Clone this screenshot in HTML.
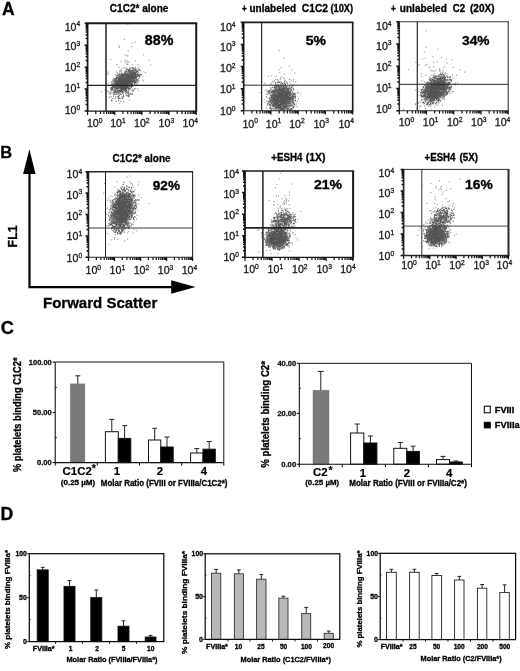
<!DOCTYPE html>
<html><head><meta charset="utf-8"><title>Figure</title>
<style>
html,body{margin:0;padding:0;background:#fff;}
body{width:520px;height:671px;overflow:hidden;}
svg{display:block;font-family:"Liberation Sans", Arial, Helvetica, sans-serif;filter:blur(0.4px);-webkit-font-smoothing:antialiased;}
</style></head><body>
<svg width="520" height="671" viewBox="0 0 520 671">
<defs><filter id="bl" x="-50%" y="-50%" width="200%" height="200%"><feGaussianBlur stdDeviation="1.6"/></filter></defs>
<rect width="520" height="671" fill="#fff"/>
<text x="2.0" y="14.8" font-size="17.5" font-weight="bold" text-anchor="start" fill="#000" stroke="#000" stroke-width="0.3" >A</text>
<text x="0.2" y="158.3" font-size="16.5" font-weight="bold" text-anchor="start" fill="#000" stroke="#000" stroke-width="0.3" >B</text>
<text x="0.7" y="333.8" font-size="18.2" font-weight="bold" text-anchor="start" fill="#000" stroke="#000" stroke-width="0.3" >C</text>
<text x="0.6" y="520.0" font-size="17.6" font-weight="bold" text-anchor="start" fill="#000" stroke="#000" stroke-width="0.3" >D</text>
<g><clipPath id="cp1"><rect x="87.6" y="23.2" width="108.6" height="87.9"/></clipPath>
<ellipse cx="125.5" cy="80" rx="13.2" ry="6.6" transform="rotate(-36 125.5 80)" fill="#828282" fill-opacity="0.85" filter="url(#bl)" clip-path="url(#cp1)"/>
<path d="M119.9 86.6h1M122.1 84.2h1M135.1 82.4h1M124.4 83.5h1M119.5 85.0h1M137.7 68.2h1M121.5 86.1h1M119.5 76.4h1M114.0 86.1h1M124.7 83.1h1M124.4 81.9h1M129.3 77.2h1M131.9 77.0h1M115.1 81.2h1M122.7 81.2h1M116.2 92.1h1M126.8 75.8h1M123.5 80.7h1M112.3 89.4h1M123.4 87.2h1M129.2 79.8h1M120.2 86.0h1M123.4 83.1h1M127.2 81.2h1M127.9 69.7h1M133.6 76.0h1M119.9 82.0h1M120.4 76.2h1M125.9 77.2h1M121.0 82.4h1M121.5 91.0h1M129.8 83.0h1M118.9 80.1h1M136.6 71.7h1M120.5 79.5h1M130.9 73.2h1M120.6 86.2h1M135.6 78.6h1M122.8 75.3h1M134.5 77.0h1M124.0 82.3h1M117.4 85.5h1M117.9 82.2h1M119.5 87.8h1M121.1 83.0h1M122.5 81.4h1M134.3 73.5h1M128.1 77.3h1M129.8 73.1h1M133.8 74.2h1M117.4 84.4h1M117.8 85.7h1M114.6 84.2h1M129.8 78.6h1M122.7 74.5h1M125.0 87.6h1M116.7 91.8h1M112.1 88.5h1M133.5 75.5h1M135.9 79.2h1M127.7 79.5h1M138.2 75.6h1M138.4 72.8h1M128.8 71.9h1M130.4 78.2h1M122.9 80.1h1M125.5 76.5h1M113.1 87.0h1M125.5 86.2h1M114.4 84.3h1M120.9 84.8h1M116.2 81.0h1M123.4 84.2h1M117.7 92.8h1M135.4 78.5h1M131.1 73.5h1M127.1 77.9h1M122.4 76.2h1M129.7 84.6h1M119.4 76.2h1M117.2 86.3h1M122.1 76.6h1M115.8 79.7h1M117.5 85.2h1M117.0 85.3h1M125.1 88.3h1M130.3 81.8h1M126.0 81.6h1M137.3 79.9h1M131.6 75.1h1M116.6 78.5h1M122.4 85.1h1M125.7 76.8h1M133.3 68.9h1M130.8 77.6h1M129.2 85.9h1M130.1 76.3h1M133.6 79.9h1M113.3 90.3h1M127.0 81.4h1M125.5 81.7h1M114.6 92.2h1M115.7 82.7h1M126.1 76.7h1M117.5 92.5h1M127.3 78.7h1M134.5 76.6h1M119.2 80.1h1M120.8 85.8h1M130.1 68.0h1M126.3 86.6h1M128.0 88.4h1M130.5 80.9h1M119.2 86.8h1M125.5 74.6h1M128.8 70.2h1M119.2 80.5h1M127.4 78.0h1M121.0 78.8h1M122.9 85.7h1M126.2 71.4h1M118.6 82.9h1M125.5 77.0h1M113.2 83.8h1M112.5 87.6h1M129.8 79.2h1M134.7 78.3h1M116.5 83.4h1M132.6 78.3h1M128.6 75.7h1M126.6 83.8h1M119.3 76.9h1M132.1 78.4h1M135.7 76.7h1M120.7 87.7h1M129.5 76.8h1M124.2 88.4h1M131.7 71.1h1M115.7 85.9h1M120.4 81.4h1M113.0 80.7h1M122.9 82.3h1M126.4 80.3h1M130.9 80.3h1M137.5 75.5h1M116.4 80.7h1M130.0 77.0h1M125.1 76.0h1M129.6 80.7h1M122.2 74.9h1M120.5 86.5h1M124.0 81.5h1M127.2 78.7h1M135.5 69.6h1M129.3 77.6h1M124.3 80.3h1M114.4 84.9h1M123.9 83.0h1M117.9 81.3h1M123.9 79.9h1M121.9 87.1h1M126.2 84.5h1M129.7 75.1h1M126.5 73.9h1M126.3 77.6h1M121.8 83.1h1M127.6 76.8h1M126.4 88.8h1M132.1 81.9h1M120.9 90.2h1M116.5 83.7h1M126.7 86.6h1M119.9 89.0h1M121.1 84.0h1M118.0 77.6h1M110.7 85.5h1M115.3 81.6h1M128.5 74.7h1M129.4 79.9h1M124.7 81.5h1M121.3 86.9h1M139.1 76.1h1M128.8 82.5h1M124.8 83.3h1M118.3 84.9h1M119.5 83.5h1M124.5 74.3h1M123.0 87.6h1M135.1 75.0h1M128.5 71.5h1M118.0 78.4h1M124.2 87.2h1M132.0 84.7h1M137.4 75.9h1M114.4 84.9h1M127.2 77.6h1M118.1 80.9h1M117.1 77.7h1M128.7 83.1h1M125.6 83.3h1M131.1 77.1h1M127.3 74.3h1M134.4 79.1h1M124.8 89.8h1M114.9 89.7h1M134.0 79.6h1M129.9 71.0h1M110.7 87.8h1M125.4 79.3h1M126.0 76.7h1M120.7 81.0h1M117.7 79.4h1M127.6 73.3h1M124.9 80.0h1M124.4 86.5h1M133.1 85.5h1M135.0 70.5h1M110.1 88.4h1M132.4 68.1h1M122.2 81.4h1M110.1 88.6h1M130.6 73.9h1M126.1 79.3h1M132.6 81.0h1M114.6 92.7h1M130.8 86.7h1M130.7 81.2h1M126.8 87.2h1M118.8 77.3h1M120.1 82.8h1M117.5 85.8h1M117.6 77.1h1M135.5 76.7h1M133.9 72.9h1M120.1 91.3h1M122.0 78.8h1M121.5 80.6h1M126.4 80.6h1M115.1 91.7h1M129.4 76.5h1M131.7 75.7h1M126.3 80.7h1M123.3 81.3h1M125.1 79.3h1M124.7 86.0h1M118.9 80.3h1M125.0 84.2h1M126.1 78.3h1M122.7 88.7h1M123.0 75.3h1M134.0 75.0h1M128.6 82.8h1M115.2 90.5h1M125.7 86.8h1M124.0 79.3h1M113.7 87.6h1M115.0 80.9h1M122.7 81.7h1M119.2 87.9h1M121.9 79.4h1M135.2 73.6h1M125.9 81.3h1M126.6 82.4h1M118.1 84.8h1M112.9 83.0h1M110.7 90.2h1M113.1 92.5h1M128.9 85.5h1M136.6 72.2h1M122.1 74.6h1M126.7 74.3h1M125.8 83.2h1M120.1 82.1h1M120.1 81.9h1M126.3 89.3h1M113.9 87.4h1M130.6 86.2h1M132.4 82.5h1M128.9 86.3h1M113.6 90.0h1M125.9 71.7h1M122.2 87.6h1M114.3 78.6h1M134.8 77.9h1M130.2 78.1h1M129.0 81.3h1M116.8 82.5h1M116.5 83.5h1M127.1 77.8h1M126.6 83.4h1M119.6 75.9h1M129.1 84.1h1M130.4 81.0h1M135.7 77.6h1M136.8 79.9h1M121.7 81.9h1M115.4 83.1h1M134.5 72.4h1M117.1 82.7h1M127.7 77.5h1M123.8 84.7h1M129.3 68.2h1M134.5 70.5h1M131.8 73.5h1M132.5 78.8h1M115.0 89.6h1M120.7 85.9h1M120.4 87.0h1M123.3 79.8h1M121.7 76.0h1M128.9 77.8h1M122.9 76.6h1M117.8 84.3h1M123.4 78.4h1M122.0 83.7h1M137.4 71.1h1M128.5 82.9h1M129.6 79.2h1M136.5 76.8h1M125.1 81.8h1M127.4 81.9h1M117.5 87.4h1M130.2 74.9h1M138.1 75.3h1M117.1 77.5h1M134.8 83.2h1M121.8 89.8h1M121.3 73.6h1M124.6 87.1h1M120.5 75.5h1M132.6 72.9h1M123.9 85.3h1M124.1 82.1h1M118.7 79.5h1M132.5 80.9h1M132.8 76.9h1M135.0 77.6h1M120.8 82.8h1M135.4 81.4h1M119.3 81.4h1M122.2 77.5h1M134.5 67.7h1M120.8 82.1h1M125.1 83.3h1M126.2 79.9h1M117.1 88.7h1M121.5 79.9h1M135.2 77.2h1M125.5 83.1h1M128.9 77.4h1M130.4 83.4h1M134.2 72.9h1M119.8 84.4h1M119.8 91.1h1M132.0 76.2h1M123.9 81.9h1M129.7 77.8h1M121.6 91.6h1M113.8 87.4h1M126.7 80.0h1M138.3 78.7h1M127.7 71.2h1M123.1 78.3h1M114.6 88.5h1M119.1 81.2h1M123.7 74.3h1M115.7 92.6h1M126.2 80.1h1M126.7 76.8h1M119.7 75.4h1M113.7 88.0h1M131.3 80.2h1M130.4 76.4h1M120.9 88.1h1M124.7 71.8h1M129.3 76.7h1M116.3 87.6h1M132.8 77.3h1M131.3 81.5h1M117.1 77.0h1M116.4 75.7h1M123.2 81.4h1M130.6 74.2h1M121.8 81.5h1M133.5 79.8h1M136.5 74.6h1M128.3 81.1h1M129.9 75.7h1M123.1 80.9h1M131.8 77.4h1M126.8 80.6h1M131.1 79.9h1M116.1 87.5h1M122.3 85.2h1M122.8 76.6h1M125.3 80.2h1M124.9 78.4h1M134.5 80.8h1M134.0 80.9h1M131.2 74.8h1M133.3 78.4h1M122.3 79.4h1M128.8 78.9h1M119.8 80.5h1M131.6 76.5h1M129.3 85.8h1M133.2 72.1h1M127.2 79.7h1M123.6 74.7h1M120.6 87.9h1M132.4 78.6h1M123.4 87.3h1M130.9 81.0h1M140.0 74.6h1M120.0 77.5h1M121.8 87.3h1M132.9 74.7h1M133.8 76.4h1M123.7 74.7h1M124.7 84.7h1M120.4 86.7h1M128.0 77.9h1M114.7 82.1h1M126.7 76.0h1M125.0 82.0h1M125.0 81.3h1M124.8 78.5h1M123.4 90.4h1M119.5 73.8h1M125.3 71.0h1M124.3 82.5h1M130.9 85.3h1M120.1 81.0h1M132.5 71.5h1M122.1 78.7h1M121.5 82.0h1M124.0 85.1h1M120.8 77.9h1M117.4 83.5h1M120.9 74.3h1M134.8 77.5h1M127.8 88.1h1M117.2 75.3h1M117.9 88.8h1M113.3 92.6h1M114.1 87.8h1M123.7 78.1h1M113.8 91.0h1M129.3 70.4h1M123.7 78.7h1M127.2 80.5h1M114.6 84.1h1M126.1 88.4h1M127.8 76.7h1M116.1 77.0h1M133.1 78.0h1M120.0 76.6h1M124.0 80.6h1M126.0 81.7h1M121.1 87.4h1M122.0 75.2h1M113.6 79.9h1M124.4 86.9h1M127.6 82.2h1M122.8 76.3h1M117.8 82.0h1M132.0 75.7h1M137.3 79.8h1M120.2 78.9h1M135.8 71.3h1M121.0 82.9h1M133.5 77.6h1M123.0 75.7h1M126.3 75.8h1M122.1 88.7h1M132.1 69.8h1M129.9 83.5h1M120.2 88.6h1M131.3 84.2h1M130.4 82.8h1M121.4 82.4h1M123.9 88.0h1M130.6 84.1h1M123.0 81.7h1M122.3 88.9h1M127.6 75.5h1M121.7 82.1h1M128.3 78.0h1M126.0 90.1h1M131.9 73.0h1M117.4 90.4h1M128.7 79.6h1M130.9 71.1h1M137.1 76.3h1M130.0 78.5h1M123.1 78.2h1M116.7 88.3h1M116.1 85.5h1M120.4 78.0h1M126.0 79.6h1M122.4 82.7h1M121.5 86.4h1M119.2 82.7h1M131.6 79.4h1M128.0 79.7h1M123.7 83.9h1M127.8 79.1h1M135.4 80.9h1M122.9 80.7h1M126.5 87.7h1M132.0 83.2h1M131.0 81.0h1M123.3 85.9h1M124.6 79.7h1M129.2 80.1h1M130.9 75.8h1M110.9 88.6h1M138.3 74.6h1M115.1 90.7h1M125.3 82.5h1M111.0 84.8h1M112.3 85.0h1M136.0 80.1h1M126.9 83.8h1M112.0 89.9h1M115.6 84.4h1M131.9 73.5h1M121.3 83.0h1M122.7 80.6h1M129.6 77.6h1M126.4 83.6h1M140.2 70.7h1M120.7 84.3h1M130.2 73.4h1M121.4 79.7h1M135.9 75.8h1M129.4 73.0h1M115.6 78.7h1M124.5 81.2h1M118.1 86.6h1M122.2 76.6h1M123.9 78.3h1M118.3 77.0h1M136.2 82.1h1M113.6 86.5h1M115.9 85.9h1M129.1 69.1h1M129.3 81.3h1M122.9 84.2h1M127.8 81.1h1M125.4 74.3h1M119.7 79.0h1M130.7 70.3h1M126.2 77.4h1M113.7 91.0h1M122.9 89.3h1M122.6 76.9h1M121.9 85.4h1M114.0 81.4h1M132.5 71.0h1M122.0 78.5h1M134.9 82.6h1M127.9 77.3h1M118.5 80.6h1M114.9 83.3h1M120.6 80.8h1M123.7 82.0h1M124.8 73.5h1M111.5 89.7h1M132.7 74.3h1M129.6 74.9h1M114.3 82.0h1M129.9 85.2h1M116.3 84.1h1M129.2 85.7h1M126.0 69.6h1M133.8 82.0h1M122.8 87.4h1M125.7 77.9h1M126.8 78.2h1M125.4 79.7h1M127.5 80.1h1M115.9 83.3h1M118.3 74.5h1M115.1 85.6h1M132.0 78.3h1M131.8 84.4h1M119.9 85.1h1M133.4 74.6h1M115.1 84.2h1M123.4 75.5h1M120.7 76.7h1M126.1 78.5h1M125.6 83.8h1M129.5 76.9h1M117.5 82.3h1M128.1 80.3h1M116.4 88.9h1M123.1 76.4h1M134.2 69.5h1M122.4 83.0h1M131.2 86.7h1M121.6 85.9h1M115.4 84.4h1M114.2 79.1h1M130.6 80.6h1M122.1 80.1h1M130.6 68.0h1M129.5 78.3h1M127.9 80.1h1M119.5 79.2h1M133.4 78.1h1M117.1 81.6h1M132.0 72.9h1M124.4 77.7h1M135.4 69.5h1M118.2 82.1h1M129.8 80.6h1M117.3 84.2h1M127.0 81.3h1M133.3 70.9h1M125.7 81.0h1M134.9 74.3h1M125.6 78.9h1M121.3 80.9h1M129.7 78.5h1M125.4 85.5h1M134.1 76.5h1M122.2 89.1h1M113.1 86.7h1M124.4 78.4h1M130.3 83.9h1M117.4 84.8h1M131.1 79.5h1M118.7 74.6h1M116.1 77.3h1M130.6 74.6h1M115.9 77.2h1M125.5 84.7h1M117.4 87.5h1M121.9 81.9h1M119.1 78.7h1M120.0 77.3h1M118.2 75.2h1M125.6 71.9h1M120.9 83.8h1M133.4 72.2h1M134.0 80.4h1M121.8 92.0h1M118.9 91.4h1M135.3 82.3h1M125.9 79.4h1M123.9 80.4h1M128.6 78.1h1M120.9 79.6h1M113.7 90.7h1M131.1 73.6h1M130.0 71.6h1M122.1 83.1h1M125.5 83.1h1M128.5 69.9h1M129.5 71.6h1M126.2 82.1h1M131.2 79.3h1M120.5 86.1h1M134.2 74.2h1M140.7 74.7h1M122.1 74.3h1M113.7 81.0h1M125.5 80.8h1M134.2 77.2h1M122.6 74.7h1M118.5 82.9h1M114.8 82.2h1M122.9 81.4h1M117.5 87.6h1M125.2 86.9h1M124.3 78.3h1M133.9 84.2h1M121.3 77.9h1M129.8 83.0h1M132.1 86.3h1M123.3 78.3h1M124.4 78.1h1M117.7 91.2h1M133.4 74.7h1M133.8 81.3h1M119.0 83.1h1M112.1 84.0h1M122.3 78.5h1M125.1 75.4h1M126.7 75.5h1M137.6 70.3h1M120.7 79.1h1M123.8 78.8h1M119.4 78.9h1M132.2 76.3h1M118.0 82.7h1M115.1 85.9h1M124.4 84.9h1M115.0 82.8h1M128.1 82.6h1M135.5 71.4h1M114.0 81.9h1M111.2 83.0h1M131.8 74.3h1M116.6 84.5h1M128.1 70.8h1M126.6 76.7h1M133.3 77.7h1M131.9 78.9h1M128.5 79.2h1M125.2 72.0h1M130.6 81.5h1M122.6 77.2h1M116.8 90.6h1M131.0 87.0h1M119.0 87.9h1M119.2 82.6h1M126.5 81.5h1M124.1 83.7h1M132.6 72.8h1M127.6 84.9h1M139.2 75.9h1M127.1 87.3h1M130.8 80.7h1M126.5 80.5h1M130.0 76.9h1M118.5 82.2h1M123.6 79.1h1M123.2 83.8h1M123.8 83.7h1M125.3 89.0h1M115.8 83.7h1M125.4 86.3h1M131.0 78.8h1M126.2 71.5h1M134.7 77.6h1M123.4 74.7h1M119.7 75.9h1M113.0 87.7h1M120.6 90.8h1M119.3 87.2h1M121.9 77.3h1M132.9 82.2h1M123.6 88.3h1M112.7 83.8h1M129.5 88.1h1M130.8 83.2h1M126.5 81.5h1M132.9 76.2h1M125.9 78.2h1M124.8 83.7h1M127.4 83.5h1M118.6 81.9h1M128.1 76.9h1M116.2 91.7h1M133.4 81.3h1M134.0 79.7h1M124.1 81.1h1M129.1 80.5h1M117.8 79.4h1M133.0 68.3h1M119.3 80.6h1M111.7 81.6h1M125.3 79.2h1M122.5 88.0h1M126.0 77.4h1M133.7 75.7h1M126.2 80.6h1M121.9 76.9h1M116.5 80.7h1M134.6 75.8h1M135.0 76.3h1M128.3 81.6h1M116.0 83.4h1M134.7 69.1h1M124.7 72.4h1M135.5 75.4h1M111.8 87.9h1M116.0 85.5h1M128.4 80.6h1M125.2 79.1h1M120.4 91.4h1M121.0 87.6h1M125.5 80.2h1M129.6 75.2h1M124.3 78.1h1M136.0 72.4h1M126.6 88.2h1M128.7 77.3h1M129.3 83.9h1M136.9 73.8h1M132.5 72.8h1M120.4 81.3h1M133.7 74.7h1M127.0 81.3h1M124.7 79.1h1M126.1 88.6h1M111.5 81.6h1M115.4 86.7h1M125.5 77.9h1M131.2 79.0h1M113.0 84.0h1M123.8 81.0h1M129.0 84.2h1M130.3 78.1h1M123.4 74.2h1M112.7 87.2h1M125.4 75.2h1M128.7 88.4h1M115.7 88.9h1M129.0 72.8h1M130.1 76.0h1M130.7 81.5h1M126.8 74.1h1M111.8 84.0h1M125.3 74.3h1M134.3 76.8h1M117.8 86.0h1M125.9 77.4h1M126.5 82.9h1M133.7 76.5h1M116.3 87.8h1M122.4 80.1h1M126.0 78.1h1M123.2 83.4h1M132.5 80.5h1M124.0 75.7h1M115.2 83.7h1M125.5 82.8h1M114.6 87.5h1M139.2 75.0h1M135.1 72.9h1M129.9 72.1h1M130.8 76.9h1M119.7 81.1h1M121.7 81.5h1M121.8 79.1h1M127.3 77.8h1M120.0 75.4h1M138.6 69.8h1M112.2 86.2h1M124.9 72.1h1M129.9 76.5h1M134.5 76.1h1M120.5 84.7h1M127.4 77.9h1M136.8 71.3h1M118.5 85.0h1M122.0 77.4h1M114.8 82.7h1M126.5 85.9h1M125.3 85.1h1M112.2 86.4h1M134.1 79.7h1M130.0 71.2h1M134.0 83.2h1M116.3 84.2h1M125.3 80.0h1M117.9 84.8h1M121.1 74.8h1M124.2 73.3h1M132.8 72.6h1M118.7 77.7h1M132.0 67.5h1M115.8 82.3h1M129.5 82.5h1M138.8 69.6h1M125.1 76.7h1M124.4 82.4h1M111.1 90.4h1M130.4 76.8h1M135.2 78.2h1M126.2 75.6h1M121.5 86.4h1M133.0 76.1h1M126.7 75.3h1M129.0 77.9h1M122.2 74.4h1M129.4 80.8h1M127.4 73.7h1M119.8 79.2h1M119.0 78.0h1M121.3 82.1h1M116.9 80.9h1M116.7 84.2h1M119.6 77.1h1M123.6 83.5h1M129.0 85.8h1M122.9 83.8h1M125.0 81.6h1M126.5 77.6h1M122.3 78.9h1M132.7 80.9h1M123.5 76.0h1M137.6 80.7h1M128.9 83.5h1M128.3 84.0h1M126.6 84.1h1M126.0 76.5h1M111.3 87.3h1M127.2 74.9h1M129.4 71.5h1M133.5 76.8h1M131.3 76.0h1M124.4 85.5h1M134.8 69.2h1M137.6 76.1h1M128.6 79.7h1M128.4 75.9h1M126.7 69.2h1M127.4 80.4h1M137.5 74.6h1M114.8 78.4h1M121.5 84.3h1M118.4 79.7h1M115.2 79.6h1M123.2 84.9h1M131.3 75.9h1M117.6 81.0h1M136.0 80.3h1M125.9 86.1h1M120.8 80.3h1M119.6 77.8h1M136.1 70.0h1M129.4 81.2h1M115.4 85.4h1M116.8 80.9h1M130.9 77.1h1M121.5 80.7h1M123.1 74.0h1M125.8 86.5h1M126.2 80.7h1M127.0 86.2h1M130.4 76.2h1M122.1 79.7h1M139.2 77.2h1M135.6 69.8h1M131.3 80.7h1M128.6 82.5h1M118.3 84.0h1M135.5 78.2h1M134.3 81.5h1M125.4 88.5h1M125.7 77.4h1M117.7 86.3h1M125.1 83.9h1M128.4 83.4h1M133.8 73.1h1M123.4 79.4h1M126.0 87.2h1M131.8 73.1h1" stroke="#484848" stroke-width="1.2" stroke-opacity="0.85" fill="none"/>
<path d="M119.1 71.2h1M135.1 88.4h1M128.7 89.2h1M143.2 54.7h1M136.9 85.2h1M105.0 89.4h1M111.0 96.8h1M135.0 61.0h1M138.5 81.0h1M107.6 84.0h1M148.6 60.5h1M124.6 68.1h1M116.4 94.0h1M125.1 91.2h1M126.2 91.3h1M137.2 81.9h1M119.6 93.4h1M128.5 89.7h1M126.3 68.1h1M116.5 94.4h1M104.7 89.7h1M150.2 64.8h1M142.6 80.1h1M135.7 84.5h1M115.5 94.5h1M106.1 91.0h1M101.0 91.6h1M131.5 89.2h1M114.1 93.8h1M116.0 71.9h1M137.5 82.2h1M145.2 72.7h1M106.9 91.1h1M143.4 71.8h1M137.7 90.5h1M114.8 74.9h1M118.8 73.2h1M139.5 66.0h1M108.0 92.1h1M137.2 83.6h1M121.8 93.5h1M129.6 88.4h1M113.0 78.7h1M142.6 80.8h1M111.6 92.3h1M129.5 89.5h1M109.5 91.9h1M134.3 69.9h1M127.7 62.5h1M131.4 43.0h1M116.5 73.8h1M108.6 74.5h1M126.4 64.1h1M131.4 46.7h1M121.2 70.7h1M128.5 73.1h1M118.8 47.3h1M124.5 62.4h1M124.9 54.8h1M127.1 60.7h1M127.1 64.5h1M108.0 72.1h1M118.4 67.4h1M107.0 73.5h1M127.4 24.3h1M123.1 67.6h1M125.8 62.0h1M127.4 69.5h1M131.7 64.5h1M120.7 61.4h1M137.5 64.6h1M124.3 74.2h1M116.4 64.6h1M134.7 42.2h1M131.2 71.4h1M126.7 55.8h1M129.4 73.6h1M126.9 64.2h1M110.2 59.5h1M127.2 55.9h1M127.7 50.8h1M119.7 70.2h1M123.9 39.3h1M120.2 71.5h1M124.6 60.2h1M129.4 70.4h1M120.7 72.3h1M128.9 61.5h1M121.0 68.9h1M132.2 74.5h1M118.6 45.9h1M117.0 73.1h1" stroke="#777" stroke-width="1.2" stroke-opacity="0.75" fill="none"/>
<ellipse cx="121" cy="93" rx="9.8" ry="6.8" transform="rotate(-20 121 93)" fill="#828282" fill-opacity="0.0" filter="url(#bl)" clip-path="url(#cp1)"/>
<path d="M112.9 94.1h1M127.9 93.0h1M113.0 96.2h1M122.2 87.3h1M115.6 101.2h1M124.6 89.4h1M128.9 85.4h1M120.8 94.4h1M118.9 95.6h1M128.3 89.8h1M124.3 90.7h1M120.7 91.9h1M114.2 94.3h1M126.6 95.8h1M117.8 98.5h1M118.9 98.3h1M128.2 96.7h1M118.2 90.8h1M119.9 91.6h1M123.2 97.0h1M125.7 95.2h1M133.2 91.0h1M125.2 91.5h1M127.7 93.4h1M127.3 91.3h1M127.8 87.6h1M123.1 96.0h1M125.0 89.3h1M131.6 90.9h1M123.6 89.6h1M122.4 91.5h1M123.0 95.1h1M115.4 96.9h1M122.3 85.3h1M125.3 86.4h1M124.7 88.3h1M120.9 89.3h1M132.3 90.4h1M113.7 86.3h1M121.0 88.4h1M128.1 95.9h1M125.3 88.4h1M123.1 96.5h1M119.7 91.7h1M126.7 87.5h1M119.3 87.1h1M115.1 91.3h1M128.2 91.8h1M111.5 100.8h1M121.6 90.2h1M132.0 93.8h1M120.0 90.3h1M123.3 101.9h1M128.5 94.6h1M118.1 93.0h1M130.8 87.4h1M117.6 85.3h1M117.5 96.5h1M123.2 85.4h1M124.5 90.3h1M111.0 100.1h1M118.1 96.6h1M125.1 93.1h1M125.7 90.9h1M118.8 93.2h1M122.3 88.4h1M118.4 95.0h1M117.8 100.3h1M118.5 95.2h1M122.1 92.4h1M130.3 93.6h1M122.3 92.8h1M117.7 98.3h1M121.7 96.9h1M123.4 92.1h1M112.2 98.5h1M130.6 94.1h1M120.5 101.3h1M126.6 93.2h1M110.3 92.7h1M127.7 95.3h1M117.8 97.5h1M114.8 98.5h1M127.6 87.3h1M133.7 88.8h1M121.7 97.5h1M122.3 98.8h1M109.1 94.0h1M128.5 86.3h1M128.8 89.0h1M116.5 94.2h1M120.4 98.5h1M120.2 94.0h1M115.9 88.0h1M121.2 90.1h1M129.7 93.8h1M110.3 94.0h1M121.5 88.0h1M113.6 91.5h1M118.9 91.4h1M109.3 97.1h1M128.6 96.4h1M126.1 92.3h1M122.8 87.8h1M119.3 90.3h1" stroke="#484848" stroke-width="1.2" stroke-opacity="0.85" fill="none"/>
<path d="M137.1 88.5h1M112.0 79.9h1M110.2 89.2h1M118.8 103.2h1M128.9 100.1h1" stroke="#777" stroke-width="1.2" stroke-opacity="0.75" fill="none"/>
<line x1="106" y1="23.2" x2="106" y2="111.1" stroke="#222" stroke-width="1.5"/>
<line x1="87.6" y1="85.4" x2="196.2" y2="85.4" stroke="#222" stroke-width="1.1"/>
<line x1="86.75" y1="23.2" x2="197.20" y2="23.2" stroke="#1a1a1a" stroke-width="1.9"/>
<line x1="196.2" y1="23.2" x2="196.2" y2="111.1" stroke="#1a1a1a" stroke-width="2.0"/>
<line x1="86.75" y1="111.1" x2="197.20" y2="111.1" stroke="#1a1a1a" stroke-width="1.1"/>
<line x1="87.6" y1="23.2" x2="87.6" y2="111.1" stroke="#1a1a1a" stroke-width="1.7"/>
<path d="M87.6 111.1v3.8M95.8 111.1v2.8M100.6 111.1v2.8M103.9 111.1v2.8M106.6 111.1v2.8M108.7 111.1v2.8M110.5 111.1v2.8M112.1 111.1v2.8M113.5 111.1v2.8M114.8 111.1v3.8M122.9 111.1v2.8M127.7 111.1v2.8M131.1 111.1v2.8M133.7 111.1v2.8M135.9 111.1v2.8M137.7 111.1v2.8M139.3 111.1v2.8M140.7 111.1v2.8M141.9 111.1v3.8M150.1 111.1v2.8M154.9 111.1v2.8M158.2 111.1v2.8M160.9 111.1v2.8M163.0 111.1v2.8M164.8 111.1v2.8M166.4 111.1v2.8M167.8 111.1v2.8M169.0 111.1v3.8M177.2 111.1v2.8M182.0 111.1v2.8M185.4 111.1v2.8M188.0 111.1v2.8M190.2 111.1v2.8M192.0 111.1v2.8M193.6 111.1v2.8M195.0 111.1v2.8M196.2 111.1v3.8" stroke="#111" stroke-width="1.2" fill="none"/>
<path d="M87.6 111.1h-3.0M87.6 104.5h-2.0M87.6 100.6h-2.0M87.6 97.9h-2.0M87.6 95.7h-2.0M87.6 94.0h-2.0M87.6 92.5h-2.0M87.6 91.3h-2.0M87.6 90.1h-2.0M87.6 89.1h-3.0M87.6 82.5h-2.0M87.6 78.6h-2.0M87.6 75.9h-2.0M87.6 73.8h-2.0M87.6 72.0h-2.0M87.6 70.6h-2.0M87.6 69.3h-2.0M87.6 68.2h-2.0M87.6 67.2h-3.0M87.6 60.5h-2.0M87.6 56.7h-2.0M87.6 53.9h-2.0M87.6 51.8h-2.0M87.6 50.1h-2.0M87.6 48.6h-2.0M87.6 47.3h-2.0M87.6 46.2h-2.0M87.6 45.2h-3.0M87.6 38.6h-2.0M87.6 34.7h-2.0M87.6 31.9h-2.0M87.6 29.8h-2.0M87.6 28.1h-2.0M87.6 26.6h-2.0M87.6 25.3h-2.0M87.6 24.2h-2.0M87.6 23.2h-3.0" stroke="#111" stroke-width="1.5" fill="none"/>
<text x="109.8" y="12.4" font-size="10.2" font-weight="bold" text-anchor="start" fill="#000" stroke="#000" stroke-width="0.3" textLength="58.6" lengthAdjust="spacingAndGlyphs" >C1C2* alone</text>
<text x="144.8" y="45.4" font-size="14" font-weight="bold" text-anchor="start" fill="#000" textLength="28.5" lengthAdjust="spacingAndGlyphs" stroke="#000" stroke-width="0.35">88%</text>
<text x="64.7" y="30.6" font-size="10.6" font-weight="normal" fill="#1a1a1a" stroke="#1a1a1a" stroke-width="0.3">10<tspan dy="-4.2" font-size="6.7">4</tspan></text>
<text x="64.7" y="50.4" font-size="10.6" font-weight="normal" fill="#1a1a1a" stroke="#1a1a1a" stroke-width="0.3">10<tspan dy="-4.2" font-size="6.7">3</tspan></text>
<text x="64.7" y="71.0" font-size="10.6" font-weight="normal" fill="#1a1a1a" stroke="#1a1a1a" stroke-width="0.3">10<tspan dy="-4.2" font-size="6.7">2</tspan></text>
<text x="64.7" y="92.3" font-size="10.6" font-weight="normal" fill="#1a1a1a" stroke="#1a1a1a" stroke-width="0.3">10<tspan dy="-4.2" font-size="6.7">1</tspan></text>
<text x="64.7" y="114.2" font-size="10.6" font-weight="normal" fill="#1a1a1a" stroke="#1a1a1a" stroke-width="0.3">10<tspan dy="-4.2" font-size="6.7">0</tspan></text>
<text x="86.9" y="127.0" font-size="10.6" font-weight="normal" fill="#1a1a1a" stroke="#1a1a1a" stroke-width="0.3">10<tspan dy="-4.2" font-size="6.7">0</tspan></text>
<text x="110.2" y="127.0" font-size="10.6" font-weight="normal" fill="#1a1a1a" stroke="#1a1a1a" stroke-width="0.3">10<tspan dy="-4.2" font-size="6.7">1</tspan></text>
<text x="134.0" y="127.0" font-size="10.6" font-weight="normal" fill="#1a1a1a" stroke="#1a1a1a" stroke-width="0.3">10<tspan dy="-4.2" font-size="6.7">2</tspan></text>
<text x="158.6" y="127.0" font-size="10.6" font-weight="normal" fill="#1a1a1a" stroke="#1a1a1a" stroke-width="0.3">10<tspan dy="-4.2" font-size="6.7">3</tspan></text>
<text x="182.5" y="127.0" font-size="10.6" font-weight="normal" fill="#1a1a1a" stroke="#1a1a1a" stroke-width="0.3">10<tspan dy="-4.2" font-size="6.7">4</tspan></text>
</g>
<g><clipPath id="cp2"><rect x="243.7" y="22.3" width="109.0" height="88.5"/></clipPath>
<ellipse cx="281" cy="98" rx="10.8" ry="12.3" transform="rotate(0 281 98)" fill="#828282" fill-opacity="0.85" filter="url(#bl)" clip-path="url(#cp2)"/>
<path d="M290.1 105.0h1M293.1 107.4h1M277.1 100.2h1M273.7 92.9h1M288.5 100.8h1M282.6 91.1h1M286.5 102.0h1M271.9 92.9h1M283.9 107.0h1M289.2 92.8h1M284.1 97.2h1M285.1 86.3h1M278.7 85.7h1M282.9 94.5h1M292.1 96.1h1M284.2 102.5h1M281.1 96.7h1M277.3 103.5h1M287.8 89.0h1M274.6 103.2h1M286.9 88.4h1M273.8 101.0h1M277.7 107.4h1M288.3 90.5h1M273.3 99.1h1M294.8 98.7h1M292.2 86.8h1M291.5 97.9h1M276.4 85.8h1M289.5 101.0h1M281.2 100.7h1M279.2 101.6h1M274.8 95.9h1M291.7 92.0h1M285.6 94.5h1M290.1 91.8h1M280.3 95.7h1M286.0 97.0h1M279.9 98.1h1M291.6 96.2h1M277.2 98.8h1M279.6 94.1h1M279.9 90.0h1M282.0 92.7h1M281.9 91.1h1M266.9 103.8h1M276.3 105.2h1M285.7 97.9h1M276.1 104.2h1M286.2 106.5h1M277.8 86.2h1M285.7 94.2h1M286.0 103.5h1M288.1 99.5h1M285.2 105.8h1M288.7 91.7h1M266.4 101.1h1M280.0 103.0h1M277.2 82.7h1M291.6 89.2h1M275.6 103.7h1M273.3 104.4h1M277.3 92.8h1M291.0 94.3h1M286.1 103.4h1M285.5 104.4h1M280.6 83.3h1M283.8 99.6h1M285.4 103.2h1M281.9 104.7h1M287.5 98.5h1M281.6 95.4h1M283.1 95.3h1M281.6 99.5h1M284.9 93.9h1M288.8 87.0h1M291.9 97.5h1M278.6 94.3h1M282.1 88.1h1M281.1 89.8h1M274.2 91.4h1M279.2 104.5h1M272.2 106.2h1M277.5 84.7h1M288.3 93.2h1M278.8 94.6h1M274.3 97.3h1M271.5 102.4h1M269.3 101.3h1M274.2 99.4h1M282.9 88.5h1M278.1 89.3h1M287.1 83.4h1M283.8 92.2h1M291.6 98.3h1M285.9 94.7h1M286.1 94.0h1M282.8 96.9h1M288.8 95.4h1M279.0 107.5h1M276.0 108.5h1M288.5 88.4h1M273.5 98.1h1M288.7 100.2h1M276.9 97.5h1M283.2 91.7h1M283.7 90.3h1M292.2 92.2h1M282.2 109.6h1M284.8 94.2h1M292.8 107.9h1M282.6 91.5h1M273.5 94.4h1M277.5 93.4h1M282.8 102.8h1M269.1 104.6h1M284.8 92.0h1M276.8 93.3h1M293.8 106.4h1M282.8 95.8h1M273.9 103.5h1M295.0 94.2h1M287.6 105.4h1M285.0 95.1h1M286.7 108.6h1M269.3 93.1h1M290.3 90.8h1M271.7 102.5h1M287.7 91.0h1M273.4 100.0h1M278.3 92.8h1M279.9 107.7h1M272.8 95.1h1M280.5 91.0h1M271.0 100.4h1M292.4 107.4h1M290.4 97.1h1M281.6 103.1h1M281.4 94.9h1M268.3 92.4h1M293.1 97.9h1M273.1 90.5h1M277.8 82.5h1M270.1 95.2h1M280.0 94.3h1M284.8 87.4h1M282.4 96.5h1M274.7 88.3h1M283.5 91.8h1M291.2 99.0h1M276.8 93.4h1M274.2 86.0h1M277.3 99.2h1M291.6 108.8h1M284.2 97.8h1M272.8 98.3h1M283.3 103.0h1M287.6 98.8h1M282.2 102.8h1M287.0 99.5h1M266.7 94.5h1M282.2 96.7h1M274.6 104.6h1M293.4 102.8h1M292.3 96.1h1M275.1 95.6h1M279.2 89.0h1M275.0 96.0h1M282.9 97.7h1M294.9 96.0h1M274.0 93.7h1M283.6 99.7h1M288.1 96.7h1M292.7 96.7h1M294.4 100.9h1M280.7 98.8h1M279.7 94.5h1M275.1 94.9h1M282.1 97.8h1M287.9 90.9h1M286.4 108.0h1M284.7 102.1h1M281.0 90.1h1M288.9 93.8h1M283.0 96.0h1M283.9 103.3h1M273.4 95.2h1M283.0 97.4h1M276.6 96.8h1M285.8 89.6h1M283.1 86.8h1M288.4 98.5h1M286.7 109.5h1M272.3 104.8h1M289.6 103.5h1M278.0 93.8h1M278.0 82.1h1M271.7 105.4h1M287.5 109.0h1M278.5 98.5h1M282.2 103.8h1M281.8 96.1h1M270.9 98.3h1M283.7 95.6h1M272.6 95.4h1M282.1 89.5h1M278.5 90.9h1M278.6 96.7h1M285.0 101.2h1M283.4 85.2h1M270.7 95.6h1M287.2 88.3h1M286.6 99.6h1M282.9 87.4h1M272.8 98.7h1M280.8 94.1h1M276.0 96.6h1M287.5 101.4h1M287.5 96.6h1M280.5 84.9h1M288.1 99.2h1M276.2 94.9h1M275.3 107.3h1M286.3 97.6h1M274.0 94.9h1M280.9 101.4h1M287.2 93.7h1M282.6 94.2h1M291.8 100.2h1M292.5 94.2h1M287.4 91.3h1M286.0 96.4h1M288.4 88.1h1M284.3 99.2h1M280.8 82.5h1M268.3 104.0h1M279.8 95.1h1M274.0 95.0h1M288.2 89.8h1M280.2 108.6h1M288.7 107.3h1M275.2 82.5h1M291.4 108.8h1M281.6 98.4h1M290.3 109.7h1M278.7 93.8h1M279.0 96.7h1M284.5 92.3h1M283.3 96.1h1M275.6 104.6h1M268.8 98.7h1M274.3 90.9h1M284.5 83.4h1M274.2 92.6h1M275.6 103.9h1M286.8 90.6h1M286.4 90.9h1M272.2 99.0h1M272.1 100.9h1M281.0 89.9h1M283.7 96.6h1M281.8 102.2h1M285.8 96.6h1M286.7 91.3h1M275.8 100.2h1M276.5 96.9h1M290.7 85.2h1M286.2 82.1h1M275.6 86.4h1M287.1 95.7h1M276.8 96.1h1M272.8 108.6h1M276.6 100.1h1M273.3 105.6h1M276.8 95.7h1M280.9 102.9h1M291.5 94.6h1M273.1 102.7h1M286.5 107.2h1M290.1 108.9h1M277.6 102.7h1M268.7 97.9h1M290.3 105.3h1M270.8 96.3h1M274.2 98.1h1M285.2 98.9h1M283.1 106.9h1M276.6 100.4h1M284.0 98.8h1M278.3 100.4h1M286.7 106.1h1M281.1 106.7h1M284.7 92.5h1M270.9 103.5h1M292.8 103.8h1M274.7 90.0h1M284.1 91.0h1M283.5 103.9h1M282.5 90.8h1M286.9 97.8h1M286.4 91.1h1M283.7 82.8h1M269.7 102.4h1M278.2 87.8h1M293.1 98.6h1M278.0 101.4h1M285.2 102.8h1M278.0 97.8h1M286.6 99.6h1M283.0 95.4h1M293.6 94.0h1M279.7 93.5h1M274.6 98.8h1M282.6 99.1h1M286.3 108.9h1M286.0 100.5h1M280.0 100.2h1M280.5 102.4h1M289.8 95.5h1M290.2 105.8h1M286.7 97.3h1M282.9 96.2h1M283.1 99.4h1M286.7 99.7h1M274.8 98.7h1M275.3 103.4h1M281.4 95.0h1M282.3 99.6h1M283.3 97.5h1M273.9 87.3h1M282.7 94.1h1M280.8 86.0h1M268.0 93.0h1M290.1 99.5h1M281.1 109.4h1M291.1 87.4h1M285.3 93.6h1M275.2 96.2h1M279.9 94.9h1M283.9 97.2h1M272.2 102.2h1M294.1 104.6h1M278.4 96.5h1M281.5 93.7h1M291.7 98.9h1M273.7 87.2h1M286.1 95.3h1M287.6 102.9h1M277.6 104.9h1M275.9 90.8h1M280.2 107.7h1M288.7 96.6h1M271.5 96.9h1M273.1 94.6h1M280.1 95.3h1M284.3 108.2h1M289.2 97.3h1M277.2 102.6h1M277.3 96.4h1M282.9 101.8h1M282.5 98.0h1M275.4 104.9h1M287.6 89.7h1M276.6 103.2h1M276.2 106.9h1M271.0 108.9h1M271.5 92.3h1M283.4 106.2h1M272.2 101.3h1M285.0 95.6h1M275.2 95.6h1M276.2 87.4h1M282.0 109.1h1M280.2 98.5h1M287.9 108.7h1M288.0 92.8h1M282.0 96.5h1M271.6 102.3h1M285.7 104.7h1M286.3 94.5h1M278.7 95.9h1M286.9 100.3h1M284.9 103.9h1M282.6 106.9h1M277.3 86.3h1M277.0 91.3h1M288.4 103.6h1M283.5 99.1h1M271.1 97.9h1M277.3 100.9h1M273.1 98.7h1M270.1 109.0h1M287.4 102.1h1M281.9 102.1h1M286.5 86.5h1M275.8 98.6h1M284.5 97.6h1M282.7 101.9h1M283.2 102.1h1M284.3 83.0h1M280.5 89.2h1M280.4 99.1h1M287.7 91.8h1M274.7 94.7h1M283.2 101.0h1M275.4 90.4h1M292.9 100.1h1M283.6 103.1h1M273.5 97.9h1M280.3 94.8h1M285.3 97.3h1M293.2 89.9h1M285.7 108.5h1M275.8 103.2h1M286.2 88.0h1M280.8 93.5h1M274.9 87.7h1M275.1 108.1h1M283.7 86.2h1M274.8 104.3h1M274.4 93.8h1M282.6 94.3h1M284.2 102.7h1M278.6 105.7h1M273.4 107.0h1M278.4 101.7h1M270.6 89.3h1M269.9 104.6h1M278.8 85.9h1M282.0 91.1h1M274.4 98.0h1M284.0 89.9h1M292.4 94.5h1M274.8 87.0h1M280.6 109.0h1M266.0 96.9h1M278.1 97.7h1M279.2 105.6h1M276.0 107.4h1M280.5 86.6h1M283.7 95.5h1M277.8 82.2h1M284.7 106.7h1M277.0 89.6h1M279.6 101.0h1M282.6 108.9h1M280.7 100.2h1M293.0 89.1h1M286.2 92.7h1M288.9 93.4h1M271.1 96.1h1M278.0 94.7h1M278.6 101.7h1M284.2 106.4h1M278.2 104.0h1M275.1 91.7h1M277.9 102.9h1M269.9 100.0h1M287.2 102.0h1M281.8 97.7h1M275.9 102.5h1M291.2 109.3h1M280.8 99.1h1M281.1 94.3h1M276.4 90.1h1M267.5 91.5h1M284.3 88.0h1M279.6 87.0h1M272.3 87.4h1M291.9 103.1h1M283.8 92.4h1M278.6 96.6h1M289.5 102.6h1M289.7 105.2h1M290.3 104.8h1M282.0 108.5h1M275.3 88.5h1M276.2 103.6h1M272.2 105.8h1M278.7 106.5h1M287.2 90.0h1M289.0 86.1h1M274.9 100.3h1M270.3 99.6h1M279.4 99.8h1M276.8 91.8h1M291.6 104.9h1M270.5 91.4h1M284.3 88.3h1M278.2 88.7h1M282.5 101.3h1M280.8 93.7h1M269.0 91.4h1M268.7 93.4h1M278.3 109.2h1M280.7 93.8h1M288.8 105.7h1M290.1 98.0h1M284.1 102.2h1M282.4 99.3h1M278.4 87.2h1M276.0 97.0h1M275.7 108.9h1M284.9 100.7h1M282.6 97.7h1M279.7 99.2h1M282.5 97.3h1M284.4 97.2h1M289.2 92.6h1M275.9 97.2h1M268.1 90.7h1M271.0 95.9h1M276.4 100.3h1M283.3 85.4h1M290.8 108.5h1M282.0 100.0h1M277.8 99.2h1M280.7 92.7h1M277.7 97.5h1M277.4 94.6h1M280.9 98.8h1M291.6 105.6h1M271.1 109.1h1M279.9 91.9h1M276.5 92.8h1M282.5 85.5h1M280.0 109.2h1M279.5 95.7h1M290.5 90.6h1M270.3 108.3h1M277.9 100.3h1M293.4 106.4h1M272.0 95.2h1M278.5 91.9h1M280.1 89.0h1M284.0 81.4h1M284.3 99.8h1M277.6 106.6h1M272.9 98.3h1M282.0 96.7h1M280.8 97.4h1M281.3 101.0h1M278.8 89.8h1M279.3 92.9h1M283.1 108.5h1M282.0 83.3h1M274.2 93.4h1M283.8 98.8h1M279.6 92.9h1M281.7 99.5h1M282.4 95.1h1M280.1 94.7h1M280.9 97.8h1M278.0 101.1h1M273.2 104.0h1M278.7 107.0h1M273.1 98.0h1M282.4 94.2h1M281.4 98.7h1M283.4 107.6h1M281.2 88.2h1M270.9 97.1h1M267.4 103.8h1M285.8 90.2h1M279.3 106.6h1M289.0 95.1h1M281.5 94.1h1M275.5 101.7h1M290.9 101.5h1M284.7 92.3h1M285.6 97.4h1M284.1 101.1h1M291.5 96.7h1M275.9 101.1h1M281.8 104.0h1M285.4 104.4h1M281.4 94.7h1M270.5 102.0h1M275.1 88.8h1M289.6 89.4h1M294.9 100.6h1M287.1 89.7h1M279.7 91.8h1M282.5 85.2h1M274.1 106.3h1M285.0 99.2h1M271.2 92.2h1M274.1 100.3h1M288.5 109.6h1M272.4 108.7h1M283.9 88.9h1M281.8 103.1h1M280.2 104.7h1M272.5 91.7h1M283.4 90.8h1M272.2 90.4h1M285.0 93.1h1M283.5 109.6h1M292.8 98.7h1M274.7 96.5h1M279.7 108.5h1M278.3 97.2h1M284.9 101.3h1M273.0 104.4h1M283.5 89.7h1M287.4 101.9h1M274.3 104.2h1M286.4 96.2h1M283.8 98.0h1M270.9 97.5h1M290.1 88.1h1M277.4 95.3h1M284.9 105.3h1M291.8 94.7h1M280.1 97.1h1M282.2 97.3h1M286.2 94.1h1M281.4 103.8h1M287.9 97.5h1M274.9 104.0h1M275.9 95.2h1M283.5 109.3h1M275.8 95.1h1M269.2 100.6h1M271.1 92.4h1M292.2 101.6h1M281.3 99.4h1M281.4 90.7h1M275.4 100.9h1M270.1 100.9h1M277.8 101.2h1M289.4 109.2h1M276.6 100.0h1M288.3 92.3h1M281.4 98.4h1M283.5 94.4h1M280.2 96.0h1M281.9 98.4h1M281.4 91.7h1M285.5 98.4h1M272.7 96.0h1M282.9 98.9h1M294.6 97.3h1M276.2 87.4h1M283.4 100.8h1M291.4 100.7h1M287.2 98.9h1M275.9 98.0h1M278.3 89.4h1M286.8 98.3h1M285.7 94.7h1M275.0 98.4h1M280.6 107.6h1M282.8 94.6h1M274.9 83.0h1M268.1 101.8h1M285.4 95.2h1M280.1 100.3h1M277.6 89.8h1M286.3 95.7h1M277.3 96.3h1M279.9 99.5h1M278.7 107.3h1M278.1 100.6h1M284.2 109.8h1M282.0 91.6h1M278.1 101.3h1M269.4 108.5h1M286.6 107.5h1M274.9 100.9h1M293.0 102.1h1M280.5 95.7h1M278.9 105.2h1M282.2 96.9h1M292.6 99.1h1M286.6 92.5h1M273.0 99.2h1M277.0 106.4h1M269.2 105.3h1M277.0 103.3h1M293.6 96.3h1M279.5 96.1h1M278.3 102.3h1M276.9 107.8h1M285.5 88.4h1M278.1 93.2h1M283.1 106.5h1M286.5 100.0h1M280.1 98.0h1M287.0 96.3h1M282.0 103.1h1M283.7 89.9h1M282.9 94.2h1M283.7 101.8h1M275.0 91.8h1M286.8 108.8h1M275.6 96.8h1M274.0 97.2h1M277.0 93.8h1M283.3 93.2h1M291.8 97.3h1M280.8 96.3h1M282.1 85.3h1M270.7 97.9h1M274.9 105.4h1M273.7 100.4h1M283.3 88.0h1M277.4 100.4h1M279.0 89.0h1M274.6 101.0h1M273.1 95.4h1M295.1 100.7h1M283.3 101.8h1M279.5 98.1h1M280.1 104.2h1M280.8 96.6h1M275.8 107.0h1M292.6 93.6h1M289.0 99.1h1M269.8 107.5h1M270.2 106.3h1M268.4 102.7h1M276.6 86.3h1M277.0 96.8h1M277.4 96.5h1M283.9 94.7h1M280.1 87.1h1M286.1 93.0h1M281.7 97.7h1M280.4 99.9h1M275.2 84.3h1M270.8 100.0h1M272.7 99.2h1M281.5 105.2h1M288.3 106.2h1M279.0 82.3h1M281.2 108.7h1M273.1 97.8h1M283.2 95.4h1M286.7 109.2h1M286.9 88.3h1M280.8 93.7h1M277.7 97.7h1M293.3 94.8h1M279.1 95.8h1M271.0 96.1h1M279.3 108.3h1M285.5 95.4h1M289.0 98.6h1M286.6 109.3h1M289.5 100.6h1M284.9 84.7h1M294.9 96.6h1M275.1 102.5h1M284.4 96.6h1M278.8 104.8h1M277.0 95.6h1M278.0 109.4h1M286.6 103.8h1M283.6 99.3h1M279.5 92.0h1M287.0 94.6h1M281.8 97.8h1M285.7 91.2h1M292.8 98.9h1M281.0 90.6h1M293.7 103.9h1M283.4 101.7h1M293.5 94.4h1M281.7 98.6h1M282.6 88.8h1M278.3 95.0h1M276.8 105.5h1M284.6 95.3h1M271.5 100.1h1M278.5 97.3h1M290.5 102.9h1M270.2 104.4h1M276.8 100.6h1M273.6 101.5h1M284.4 103.2h1M289.7 97.7h1M286.8 97.3h1M288.0 102.0h1M269.7 90.4h1M277.2 103.9h1M279.5 108.1h1M274.8 101.8h1M284.8 97.3h1M281.2 97.2h1M278.5 102.1h1M280.6 102.3h1M280.9 83.0h1M286.8 95.3h1M282.5 85.7h1M283.4 97.9h1M287.1 100.0h1M280.6 94.2h1M283.1 104.9h1M291.0 90.2h1M280.8 100.1h1M279.9 102.4h1M283.0 97.1h1M280.0 95.1h1M276.6 89.3h1M272.9 97.4h1M285.5 100.9h1M291.2 106.0h1M272.9 91.8h1M291.8 105.8h1M278.4 98.0h1M281.6 91.0h1M289.8 102.4h1M279.0 88.4h1M279.4 106.0h1M267.5 91.6h1M280.0 93.5h1M280.3 105.5h1M279.5 94.5h1M283.6 99.5h1M279.7 99.4h1M280.3 107.7h1M277.7 96.3h1M273.2 92.0h1M285.1 106.9h1M294.8 96.9h1M286.5 96.7h1M284.2 101.0h1M287.2 99.7h1M271.1 108.9h1M282.9 99.1h1M283.5 97.8h1M272.8 103.9h1M285.8 100.9h1M288.7 88.2h1M270.3 87.8h1M281.4 102.0h1M279.1 88.4h1M273.3 106.3h1M273.5 103.8h1M282.5 92.5h1M279.5 92.1h1M294.0 96.1h1M275.3 85.4h1M277.0 92.3h1M275.7 98.9h1M286.8 106.3h1M290.8 98.3h1M282.1 109.6h1M283.1 96.2h1M284.9 96.4h1M274.3 92.1h1M290.7 94.0h1M285.8 95.7h1M280.7 89.8h1M284.0 97.5h1M280.3 94.5h1M279.9 106.2h1M273.9 97.0h1M275.9 104.9h1M281.2 101.4h1M289.7 93.7h1M276.0 100.1h1M279.3 91.2h1M278.7 95.2h1M285.1 104.8h1M285.7 103.2h1M288.1 92.3h1M276.9 100.7h1M274.5 109.6h1M281.9 101.5h1M285.3 92.2h1M293.8 93.3h1M278.5 86.7h1M286.0 87.3h1M289.9 98.6h1M272.9 99.8h1M281.6 90.9h1M285.7 89.1h1M270.9 91.9h1M289.2 97.6h1M272.0 97.1h1M270.9 91.9h1M281.9 99.3h1M294.4 93.9h1M290.1 93.4h1M288.1 94.4h1M290.2 105.7h1M280.6 92.4h1M281.5 96.3h1M287.0 94.1h1" stroke="#484848" stroke-width="1.2" stroke-opacity="0.85" fill="none"/>
<path d="M289.5 81.8h1M284.9 80.2h1M266.6 105.3h1M291.1 80.3h1M277.6 80.9h1M295.3 81.9h1M293.1 79.7h1M296.8 93.3h1M296.8 107.1h1M296.9 101.1h1M295.7 106.0h1M259.1 92.5h1M293.3 84.8h1M265.8 108.2h1M283.7 79.0h1M284.1 74.2h1M297.8 92.6h1M288.8 79.4h1M274.0 80.8h1M266.4 93.2h1M265.2 90.3h1M264.4 102.1h1M271.2 75.7h1M293.1 81.5h1M289.4 79.3h1M267.8 76.4h1M269.9 84.2h1M295.8 103.8h1M298.0 98.7h1M279.2 72.7h1M300.4 93.8h1M277.0 79.3h1M263.7 99.5h1M266.3 90.9h1M264.4 83.4h1M284.4 84.4h1M285.2 87.3h1M278.6 69.6h1M280.4 67.6h1M289.1 86.5h1M291.5 86.1h1M279.8 81.5h1M291.5 70.4h1M279.9 78.1h1M279.7 79.4h1M277.6 81.0h1M280.8 77.1h1M275.5 76.3h1M277.3 80.8h1M271.1 82.8h1M283.3 58.3h1M275.2 79.5h1M272.6 82.1h1M275.1 84.5h1M294.4 73.2h1M272.3 81.3h1M276.9 79.5h1M288.7 66.1h1M283.4 77.9h1M278.7 50.7h1" stroke="#777" stroke-width="1.2" stroke-opacity="0.75" fill="none"/>
<line x1="261.6" y1="22.3" x2="261.6" y2="110.8" stroke="#2a2a2a" stroke-width="1.2"/>
<line x1="243.7" y1="85.2" x2="352.7" y2="85.2" stroke="#2a2a2a" stroke-width="1.0"/>
<line x1="242.90" y1="22.3" x2="353.50" y2="22.3" stroke="#1a1a1a" stroke-width="1.7"/>
<line x1="352.7" y1="22.3" x2="352.7" y2="110.8" stroke="#1a1a1a" stroke-width="1.6"/>
<line x1="242.90" y1="110.8" x2="353.50" y2="110.8" stroke="#1a1a1a" stroke-width="1.1"/>
<line x1="243.7" y1="22.3" x2="243.7" y2="110.8" stroke="#1a1a1a" stroke-width="1.6"/>
<path d="M243.7 110.8v3.8M251.9 110.8v2.8M256.7 110.8v2.8M260.1 110.8v2.8M262.7 110.8v2.8M264.9 110.8v2.8M266.7 110.8v2.8M268.3 110.8v2.8M269.7 110.8v2.8M270.9 110.8v3.8M279.2 110.8v2.8M284.0 110.8v2.8M287.4 110.8v2.8M290.0 110.8v2.8M292.2 110.8v2.8M294.0 110.8v2.8M295.6 110.8v2.8M297.0 110.8v2.8M298.2 110.8v3.8M306.4 110.8v2.8M311.2 110.8v2.8M314.6 110.8v2.8M317.2 110.8v2.8M319.4 110.8v2.8M321.2 110.8v2.8M322.8 110.8v2.8M324.2 110.8v2.8M325.4 110.8v3.8M333.7 110.8v2.8M338.5 110.8v2.8M341.9 110.8v2.8M344.5 110.8v2.8M346.7 110.8v2.8M348.5 110.8v2.8M350.1 110.8v2.8M351.5 110.8v2.8M352.7 110.8v3.8" stroke="#111" stroke-width="1.2" fill="none"/>
<path d="M243.7 110.8h-3.0M243.7 104.1h-2.0M243.7 100.2h-2.0M243.7 97.5h-2.0M243.7 95.3h-2.0M243.7 93.6h-2.0M243.7 92.1h-2.0M243.7 90.8h-2.0M243.7 89.7h-2.0M243.7 88.7h-3.0M243.7 82.0h-2.0M243.7 78.1h-2.0M243.7 75.4h-2.0M243.7 73.2h-2.0M243.7 71.5h-2.0M243.7 70.0h-2.0M243.7 68.7h-2.0M243.7 67.6h-2.0M243.7 66.5h-3.0M243.7 59.9h-2.0M243.7 56.0h-2.0M243.7 53.2h-2.0M243.7 51.1h-2.0M243.7 49.3h-2.0M243.7 47.9h-2.0M243.7 46.6h-2.0M243.7 45.4h-2.0M243.7 44.4h-3.0M243.7 37.8h-2.0M243.7 33.9h-2.0M243.7 31.1h-2.0M243.7 29.0h-2.0M243.7 27.2h-2.0M243.7 25.7h-2.0M243.7 24.4h-2.0M243.7 23.3h-2.0M243.7 22.3h-3.0" stroke="#111" stroke-width="1.5" fill="none"/>
<text x="242.0" y="12.0" font-size="10.2" font-weight="bold" text-anchor="start" fill="#000" stroke="#000" stroke-width="0.3" textLength="4.8" lengthAdjust="spacingAndGlyphs" >+</text>
<text x="249.5" y="12.0" font-size="10.2" font-weight="bold" text-anchor="start" fill="#000" stroke="#000" stroke-width="0.3" textLength="46.7" lengthAdjust="spacingAndGlyphs" >unlabeled</text>
<text x="301.8" y="12.0" font-size="10.2" font-weight="bold" text-anchor="start" fill="#000" stroke="#000" stroke-width="0.3" textLength="26.2" lengthAdjust="spacingAndGlyphs" >C1C2</text>
<text x="330.4" y="12.0" font-size="10.2" font-weight="bold" text-anchor="start" fill="#000" stroke="#000" stroke-width="0.3" textLength="22.7" lengthAdjust="spacingAndGlyphs" >(10X)</text>
<text x="305.7" y="45.4" font-size="12.5" font-weight="bold" text-anchor="start" fill="#000" textLength="20.2" lengthAdjust="spacingAndGlyphs" stroke="#000" stroke-width="0.35">5%</text>
<text x="220.0" y="31.0" font-size="10.6" font-weight="normal" fill="#1a1a1a" stroke="#1a1a1a" stroke-width="0.3">10<tspan dy="-4.2" font-size="6.7">4</tspan></text>
<text x="220.0" y="50.6" font-size="10.6" font-weight="normal" fill="#1a1a1a" stroke="#1a1a1a" stroke-width="0.3">10<tspan dy="-4.2" font-size="6.7">3</tspan></text>
<text x="220.0" y="71.8" font-size="10.6" font-weight="normal" fill="#1a1a1a" stroke="#1a1a1a" stroke-width="0.3">10<tspan dy="-4.2" font-size="6.7">2</tspan></text>
<text x="220.0" y="93.4" font-size="10.6" font-weight="normal" fill="#1a1a1a" stroke="#1a1a1a" stroke-width="0.3">10<tspan dy="-4.2" font-size="6.7">1</tspan></text>
<text x="220.0" y="115.0" font-size="10.6" font-weight="normal" fill="#1a1a1a" stroke="#1a1a1a" stroke-width="0.3">10<tspan dy="-4.2" font-size="6.7">0</tspan></text>
<text x="242.4" y="127.6" font-size="10.6" font-weight="normal" fill="#1a1a1a" stroke="#1a1a1a" stroke-width="0.3">10<tspan dy="-4.2" font-size="6.7">0</tspan></text>
<text x="265.8" y="127.6" font-size="10.6" font-weight="normal" fill="#1a1a1a" stroke="#1a1a1a" stroke-width="0.3">10<tspan dy="-4.2" font-size="6.7">1</tspan></text>
<text x="289.2" y="127.6" font-size="10.6" font-weight="normal" fill="#1a1a1a" stroke="#1a1a1a" stroke-width="0.3">10<tspan dy="-4.2" font-size="6.7">2</tspan></text>
<text x="313.4" y="127.6" font-size="10.6" font-weight="normal" fill="#1a1a1a" stroke="#1a1a1a" stroke-width="0.3">10<tspan dy="-4.2" font-size="6.7">3</tspan></text>
<text x="338.4" y="127.6" font-size="10.6" font-weight="normal" fill="#1a1a1a" stroke="#1a1a1a" stroke-width="0.3">10<tspan dy="-4.2" font-size="6.7">4</tspan></text>
</g>
<g><clipPath id="cp3"><rect x="399.3" y="21.8" width="108.9" height="89.0"/></clipPath>
<ellipse cx="435.5" cy="89.5" rx="13.8" ry="8.7" transform="rotate(-42 435.5 89.5)" fill="#828282" fill-opacity="0.85" filter="url(#bl)" clip-path="url(#cp3)"/>
<path d="M430.8 95.3h1M444.2 79.5h1M433.9 85.1h1M424.3 92.8h1M443.4 83.0h1M439.5 86.1h1M436.3 76.2h1M434.7 98.2h1M436.5 87.9h1M444.4 92.4h1M441.2 94.4h1M435.9 99.0h1M439.3 88.4h1M429.5 94.7h1M449.2 91.2h1M433.9 87.8h1M432.4 85.5h1M440.3 93.1h1M438.8 93.2h1M431.5 93.8h1M434.2 98.1h1M439.6 89.1h1M446.9 83.6h1M441.5 86.6h1M429.2 83.2h1M436.0 99.6h1M443.5 90.6h1M429.9 91.9h1M433.4 84.1h1M422.7 95.7h1M432.7 98.4h1M424.8 91.7h1M421.8 92.4h1M433.7 100.6h1M426.4 91.0h1M438.6 95.9h1M436.0 92.7h1M433.7 89.3h1M431.5 95.0h1M421.8 93.2h1M435.1 91.5h1M434.6 90.0h1M443.1 90.8h1M441.1 89.4h1M439.1 90.1h1M442.9 88.6h1M433.8 81.4h1M431.4 92.5h1M421.1 96.0h1M442.9 96.2h1M431.6 100.4h1M431.9 91.5h1M423.5 99.4h1M432.8 94.1h1M431.4 84.2h1M437.5 84.5h1M437.1 91.7h1M437.0 85.1h1M434.2 90.9h1M436.7 97.7h1M442.9 96.3h1M438.8 95.9h1M427.5 86.8h1M436.1 84.4h1M437.6 97.6h1M437.1 81.6h1M433.1 94.8h1M435.0 93.5h1M435.7 82.4h1M426.9 85.1h1M429.0 92.0h1M447.6 92.1h1M437.9 91.2h1M433.3 87.9h1M439.6 94.5h1M437.1 86.2h1M444.1 86.8h1M445.2 89.0h1M437.3 81.2h1M436.3 90.2h1M440.1 92.5h1M429.8 95.2h1M441.7 92.6h1M432.7 91.2h1M437.3 92.7h1M435.2 90.3h1M439.6 79.0h1M428.5 85.5h1M436.6 95.3h1M429.7 96.4h1M446.2 75.8h1M423.5 103.3h1M433.5 99.7h1M439.3 79.1h1M429.2 92.5h1M437.2 84.8h1M442.2 78.6h1M431.4 91.3h1M425.9 104.6h1M438.7 88.0h1M432.3 99.8h1M428.5 94.9h1M428.6 94.2h1M430.6 90.8h1M438.0 101.6h1M442.7 84.5h1M433.1 85.7h1M444.8 79.6h1M436.9 81.0h1M447.1 88.2h1M432.3 102.1h1M430.3 103.5h1M433.5 94.9h1M442.4 78.2h1M450.0 86.9h1M436.8 90.8h1M442.7 81.1h1M437.8 84.2h1M428.2 82.1h1M446.7 92.3h1M451.1 86.3h1M434.3 78.1h1M439.4 91.5h1M446.4 85.0h1M436.7 95.5h1M437.6 92.8h1M424.9 88.4h1M445.2 88.2h1M433.8 92.3h1M430.5 93.2h1M429.8 87.0h1M429.4 94.9h1M436.6 92.3h1M444.5 78.5h1M429.8 99.2h1M440.0 78.9h1M431.2 91.3h1M435.5 88.9h1M429.9 87.1h1M423.9 103.1h1M438.2 85.5h1M442.1 81.6h1M434.0 90.4h1M430.6 88.5h1M435.6 82.3h1M437.9 85.1h1M431.7 86.4h1M428.2 93.8h1M435.4 95.3h1M431.4 91.1h1M450.0 79.9h1M440.2 76.3h1M433.1 103.8h1M449.6 83.9h1M441.2 92.7h1M425.5 92.7h1M434.4 96.8h1M444.1 83.4h1M422.1 93.4h1M428.4 95.8h1M423.7 90.0h1M430.7 80.7h1M432.3 88.7h1M438.4 82.0h1M436.3 102.3h1M439.2 85.8h1M430.5 92.0h1M443.4 85.1h1M436.2 87.0h1M431.1 89.6h1M427.0 96.9h1M435.3 96.8h1M426.8 91.6h1M432.4 91.8h1M436.0 86.5h1M440.8 97.3h1M438.5 84.3h1M448.1 82.8h1M442.6 82.6h1M448.1 84.5h1M423.0 87.9h1M440.2 80.6h1M441.7 98.9h1M444.5 94.9h1M432.5 83.8h1M428.3 91.0h1M433.3 87.6h1M437.7 86.2h1M447.5 82.5h1M425.7 83.0h1M439.6 83.2h1M442.1 82.2h1M435.8 102.8h1M434.9 91.3h1M439.7 74.3h1M434.9 95.3h1M437.4 99.8h1M440.8 87.9h1M436.9 79.6h1M445.1 94.5h1M440.7 74.2h1M430.8 97.7h1M437.7 91.8h1M428.7 91.7h1M449.2 82.2h1M429.1 90.8h1M432.7 96.2h1M448.0 84.1h1M448.4 90.8h1M436.3 89.4h1M428.9 90.4h1M440.3 78.5h1M431.9 103.5h1M425.6 82.5h1M422.5 102.4h1M448.8 79.8h1M439.2 90.9h1M432.8 100.4h1M446.1 80.7h1M431.6 103.0h1M434.9 89.5h1M423.8 96.5h1M429.7 78.9h1M433.2 97.8h1M431.4 100.1h1M442.8 81.7h1M444.7 88.8h1M436.0 85.3h1M428.1 98.0h1M427.6 83.7h1M433.5 90.3h1M427.5 90.1h1M432.1 87.5h1M433.2 87.7h1M448.6 84.0h1M443.5 88.7h1M440.6 79.8h1M436.8 84.9h1M437.9 84.5h1M440.4 89.0h1M437.3 88.4h1M433.1 94.8h1M438.6 86.8h1M434.4 95.6h1M421.3 93.0h1M432.2 102.2h1M427.9 96.1h1M443.5 96.0h1M438.7 85.7h1M430.1 89.3h1M437.8 84.6h1M435.1 86.7h1M443.9 96.8h1M447.3 86.8h1M438.4 74.8h1M440.4 92.8h1M443.2 81.4h1M436.2 96.2h1M443.2 94.5h1M440.8 78.3h1M442.2 86.6h1M440.5 93.7h1M440.2 101.1h1M435.8 91.4h1M423.0 102.2h1M428.2 102.6h1M434.1 94.0h1M447.6 87.8h1M437.9 91.8h1M425.4 89.1h1M436.5 92.6h1M430.0 90.4h1M445.4 90.5h1M429.4 100.9h1M432.0 79.4h1M434.3 91.2h1M441.7 83.8h1M432.1 92.1h1M430.0 88.3h1M431.4 81.8h1M429.3 91.3h1M423.8 94.6h1M442.6 97.8h1M449.1 87.0h1M429.5 86.3h1M428.6 100.5h1M432.8 91.9h1M434.5 95.0h1M435.3 88.4h1M432.0 92.5h1M433.2 89.0h1M431.4 82.7h1M426.0 99.4h1M433.9 80.1h1M434.8 95.2h1M442.5 91.8h1M426.4 92.0h1M426.8 89.4h1M432.8 85.2h1M438.7 86.3h1M427.3 103.6h1M441.4 85.5h1M426.0 87.9h1M442.4 88.4h1M436.6 92.1h1M435.8 88.0h1M432.7 82.9h1M427.2 85.5h1M437.1 87.4h1M428.2 94.3h1M438.5 85.3h1M436.2 84.0h1M442.6 85.4h1M425.8 97.1h1M447.5 77.1h1M430.1 88.4h1M438.4 79.3h1M432.3 79.5h1M430.3 99.9h1M433.9 92.3h1M438.1 79.2h1M432.9 85.5h1M429.5 83.9h1M440.0 81.9h1M437.9 81.0h1M431.3 91.3h1M438.3 98.2h1M439.4 82.3h1M428.1 88.1h1M448.0 85.4h1M425.6 87.2h1M437.2 95.5h1M433.0 91.0h1M436.7 97.0h1M435.7 88.3h1M437.3 88.0h1M434.8 91.7h1M432.1 85.4h1M445.6 92.3h1M424.7 91.0h1M439.3 90.0h1M430.2 88.4h1M436.0 86.0h1M426.2 91.7h1M434.0 78.3h1M443.6 89.1h1M427.4 88.3h1M429.6 88.3h1M435.3 86.4h1M443.0 88.1h1M435.4 87.1h1M448.6 87.6h1M434.9 91.5h1M440.5 80.2h1M447.2 87.3h1M430.3 88.7h1M428.1 97.2h1M440.2 78.6h1M440.1 82.3h1M431.7 99.3h1M434.3 81.3h1M436.1 90.9h1M439.4 85.5h1M432.3 93.5h1M441.8 84.1h1M430.0 104.2h1M450.5 89.2h1M434.6 93.4h1M437.4 91.5h1M436.9 100.7h1M428.8 91.1h1M426.7 99.3h1M427.0 87.8h1M429.1 92.4h1M435.2 92.9h1M436.6 91.7h1M434.9 87.8h1M428.5 91.2h1M437.2 88.3h1M436.7 84.6h1M433.3 82.2h1M443.8 96.6h1M429.8 95.0h1M431.5 97.6h1M435.5 77.0h1M435.6 89.8h1M448.5 82.4h1M431.2 105.0h1M447.2 77.7h1M450.4 84.5h1M432.5 91.7h1M430.2 96.0h1M449.6 84.2h1M439.0 85.2h1M425.0 101.7h1M441.8 89.1h1M432.4 98.2h1M434.1 87.0h1M434.9 85.6h1M423.4 94.5h1M432.3 89.2h1M440.6 97.5h1M427.0 94.3h1M422.6 91.7h1M436.0 85.5h1M432.0 86.6h1M433.7 92.7h1M429.8 102.8h1M433.4 95.9h1M437.0 82.8h1M445.1 87.9h1M438.2 87.1h1M439.6 86.8h1M435.5 91.5h1M436.2 89.3h1M436.4 102.7h1M438.7 75.9h1M439.1 89.8h1M432.3 94.1h1M440.8 82.0h1M437.6 87.6h1M441.5 91.0h1M427.5 87.1h1M443.6 76.0h1M422.5 91.9h1M426.7 90.8h1M445.4 82.1h1M436.5 78.4h1M430.1 87.3h1M431.5 98.9h1M436.1 89.5h1M449.6 86.5h1M437.6 95.5h1M444.1 92.0h1M437.8 82.6h1M435.5 86.9h1M429.5 98.1h1M436.5 88.0h1M431.1 89.5h1M430.4 91.5h1M424.1 93.8h1M430.9 92.5h1M440.0 96.6h1M444.1 92.8h1M447.6 85.9h1M434.3 89.3h1M426.1 99.1h1M430.1 94.9h1M442.0 91.0h1M438.0 89.5h1M433.5 87.2h1M425.1 88.2h1M436.2 91.1h1M422.2 102.5h1M438.5 87.4h1M427.4 90.3h1M432.8 99.8h1M444.1 84.7h1M447.3 87.1h1M439.0 82.0h1M422.9 87.6h1M435.2 89.7h1M428.6 93.8h1M440.8 94.9h1M421.5 89.5h1M433.1 96.3h1M446.7 86.1h1M433.1 93.9h1M437.7 92.6h1M447.3 87.9h1M435.4 91.1h1M443.4 82.0h1M439.3 100.2h1M445.2 82.7h1M449.7 76.9h1M439.5 93.4h1M434.3 89.6h1M445.0 90.6h1M441.0 93.3h1M430.9 86.2h1M442.8 95.3h1M447.0 93.3h1M440.3 84.6h1M432.7 95.3h1M441.2 90.6h1M433.7 96.0h1M439.8 83.2h1M423.1 92.7h1M437.4 82.6h1M428.1 91.0h1M440.4 82.8h1M443.4 92.9h1M424.8 89.9h1M438.4 98.1h1M440.3 93.4h1M430.5 95.6h1M440.6 82.9h1M435.6 94.7h1M438.4 89.2h1M438.8 89.7h1M443.3 86.3h1M434.1 97.5h1M446.5 86.6h1M441.6 77.4h1M451.0 81.1h1M439.4 94.6h1M437.8 92.4h1M428.6 100.8h1M427.1 94.1h1M430.5 92.2h1M426.7 88.4h1M431.2 96.9h1M437.6 94.2h1M426.3 100.1h1M443.1 78.2h1M433.3 98.1h1M429.3 92.2h1M434.6 91.2h1M426.6 99.0h1M434.2 86.6h1M430.9 98.1h1M435.9 93.4h1M444.9 89.2h1M451.2 79.9h1M435.0 96.6h1M439.6 96.2h1M443.0 82.7h1M438.6 93.2h1M422.1 92.3h1M447.9 88.5h1M438.7 82.9h1M439.8 95.7h1M441.9 83.9h1M445.3 82.1h1M434.3 76.7h1M433.9 84.6h1M426.8 102.6h1M427.8 102.0h1M427.3 103.9h1M440.2 85.9h1M435.0 82.8h1M449.5 79.4h1M442.6 82.6h1M434.4 86.5h1M440.6 86.0h1M432.9 86.2h1M431.1 83.2h1M423.1 91.4h1M435.1 98.0h1M435.9 81.4h1M424.2 85.4h1M433.3 79.9h1M425.8 86.1h1M449.9 76.9h1M442.7 77.9h1M436.6 91.6h1M420.3 95.7h1M433.6 86.0h1M421.3 100.3h1M427.4 85.4h1M439.6 83.7h1M435.4 83.0h1M424.0 91.2h1M436.2 82.6h1M434.7 77.7h1M431.3 97.3h1M442.3 77.8h1M431.4 84.3h1M429.4 97.0h1M449.6 79.3h1M442.5 80.5h1M443.5 92.3h1M437.5 78.4h1M430.9 88.5h1M439.7 85.1h1M442.8 84.5h1M446.4 76.5h1M448.9 87.4h1M439.3 94.6h1M430.4 95.4h1M436.8 93.7h1M429.7 98.2h1M422.4 89.9h1M448.5 87.9h1M430.9 101.1h1M434.4 100.5h1M441.7 90.5h1M437.3 88.5h1M440.5 92.3h1M429.0 104.6h1M435.6 84.5h1M449.6 82.6h1M439.0 82.1h1M439.1 99.3h1M443.8 82.3h1M443.8 80.4h1M431.3 78.7h1M431.1 86.7h1M423.8 95.8h1M429.4 93.3h1M433.3 86.0h1M429.9 92.6h1M435.1 84.0h1M429.9 86.9h1M445.4 85.7h1M436.4 92.7h1M432.5 94.7h1M447.5 91.6h1M434.7 97.5h1M438.6 78.7h1M437.4 94.1h1M422.8 96.8h1M435.4 92.1h1M433.5 88.7h1M430.9 92.5h1M430.7 101.1h1M439.5 91.2h1M426.9 82.4h1M429.5 88.7h1M437.9 88.5h1M437.6 85.8h1M429.8 89.3h1M438.0 91.3h1M423.1 87.1h1M425.2 96.1h1M442.5 87.0h1M421.3 91.1h1M440.3 85.3h1M436.0 78.6h1M431.8 97.4h1M434.4 80.4h1M434.7 90.5h1M435.1 89.8h1M429.0 86.7h1M445.5 90.3h1M439.6 95.2h1M431.3 98.5h1M439.5 85.5h1M438.6 89.3h1M435.0 80.6h1M436.4 98.4h1M442.6 81.6h1M450.6 87.5h1M433.7 92.9h1M425.2 92.7h1M436.6 93.2h1M429.8 90.9h1M444.3 95.1h1M443.1 91.6h1M427.5 95.8h1M444.6 88.7h1M433.3 98.8h1M430.9 85.6h1M431.0 85.4h1M431.8 87.9h1M445.1 77.7h1M441.2 90.5h1M432.7 87.6h1M436.9 94.0h1M429.8 101.6h1M430.1 80.4h1M435.5 90.7h1M444.2 77.8h1M426.6 90.7h1M435.5 82.9h1M436.2 94.5h1M436.5 79.2h1M443.9 79.3h1M444.0 86.1h1M432.2 92.7h1M429.2 88.3h1M435.6 91.9h1M420.4 94.9h1M440.9 79.5h1M431.1 90.3h1M433.1 88.4h1M441.2 95.2h1M442.6 81.6h1M424.9 97.3h1M435.0 82.1h1M430.1 91.5h1M441.0 95.1h1M443.7 88.6h1M444.1 86.5h1M425.5 90.5h1M427.4 86.7h1M432.3 97.2h1M424.8 100.9h1M440.5 80.0h1M442.5 82.3h1M425.4 95.6h1M446.4 79.9h1M433.8 92.3h1M444.5 78.0h1M441.6 77.2h1M445.3 87.4h1M434.5 97.3h1M439.1 86.3h1M449.3 88.1h1M441.3 75.4h1M433.4 102.6h1M431.0 80.8h1M436.7 87.1h1M428.2 93.4h1M426.9 84.7h1M435.3 92.9h1M428.6 91.7h1M443.3 94.2h1M426.2 103.0h1M437.2 84.9h1M445.5 92.1h1M435.5 83.8h1M426.4 93.3h1M441.4 88.9h1M444.2 84.9h1M440.2 89.4h1M431.7 89.5h1M443.5 87.1h1M436.4 87.2h1M427.2 89.7h1M435.7 94.6h1M431.4 90.1h1M425.7 97.8h1M433.7 96.0h1M445.8 93.7h1M433.2 100.7h1M438.8 92.7h1M436.4 98.3h1M438.0 84.8h1M436.2 102.6h1M442.3 87.3h1M436.5 81.2h1M427.8 90.9h1M435.5 86.2h1M444.5 77.6h1M429.6 93.7h1M436.8 84.8h1M431.0 87.5h1M427.0 93.3h1M449.5 89.3h1M437.5 85.5h1M431.6 88.0h1M431.2 80.7h1M432.0 95.5h1M433.9 89.4h1M438.5 85.7h1M433.1 91.6h1M429.9 91.5h1M440.4 95.8h1M424.6 89.0h1M426.8 104.8h1M434.9 88.9h1M440.9 78.7h1M442.4 96.3h1M448.5 89.8h1M437.4 93.4h1M435.3 103.5h1M420.9 90.0h1M438.6 97.6h1M447.0 94.0h1M445.1 79.9h1M427.8 94.3h1M446.9 85.2h1M431.2 88.5h1M431.9 91.1h1M432.8 85.8h1M433.9 87.3h1M444.3 76.6h1M428.6 87.9h1M440.0 74.5h1M432.7 80.8h1M443.3 83.9h1M442.1 95.4h1M446.7 79.7h1M446.9 87.4h1M438.1 81.7h1M447.3 86.5h1M426.6 83.2h1M435.9 97.0h1M449.7 77.4h1M435.2 77.0h1M428.7 79.7h1M430.4 88.1h1M436.1 86.5h1M437.6 82.4h1M433.8 77.7h1M437.4 92.4h1M436.1 89.8h1M440.1 77.9h1M439.1 81.9h1M434.7 75.8h1M443.8 82.1h1M432.6 79.7h1M444.7 87.8h1M440.7 92.4h1M438.5 88.1h1M434.3 92.6h1M443.5 83.4h1M444.4 86.0h1M436.2 96.1h1M438.4 85.1h1M437.3 80.3h1M443.6 78.9h1M437.2 80.8h1M430.3 82.3h1M432.1 95.4h1M446.0 93.8h1M429.6 94.1h1M423.1 95.6h1M444.3 85.4h1M432.1 80.1h1M442.2 73.9h1M441.7 93.5h1M427.7 103.9h1M432.0 90.6h1M428.9 96.5h1M436.6 79.5h1M432.7 77.7h1M441.2 81.4h1M444.0 87.4h1M435.2 87.3h1M433.6 100.3h1M431.6 85.7h1M436.0 82.4h1M433.8 96.4h1M440.4 80.1h1M441.6 81.4h1M437.5 88.3h1M441.2 93.9h1M440.4 88.8h1M450.2 87.7h1M439.4 99.5h1M420.3 93.0h1M430.1 94.2h1M430.0 90.1h1M429.4 98.1h1M433.5 88.4h1M439.3 84.0h1M431.5 95.5h1M421.3 95.2h1M425.1 93.1h1M436.6 98.1h1M440.9 79.6h1M425.4 96.2h1M441.4 83.6h1M439.4 85.2h1M440.4 85.6h1M431.3 78.9h1M441.4 81.4h1M451.1 86.1h1M444.4 74.2h1M437.8 87.6h1M438.9 96.4h1M443.9 75.5h1M449.0 77.7h1M431.5 89.3h1M431.5 91.8h1M433.6 88.4h1M434.2 97.5h1M425.4 91.2h1M441.0 75.0h1M432.7 83.6h1M429.5 100.0h1M428.9 90.7h1M441.9 94.6h1M446.6 83.5h1M433.9 96.8h1M431.5 96.3h1M438.4 75.7h1M436.4 78.7h1M441.3 89.3h1M444.2 85.1h1M434.6 86.9h1M436.8 88.8h1M444.4 79.4h1M435.9 84.0h1M430.4 85.9h1M439.0 84.2h1M442.6 93.3h1M448.3 80.2h1M441.7 89.9h1M425.0 90.8h1M431.2 86.4h1M430.5 100.8h1M433.1 87.4h1M429.0 87.0h1M429.0 96.5h1M430.3 84.0h1M443.3 83.0h1M434.3 98.3h1M446.1 95.0h1M440.0 77.1h1M439.4 89.1h1M432.5 86.8h1M430.0 95.3h1M444.1 91.0h1M427.7 91.2h1M427.0 86.7h1M426.4 91.2h1M424.9 86.6h1M438.6 92.2h1M430.7 85.6h1M441.7 76.5h1M426.8 87.9h1M429.5 80.4h1M437.5 98.6h1M432.6 87.8h1M424.2 95.5h1M434.5 87.5h1M444.4 92.9h1M434.1 82.9h1M427.3 95.6h1M433.6 83.9h1M444.6 95.3h1M433.8 99.6h1M436.7 93.5h1M431.6 88.4h1M434.4 86.7h1M434.8 95.2h1M429.8 94.9h1M430.3 97.2h1M430.5 80.1h1M435.1 92.7h1M424.1 92.5h1M425.5 91.8h1M433.4 102.4h1M435.8 82.6h1M443.1 76.8h1M432.1 92.5h1M426.5 84.9h1M431.3 91.9h1M432.4 95.2h1M436.1 95.9h1M437.5 81.5h1M436.3 81.8h1M435.9 90.4h1M441.6 84.5h1M432.0 86.6h1M430.0 92.4h1M439.7 87.1h1M424.1 99.7h1M433.0 93.5h1M428.6 92.1h1M433.8 89.4h1M444.6 83.6h1M434.2 85.4h1M435.4 88.6h1M438.1 87.3h1M434.6 81.9h1M435.6 94.6h1M422.5 86.7h1M442.8 83.8h1M430.1 94.2h1M437.8 88.9h1M446.3 89.7h1M423.5 96.2h1M445.8 87.4h1M439.3 80.4h1M421.5 89.2h1M433.7 93.6h1M430.8 94.6h1M440.6 79.8h1M433.0 83.8h1M419.9 92.6h1M429.8 103.1h1M433.0 80.7h1M442.5 78.8h1M429.0 94.2h1M438.6 94.5h1M421.3 96.1h1M431.2 91.1h1M435.9 102.4h1M437.6 96.4h1M441.1 88.1h1M429.4 82.4h1M441.5 85.5h1M441.6 78.7h1M432.6 88.2h1M447.3 85.3h1M439.4 77.9h1M432.7 91.3h1M438.7 89.7h1M433.2 93.1h1M431.8 84.9h1M443.9 82.7h1M429.0 97.5h1M442.7 83.6h1M423.9 96.6h1M421.8 96.6h1M427.4 93.5h1M445.9 91.7h1M440.8 85.5h1M441.9 88.4h1M426.9 97.3h1M431.4 101.6h1M443.1 76.2h1M434.5 84.3h1M447.1 86.2h1M429.4 88.8h1M440.3 88.8h1M429.0 90.5h1M430.0 95.2h1M438.3 82.8h1M439.2 84.5h1M447.0 79.9h1M435.8 76.7h1M429.6 96.9h1M421.2 97.2h1M438.7 76.8h1M440.1 93.3h1M444.1 86.5h1M424.6 98.9h1M424.5 85.3h1M440.2 95.5h1M433.9 97.3h1M429.4 84.0h1M435.2 93.8h1M447.3 86.0h1M438.4 100.7h1M439.5 96.4h1M444.1 89.6h1M432.4 84.2h1M439.2 89.4h1M438.5 91.8h1M441.2 87.3h1M436.0 96.1h1M436.2 86.0h1M432.8 85.5h1M420.7 92.9h1M442.2 89.5h1M421.3 99.6h1M443.8 84.8h1M444.0 85.8h1M446.1 86.7h1M445.0 88.6h1M441.2 81.2h1M434.3 94.9h1M427.9 98.1h1M443.7 79.4h1M446.8 93.4h1M439.1 84.5h1M434.0 95.5h1M424.6 94.8h1M432.0 95.2h1M434.6 91.7h1M420.5 95.4h1M437.5 88.7h1M432.0 95.0h1M441.4 88.2h1M440.7 85.1h1M440.9 95.0h1M432.9 90.8h1M443.1 77.1h1M440.6 94.7h1M440.1 77.9h1M442.1 89.4h1M438.7 89.5h1M431.9 89.6h1M442.8 74.6h1M431.2 92.1h1M436.4 90.9h1M436.2 92.3h1M446.4 88.5h1M444.0 85.2h1M430.0 82.4h1M434.0 95.6h1M429.4 92.4h1M429.4 93.5h1M442.6 89.4h1M443.0 85.9h1M435.4 97.2h1M446.5 88.6h1M437.8 76.3h1M443.4 78.9h1M428.4 86.8h1M431.5 85.3h1M435.4 96.7h1M437.5 96.1h1M437.9 99.2h1M432.0 90.2h1M431.7 85.8h1M432.7 92.1h1M434.5 88.3h1M435.5 78.7h1M441.1 89.2h1M450.4 80.2h1M422.3 92.8h1M430.9 92.8h1M431.8 96.1h1M430.6 84.2h1M434.4 85.2h1M435.0 92.1h1M426.5 87.1h1M437.0 86.4h1M435.2 82.1h1" stroke="#484848" stroke-width="1.2" stroke-opacity="0.85" fill="none"/>
<path d="M428.2 106.3h1M445.3 73.0h1M414.7 104.7h1M434.4 107.0h1M429.0 77.5h1M418.6 102.2h1M451.6 91.6h1M418.3 91.5h1M448.7 93.3h1M416.8 103.0h1M418.4 95.1h1M435.5 105.2h1M431.4 75.2h1M425.0 108.6h1M403.0 109.4h1M444.0 99.1h1M433.0 75.8h1M438.6 102.8h1M421.2 76.7h1M454.9 85.0h1M437.2 105.0h1M420.1 102.2h1M423.9 106.4h1M417.5 89.1h1M425.0 75.5h1M421.6 80.6h1M441.8 105.1h1M415.0 103.9h1M457.0 83.2h1M453.3 83.6h1M450.5 93.0h1M441.9 73.5h1M420.2 105.9h1M419.9 105.7h1M435.9 105.0h1M417.9 103.5h1M419.3 106.2h1M452.3 77.9h1M447.2 74.0h1M415.2 89.9h1M443.8 98.9h1M431.2 109.0h1M454.9 82.9h1M440.1 72.9h1M442.5 71.8h1M433.5 71.3h1M424.0 81.8h1M464.2 72.1h1M429.9 106.2h1M452.8 91.7h1M459.8 69.6h1M419.8 90.0h1M423.6 105.0h1M455.9 75.3h1M425.6 30.8h1M431.6 70.9h1M433.7 82.0h1M424.7 58.5h1M429.9 78.0h1M428.6 67.0h1M433.2 66.7h1M420.9 73.9h1M429.2 67.8h1M415.4 62.4h1M425.3 65.1h1M445.7 58.8h1M451.6 59.6h1M439.5 69.9h1M419.0 64.5h1M432.4 77.1h1M435.5 76.2h1M423.8 52.1h1M439.2 70.1h1M442.2 73.2h1M408.0 69.5h1M425.5 47.2h1M422.4 59.0h1M437.4 49.0h1M435.2 70.3h1M433.1 75.1h1M426.2 64.3h1M452.0 74.8h1M433.7 73.5h1M446.4 63.2h1M439.5 71.3h1M430.5 70.5h1M452.7 67.3h1M433.4 62.3h1M444.9 72.8h1M443.6 67.1h1M434.0 76.7h1M440.9 57.6h1M434.6 82.5h1M417.8 65.7h1M436.6 61.6h1M438.7 68.8h1M432.4 56.8h1M444.7 80.3h1M442.3 70.1h1" stroke="#777" stroke-width="1.2" stroke-opacity="0.75" fill="none"/>
<line x1="417.3" y1="21.8" x2="417.3" y2="110.8" stroke="#2a2a2a" stroke-width="1.2"/>
<line x1="399.3" y1="84.3" x2="508.2" y2="84.3" stroke="#2a2a2a" stroke-width="1.0"/>
<line x1="398.55" y1="21.8" x2="508.75" y2="21.8" stroke="#333" stroke-width="1.1"/>
<line x1="508.2" y1="21.8" x2="508.2" y2="110.8" stroke="#333" stroke-width="1.1"/>
<line x1="398.55" y1="110.8" x2="508.75" y2="110.8" stroke="#333" stroke-width="1.1"/>
<line x1="399.3" y1="21.8" x2="399.3" y2="110.8" stroke="#333" stroke-width="1.5"/>
<path d="M399.3 110.8v3.8M407.5 110.8v2.8M412.3 110.8v2.8M415.7 110.8v2.8M418.3 110.8v2.8M420.5 110.8v2.8M422.3 110.8v2.8M423.9 110.8v2.8M425.3 110.8v2.8M426.5 110.8v3.8M434.7 110.8v2.8M439.5 110.8v2.8M442.9 110.8v2.8M445.6 110.8v2.8M447.7 110.8v2.8M449.5 110.8v2.8M451.1 110.8v2.8M452.5 110.8v2.8M453.8 110.8v3.8M461.9 110.8v2.8M466.7 110.8v2.8M470.1 110.8v2.8M472.8 110.8v2.8M474.9 110.8v2.8M476.8 110.8v2.8M478.3 110.8v2.8M479.7 110.8v2.8M481.0 110.8v3.8M489.2 110.8v2.8M494.0 110.8v2.8M497.4 110.8v2.8M500.0 110.8v2.8M502.2 110.8v2.8M504.0 110.8v2.8M505.6 110.8v2.8M507.0 110.8v2.8M508.2 110.8v3.8" stroke="#111" stroke-width="1.2" fill="none"/>
<path d="M399.3 110.8h-3.0M399.3 104.1h-2.0M399.3 100.2h-2.0M399.3 97.4h-2.0M399.3 95.2h-2.0M399.3 93.5h-2.0M399.3 92.0h-2.0M399.3 90.7h-2.0M399.3 89.6h-2.0M399.3 88.5h-3.0M399.3 81.9h-2.0M399.3 77.9h-2.0M399.3 75.2h-2.0M399.3 73.0h-2.0M399.3 71.2h-2.0M399.3 69.7h-2.0M399.3 68.5h-2.0M399.3 67.3h-2.0M399.3 66.3h-3.0M399.3 59.6h-2.0M399.3 55.7h-2.0M399.3 52.9h-2.0M399.3 50.7h-2.0M399.3 49.0h-2.0M399.3 47.5h-2.0M399.3 46.2h-2.0M399.3 45.1h-2.0M399.3 44.0h-3.0M399.3 37.4h-2.0M399.3 33.4h-2.0M399.3 30.7h-2.0M399.3 28.5h-2.0M399.3 26.7h-2.0M399.3 25.2h-2.0M399.3 24.0h-2.0M399.3 22.8h-2.0M399.3 21.8h-3.0" stroke="#111" stroke-width="1.5" fill="none"/>
<text x="391.0" y="11.8" font-size="10.2" font-weight="bold" text-anchor="start" fill="#000" stroke="#000" stroke-width="0.3" textLength="4.8" lengthAdjust="spacingAndGlyphs" >+</text>
<text x="399.8" y="11.8" font-size="10.2" font-weight="bold" text-anchor="start" fill="#000" stroke="#000" stroke-width="0.3" textLength="47.0" lengthAdjust="spacingAndGlyphs" >unlabeled</text>
<text x="452.8" y="11.8" font-size="10.2" font-weight="bold" text-anchor="start" fill="#000" stroke="#000" stroke-width="0.3" textLength="12.4" lengthAdjust="spacingAndGlyphs" >C2</text>
<text x="470.0" y="11.8" font-size="10.2" font-weight="bold" text-anchor="start" fill="#000" stroke="#000" stroke-width="0.3" textLength="24.5" lengthAdjust="spacingAndGlyphs" >(20X)</text>
<text x="462.1" y="45.4" font-size="13.5" font-weight="bold" text-anchor="start" fill="#000" textLength="27.5" lengthAdjust="spacingAndGlyphs" stroke="#000" stroke-width="0.35">34%</text>
<text x="376.0" y="30.2" font-size="10.6" font-weight="normal" fill="#1a1a1a" stroke="#1a1a1a" stroke-width="0.3">10<tspan dy="-4.2" font-size="6.7">4</tspan></text>
<text x="376.0" y="49.5" font-size="10.6" font-weight="normal" fill="#1a1a1a" stroke="#1a1a1a" stroke-width="0.3">10<tspan dy="-4.2" font-size="6.7">3</tspan></text>
<text x="376.0" y="70.5" font-size="10.6" font-weight="normal" fill="#1a1a1a" stroke="#1a1a1a" stroke-width="0.3">10<tspan dy="-4.2" font-size="6.7">2</tspan></text>
<text x="376.0" y="91.8" font-size="10.6" font-weight="normal" fill="#1a1a1a" stroke="#1a1a1a" stroke-width="0.3">10<tspan dy="-4.2" font-size="6.7">1</tspan></text>
<text x="376.0" y="113.2" font-size="10.6" font-weight="normal" fill="#1a1a1a" stroke="#1a1a1a" stroke-width="0.3">10<tspan dy="-4.2" font-size="6.7">0</tspan></text>
<text x="398.7" y="126.3" font-size="10.6" font-weight="normal" fill="#1a1a1a" stroke="#1a1a1a" stroke-width="0.3">10<tspan dy="-4.2" font-size="6.7">0</tspan></text>
<text x="422.8" y="126.3" font-size="10.6" font-weight="normal" fill="#1a1a1a" stroke="#1a1a1a" stroke-width="0.3">10<tspan dy="-4.2" font-size="6.7">1</tspan></text>
<text x="446.9" y="126.3" font-size="10.6" font-weight="normal" fill="#1a1a1a" stroke="#1a1a1a" stroke-width="0.3">10<tspan dy="-4.2" font-size="6.7">2</tspan></text>
<text x="471.0" y="126.3" font-size="10.6" font-weight="normal" fill="#1a1a1a" stroke="#1a1a1a" stroke-width="0.3">10<tspan dy="-4.2" font-size="6.7">3</tspan></text>
<text x="494.8" y="126.3" font-size="10.6" font-weight="normal" fill="#1a1a1a" stroke="#1a1a1a" stroke-width="0.3">10<tspan dy="-4.2" font-size="6.7">4</tspan></text>
</g>
<g><clipPath id="cp4"><rect x="88.5" y="171.7" width="104.1" height="85.6"/></clipPath>
<ellipse cx="122.3" cy="210" rx="17.7" ry="9.8" transform="rotate(-78 122.3 210)" fill="#828282" fill-opacity="0.85" filter="url(#bl)" clip-path="url(#cp4)"/>
<path d="M114.1 232.2h1M123.2 200.6h1M128.1 193.9h1M119.6 201.7h1M128.9 201.9h1M124.4 190.5h1M125.1 220.4h1M124.7 203.2h1M123.3 214.9h1M124.4 203.9h1M118.7 232.0h1M125.1 206.5h1M134.2 195.9h1M110.9 215.7h1M118.9 208.3h1M118.7 203.8h1M129.8 205.4h1M126.3 194.2h1M122.0 195.2h1M125.1 223.0h1M120.5 195.5h1M118.0 191.5h1M120.5 215.0h1M129.0 187.2h1M114.0 211.5h1M123.4 229.4h1M122.2 207.0h1M118.7 202.2h1M133.2 206.8h1M118.9 194.0h1M121.3 208.9h1M114.0 228.3h1M119.3 206.9h1M128.3 193.9h1M118.2 204.0h1M124.6 209.9h1M113.4 199.7h1M115.9 207.6h1M116.7 221.2h1M117.1 212.2h1M133.8 206.0h1M123.6 206.9h1M114.5 195.4h1M110.2 215.6h1M115.5 212.5h1M126.9 217.1h1M121.9 213.1h1M131.4 201.7h1M115.0 209.0h1M129.0 227.1h1M122.7 213.0h1M112.0 220.7h1M119.3 197.1h1M122.4 224.7h1M122.6 207.7h1M124.6 203.4h1M115.9 202.5h1M125.1 191.1h1M128.2 210.3h1M124.4 221.6h1M125.3 213.6h1M122.9 204.8h1M131.0 192.1h1M114.2 206.3h1M114.7 220.3h1M133.5 191.6h1M131.5 191.2h1M120.1 217.5h1M132.0 203.8h1M118.8 201.8h1M122.8 190.3h1M122.9 208.6h1M125.3 211.4h1M122.4 220.2h1M123.2 220.1h1M114.8 204.4h1M121.0 204.9h1M126.5 225.3h1M121.4 206.5h1M120.1 214.3h1M126.1 201.4h1M124.5 196.6h1M121.4 222.3h1M122.6 214.3h1M116.9 200.0h1M123.4 197.5h1M111.9 206.4h1M120.3 225.7h1M114.4 212.4h1M118.2 222.6h1M124.7 221.6h1M129.0 210.8h1M120.4 209.1h1M122.2 208.3h1M120.6 193.6h1M125.4 216.7h1M127.3 206.3h1M113.6 223.4h1M116.8 204.9h1M111.8 213.6h1M117.6 203.0h1M131.1 215.5h1M126.6 199.0h1M122.7 217.3h1M110.9 216.8h1M126.6 199.7h1M119.2 195.0h1M121.4 201.6h1M122.4 193.9h1M125.7 210.0h1M127.6 212.6h1M116.0 222.7h1M119.4 224.9h1M114.5 214.6h1M126.4 204.5h1M119.7 218.5h1M117.8 213.4h1M129.9 207.3h1M123.8 188.9h1M119.4 216.4h1M122.9 215.9h1M121.3 228.1h1M117.4 216.9h1M119.0 214.7h1M126.1 215.7h1M111.7 200.6h1M126.4 206.1h1M124.4 214.9h1M115.7 210.3h1M122.2 208.3h1M128.7 206.6h1M118.3 213.1h1M133.5 196.9h1M121.5 204.7h1M113.9 222.0h1M123.2 201.8h1M115.3 208.4h1M113.0 205.0h1M134.3 205.7h1M122.6 196.3h1M130.0 203.0h1M120.0 232.4h1M126.0 211.5h1M114.6 193.8h1M113.9 212.9h1M126.1 217.2h1M121.8 231.9h1M122.5 222.5h1M113.1 207.5h1M112.0 200.3h1M134.8 211.8h1M123.9 232.1h1M130.9 198.2h1M122.5 201.1h1M114.7 205.3h1M117.8 230.4h1M122.0 222.1h1M113.7 204.2h1M119.3 224.7h1M121.3 214.8h1M120.9 203.7h1M127.6 196.0h1M114.8 212.1h1M118.8 211.7h1M125.5 195.2h1M130.0 193.9h1M121.7 197.9h1M114.3 222.2h1M129.3 204.1h1M113.7 231.9h1M124.9 219.6h1M126.6 189.4h1M126.1 208.9h1M119.9 195.5h1M129.7 201.5h1M119.7 202.6h1M120.6 204.5h1M116.5 219.2h1M112.8 226.5h1M118.4 221.9h1M119.6 208.7h1M112.8 215.2h1M116.3 221.7h1M126.3 207.5h1M133.3 219.6h1M115.3 206.9h1M116.3 217.7h1M130.6 213.0h1M118.8 209.2h1M124.8 217.9h1M126.4 215.5h1M124.5 221.3h1M121.5 218.8h1M124.5 215.9h1M127.0 215.7h1M115.9 203.4h1M111.5 220.5h1M117.0 232.6h1M108.7 212.6h1M129.0 207.8h1M112.9 219.6h1M125.2 212.2h1M118.8 214.7h1M132.6 203.5h1M124.4 219.9h1M110.8 218.9h1M123.2 203.1h1M111.5 227.4h1M122.0 195.8h1M117.9 191.6h1M122.1 194.0h1M119.0 190.9h1M123.7 187.1h1M135.7 204.4h1M124.2 218.8h1M122.5 215.3h1M128.9 206.7h1M121.0 233.1h1M131.4 205.0h1M122.3 204.3h1M119.5 202.2h1M120.6 206.8h1M134.7 205.0h1M123.5 220.5h1M120.5 195.1h1M120.9 230.8h1M126.1 214.0h1M129.7 208.5h1M116.1 225.6h1M112.8 210.0h1M121.8 208.7h1M121.0 197.2h1M128.6 217.1h1M123.4 216.3h1M122.7 192.6h1M121.9 201.2h1M129.3 194.5h1M119.7 194.2h1M115.9 204.0h1M129.9 196.7h1M119.5 224.1h1M120.5 192.0h1M126.1 210.3h1M130.8 211.2h1M122.4 201.7h1M122.2 199.7h1M113.2 219.1h1M126.3 204.3h1M125.9 217.7h1M119.6 214.8h1M134.8 212.3h1M126.9 224.8h1M124.6 222.3h1M122.9 215.6h1M114.1 207.1h1M111.4 224.3h1M129.8 219.3h1M121.9 212.0h1M126.8 223.0h1M133.0 218.3h1M119.1 225.5h1M111.2 228.2h1M120.9 221.9h1M127.8 187.5h1M131.5 207.6h1M133.9 207.8h1M122.8 214.1h1M124.3 190.0h1M124.8 204.9h1M116.1 222.3h1M118.9 231.2h1M122.6 227.9h1M129.4 225.3h1M119.6 220.1h1M116.9 218.0h1M123.2 189.1h1M126.0 215.5h1M109.9 222.4h1M112.4 225.6h1M126.7 201.0h1M135.3 199.5h1M124.5 205.9h1M112.7 205.4h1M123.1 203.3h1M125.8 218.1h1M125.1 205.6h1M115.8 203.2h1M126.4 205.2h1M126.8 216.5h1M123.3 202.8h1M125.9 215.2h1M129.8 191.3h1M124.9 203.5h1M128.3 223.5h1M126.6 202.5h1M125.1 213.0h1M114.6 203.9h1M130.5 202.4h1M119.9 226.4h1M129.6 211.7h1M114.5 222.6h1M131.7 216.8h1M121.5 197.7h1M112.1 218.6h1M120.0 206.6h1M126.9 218.9h1M121.8 218.4h1M115.2 207.4h1M124.7 197.9h1M127.5 195.7h1M123.1 224.8h1M123.4 214.8h1M121.8 229.4h1M128.5 210.7h1M130.4 213.3h1M129.5 211.2h1M129.3 211.8h1M123.8 210.0h1M121.4 231.7h1M122.2 195.4h1M120.2 208.6h1M120.6 214.2h1M121.5 215.6h1M112.7 210.2h1M109.4 219.7h1M125.3 214.7h1M125.0 206.8h1M110.1 208.1h1M124.7 212.9h1M122.9 205.0h1M131.3 205.2h1M129.5 205.3h1M116.3 223.6h1M123.3 203.5h1M120.0 198.0h1M124.5 207.9h1M130.7 214.1h1M123.2 205.8h1M119.5 196.8h1M123.3 206.0h1M123.9 209.3h1M118.9 217.3h1M117.2 205.5h1M118.1 218.6h1M130.2 212.8h1M123.5 218.2h1M124.2 198.2h1M121.6 201.6h1M116.9 233.8h1M119.4 205.9h1M125.2 190.0h1M129.0 211.5h1M124.8 201.7h1M119.0 225.6h1M113.9 215.3h1M127.8 207.9h1M124.9 197.4h1M127.3 201.0h1M121.2 196.2h1M132.5 196.8h1M120.2 204.4h1M119.0 214.7h1M124.7 214.0h1M128.4 199.0h1M128.6 204.6h1M126.9 215.4h1M130.8 208.1h1M131.8 204.7h1M111.9 209.0h1M116.6 229.0h1M121.1 207.4h1M130.6 218.2h1M119.4 200.8h1M126.2 216.1h1M130.5 216.2h1M117.0 214.2h1M113.5 222.3h1M128.9 214.5h1M117.6 214.4h1M116.4 201.3h1M129.8 212.0h1M128.6 213.1h1M121.3 218.3h1M121.8 199.7h1M118.6 210.5h1M114.8 213.1h1M127.6 227.3h1M116.1 203.6h1M122.9 206.7h1M121.5 212.4h1M118.1 230.9h1M118.6 200.6h1M120.9 212.9h1M123.7 203.6h1M119.6 214.8h1M112.4 222.3h1M128.3 201.4h1M122.2 211.6h1M126.2 193.6h1M121.8 191.9h1M117.0 208.5h1M121.7 194.0h1M114.1 212.8h1M131.2 200.7h1M114.8 217.7h1M120.2 210.6h1M124.5 211.6h1M134.1 216.8h1M116.2 230.8h1M115.7 222.5h1M126.5 214.0h1M127.8 195.8h1M119.4 214.4h1M126.4 221.9h1M120.2 204.9h1M117.9 228.7h1M119.6 228.0h1M129.8 223.0h1M121.9 202.5h1M132.7 208.4h1M121.0 217.0h1M117.8 215.1h1M127.1 206.1h1M127.5 211.1h1M115.6 201.2h1M115.6 208.0h1M119.6 199.8h1M118.8 213.8h1M121.0 209.5h1M118.5 199.3h1M133.9 207.6h1M113.0 221.7h1M113.7 221.9h1M124.1 197.2h1M119.8 202.4h1M110.9 223.7h1M115.4 198.7h1M131.6 199.7h1M121.9 213.7h1M112.8 202.5h1M117.8 212.0h1M131.2 210.3h1M119.2 211.4h1M122.3 222.2h1M120.8 213.6h1M116.5 223.6h1M114.2 222.3h1M113.9 214.5h1M124.9 223.2h1M117.0 192.8h1M119.3 211.6h1M120.3 217.8h1M122.5 201.3h1M123.8 194.6h1M131.2 195.7h1M121.2 211.7h1M120.1 204.5h1M117.2 220.3h1M118.5 203.4h1M115.3 211.3h1M120.4 197.0h1M115.6 230.0h1M121.9 204.2h1M123.0 217.6h1M121.7 195.3h1M120.0 194.4h1M116.0 211.2h1M124.8 198.3h1M130.6 196.0h1M133.0 209.0h1M115.7 213.4h1M130.3 206.1h1M124.9 212.4h1M113.5 223.4h1M128.8 199.5h1M123.0 203.3h1M123.2 201.6h1M117.8 212.9h1M124.8 194.2h1M123.7 207.0h1M132.8 194.6h1M116.5 202.4h1M122.7 211.3h1M122.3 209.8h1M121.7 195.3h1M122.0 218.6h1M128.0 197.8h1M119.7 207.8h1M128.1 196.6h1M127.2 203.3h1M116.6 205.2h1M124.2 225.1h1M109.3 217.2h1M125.5 201.1h1M128.4 196.6h1M126.6 208.2h1M121.4 216.2h1M115.3 230.6h1M117.7 207.4h1M123.7 198.9h1M115.2 228.6h1M119.8 221.9h1M132.0 215.2h1M117.8 204.7h1M130.8 212.6h1M123.6 225.0h1M128.5 216.8h1M110.2 208.7h1M115.9 210.8h1M130.1 203.9h1M123.9 194.5h1M129.3 196.6h1M117.2 212.2h1M129.7 202.8h1M120.5 196.7h1M111.4 203.9h1M110.9 211.8h1M130.4 202.1h1M115.1 201.7h1M114.0 207.3h1M128.8 213.2h1M114.7 206.8h1M124.1 205.0h1M122.1 204.7h1M113.1 206.4h1M121.1 221.6h1M113.0 202.1h1M128.7 206.9h1M120.9 210.3h1M120.4 219.5h1M121.3 211.7h1M126.3 208.1h1M115.6 212.6h1M114.3 214.6h1M121.2 221.9h1M127.4 195.6h1M117.4 207.6h1M119.0 222.8h1M121.2 211.5h1M127.5 205.6h1M116.8 208.4h1M126.5 221.8h1M122.7 196.4h1M111.7 215.9h1M127.2 207.5h1M125.0 204.1h1M131.4 205.8h1M113.5 227.6h1M117.4 210.8h1M118.2 202.0h1M125.5 216.3h1M128.1 195.1h1M116.0 212.0h1M124.8 205.5h1M118.2 231.4h1M131.8 208.3h1M130.8 200.8h1M122.0 218.1h1M126.0 213.4h1M119.3 212.9h1M121.4 206.7h1M130.2 199.6h1M129.0 204.1h1M128.1 202.3h1M116.5 198.6h1M133.0 202.7h1M120.2 206.0h1M126.1 220.5h1M126.2 212.6h1M127.1 208.6h1M120.6 197.8h1M129.9 194.6h1M122.0 209.7h1M127.3 199.9h1M126.0 217.8h1M126.5 192.5h1M128.3 203.6h1M122.9 230.2h1M116.3 215.6h1M115.4 213.1h1M114.3 222.0h1M128.2 215.2h1M132.1 211.6h1M118.9 210.1h1M114.6 223.8h1M118.0 204.8h1M117.0 199.9h1M118.7 201.0h1M121.7 208.0h1M122.6 193.7h1M124.4 218.4h1M119.4 205.3h1M119.4 234.2h1M119.7 198.4h1M120.0 215.6h1M120.2 220.8h1M117.4 226.7h1M120.5 220.7h1M124.3 215.2h1M119.3 212.4h1M118.6 229.1h1M122.6 195.6h1M132.0 213.1h1M129.0 201.8h1M127.7 203.4h1M119.8 232.2h1M117.8 199.6h1M123.6 207.3h1M116.7 217.1h1M125.6 214.8h1M117.3 214.3h1M121.0 189.4h1M121.6 216.3h1M117.5 210.8h1M126.1 221.7h1M128.1 209.8h1M120.5 217.9h1M131.3 201.9h1M126.0 204.2h1M125.6 219.5h1M121.9 211.3h1M118.7 225.2h1M122.0 211.1h1M112.4 212.9h1M119.2 216.3h1M135.2 212.7h1M123.2 209.0h1M122.8 226.1h1M133.5 208.7h1M122.7 220.5h1M122.0 207.9h1M127.0 225.5h1M127.4 206.0h1M120.5 203.6h1M131.0 225.0h1M120.4 198.9h1M122.4 206.8h1M115.4 211.4h1M117.5 213.4h1M125.3 205.6h1M131.6 200.7h1M119.2 203.6h1M109.6 224.2h1M120.7 212.3h1M118.4 204.8h1M122.8 211.9h1M125.8 208.0h1M125.2 206.7h1M135.5 205.7h1M109.5 225.3h1M121.8 222.8h1M125.8 213.2h1M125.6 224.6h1M126.5 206.1h1M115.9 212.3h1M127.2 202.6h1M124.9 199.7h1M125.3 211.7h1M128.1 226.8h1M122.2 230.7h1M129.4 206.6h1M125.3 213.2h1M110.6 212.3h1M112.4 227.8h1M119.4 201.6h1M126.4 218.7h1M129.7 212.5h1M112.1 203.4h1M118.9 200.1h1M122.9 200.2h1M110.5 218.2h1M110.7 208.0h1M117.3 194.0h1M117.2 213.2h1M121.7 204.2h1M134.4 200.5h1M123.8 199.1h1M131.7 204.8h1M129.0 195.8h1M115.4 204.8h1M125.6 220.3h1M126.7 213.8h1M135.4 202.2h1M114.8 222.1h1M118.1 221.8h1M129.6 204.2h1M119.7 212.6h1M116.8 200.9h1M124.1 228.4h1M119.8 205.7h1M116.0 208.3h1M122.4 192.9h1M113.3 213.6h1M128.9 193.3h1M119.2 192.2h1M132.7 191.7h1M125.1 202.0h1M119.6 210.4h1M113.6 210.8h1M133.9 200.5h1M121.7 217.5h1M133.4 213.6h1M111.1 213.9h1M118.6 217.6h1M123.4 202.6h1M119.3 207.7h1M125.1 201.9h1M115.2 205.3h1M113.1 217.6h1M118.8 222.0h1M122.9 216.2h1M121.7 208.4h1M118.1 210.0h1M124.2 206.7h1M118.1 214.1h1M121.4 213.3h1M111.0 224.7h1M118.0 211.7h1M116.1 208.4h1M127.3 223.3h1M123.1 208.6h1M119.8 232.0h1M128.0 190.8h1M117.4 220.2h1M129.0 217.2h1M124.9 202.0h1M128.2 213.8h1M112.3 212.7h1M123.9 217.7h1M131.4 206.1h1M116.7 192.2h1M119.4 213.1h1M130.7 214.0h1M119.4 190.4h1M125.8 199.6h1M126.5 219.5h1M123.0 220.2h1M132.1 209.1h1M123.4 214.7h1M129.8 207.9h1M125.9 206.1h1M123.8 191.5h1M124.4 202.3h1M122.7 214.5h1M116.5 218.7h1M115.8 221.8h1M116.8 221.8h1M124.2 226.5h1M116.5 192.4h1M128.1 210.3h1M119.8 199.7h1M120.9 223.1h1M116.6 203.6h1M128.0 210.9h1M123.7 196.3h1M120.8 229.7h1M121.5 198.2h1M120.4 194.9h1M121.1 217.0h1M126.7 209.4h1M120.9 219.0h1M127.4 212.6h1M129.3 226.5h1M121.6 198.7h1M128.1 197.4h1M119.5 204.0h1M111.2 223.7h1M127.7 211.6h1M134.7 201.5h1M124.2 205.0h1M125.0 213.5h1M124.8 220.5h1M114.7 219.9h1M121.4 215.9h1M130.7 214.6h1M111.2 222.1h1M136.4 208.0h1M124.1 228.7h1M116.0 207.3h1M129.8 199.5h1M123.4 218.3h1M122.6 199.6h1M120.3 211.2h1M121.3 216.2h1M116.7 222.9h1M121.9 196.4h1M122.2 209.0h1M126.6 196.3h1M124.0 197.9h1M127.5 196.6h1M124.5 220.0h1M127.8 223.4h1M125.4 201.6h1M118.1 222.4h1M116.3 215.9h1M128.3 213.6h1M129.3 204.5h1M129.7 196.7h1M112.0 226.8h1M128.2 222.0h1M117.3 217.6h1M117.7 230.4h1M129.9 208.9h1M123.8 210.5h1M130.5 203.0h1M115.4 231.2h1M116.6 213.2h1M126.4 220.4h1M128.4 194.5h1M120.6 224.6h1M126.1 186.2h1M134.3 213.5h1M121.3 205.2h1M118.1 211.8h1M119.7 211.5h1M125.5 210.0h1M121.0 203.8h1M128.6 202.7h1M127.7 215.8h1M127.4 201.9h1M127.4 199.0h1M111.8 221.0h1M124.8 215.0h1M126.6 209.6h1M119.1 222.6h1M118.8 195.7h1M126.1 211.3h1M121.8 221.2h1M134.8 208.7h1M120.0 194.7h1M120.1 198.9h1M113.2 204.1h1M121.4 203.4h1M120.0 207.3h1M117.1 220.4h1M112.7 230.1h1M124.0 210.6h1M131.6 213.4h1M118.5 215.0h1M115.9 219.4h1M131.0 187.7h1M119.4 218.6h1M121.7 198.7h1M127.2 196.5h1M130.7 198.3h1M126.2 200.7h1M117.9 198.8h1M120.9 197.0h1M128.4 204.5h1M112.7 218.0h1M119.3 218.6h1M119.0 203.1h1M127.5 203.0h1M112.3 216.3h1M119.3 196.0h1M121.9 217.2h1M122.2 205.6h1M117.8 229.0h1M116.9 208.9h1M110.9 211.6h1M115.4 207.3h1M117.9 224.5h1M124.3 204.2h1M131.3 192.6h1M113.2 206.6h1M127.9 225.0h1M127.0 214.6h1M119.1 221.0h1M119.2 216.4h1M116.7 210.5h1M115.1 232.3h1M116.5 213.8h1M110.4 202.3h1M133.2 197.0h1M125.3 222.6h1M131.5 223.9h1M122.4 222.0h1M127.6 209.8h1M124.6 204.2h1M124.5 207.2h1M119.9 192.7h1M126.5 192.3h1M119.4 203.7h1M124.2 208.2h1M128.5 195.7h1M128.9 208.3h1M115.5 229.0h1M116.7 202.1h1M127.7 209.7h1M120.2 191.9h1M113.5 226.6h1M134.3 195.0h1M117.7 200.4h1M119.6 213.6h1M127.7 193.1h1M124.1 215.4h1M131.9 204.0h1M131.6 195.9h1M127.8 189.5h1M126.3 195.4h1M116.2 218.9h1M113.2 216.1h1M120.8 225.0h1M128.1 204.0h1M123.4 212.6h1M127.7 206.5h1M125.5 210.6h1M119.0 210.8h1M134.6 206.2h1M119.3 203.4h1M123.5 221.9h1M120.8 188.4h1M119.1 206.2h1M124.9 218.2h1M121.3 221.3h1M132.6 211.2h1M128.1 205.7h1M126.8 217.2h1M122.0 220.2h1M123.4 225.6h1M123.8 199.9h1M110.0 224.7h1M114.0 218.1h1M133.5 198.5h1M119.2 211.4h1M116.9 199.7h1M132.8 208.4h1M123.1 197.7h1M117.0 211.7h1M116.1 209.1h1M127.0 212.4h1M121.3 220.1h1M123.6 205.9h1M124.8 212.1h1M122.9 211.0h1M127.6 206.1h1M125.1 223.9h1M116.5 228.4h1M123.5 209.5h1M121.8 220.2h1M117.7 207.8h1M131.3 216.8h1M122.7 218.2h1M126.0 193.3h1M122.7 212.4h1M125.9 205.2h1M121.6 203.3h1M113.9 222.7h1M123.3 214.2h1M125.5 209.5h1M114.7 215.8h1M121.7 216.7h1M108.7 220.4h1M135.0 209.1h1M115.6 225.0h1M124.3 203.5h1M123.9 191.1h1M126.8 201.7h1M115.6 211.7h1M123.2 208.7h1M129.7 212.3h1M122.9 205.4h1M124.0 211.8h1M120.9 217.6h1M113.3 223.5h1M115.9 212.5h1M118.5 233.3h1M117.3 219.9h1M114.8 216.3h1M119.0 207.1h1M115.6 216.7h1M124.2 227.0h1M117.6 215.0h1M129.0 197.2h1M122.3 203.6h1M114.5 223.1h1M125.3 204.6h1M118.1 200.6h1M121.1 207.7h1M125.0 202.6h1M130.7 212.3h1M120.5 214.0h1M128.0 194.0h1M129.2 200.9h1M133.9 202.3h1M113.1 230.5h1M124.8 228.5h1M129.2 211.9h1M120.9 205.2h1M121.9 227.2h1M121.0 214.7h1M121.7 209.2h1M122.4 196.1h1M112.2 207.2h1M113.6 209.1h1M124.5 209.9h1M121.5 230.9h1M120.3 223.2h1M116.2 195.1h1M119.9 210.2h1M120.1 213.6h1M118.1 208.3h1M123.9 200.2h1M129.6 203.0h1M126.1 219.7h1M112.3 223.4h1M122.4 227.5h1M123.0 219.8h1M123.6 212.2h1M124.8 194.2h1M128.7 202.7h1M121.3 204.9h1M126.5 219.9h1M114.5 217.1h1M118.7 226.2h1M128.7 203.6h1M120.5 232.6h1M117.5 228.4h1M126.1 223.8h1M123.8 219.5h1M124.4 213.4h1M121.6 205.9h1M130.3 206.4h1M122.6 206.5h1M125.8 217.5h1M110.7 205.8h1M123.2 201.3h1M125.6 202.2h1M113.7 222.5h1M120.3 206.7h1M130.9 217.8h1M132.2 215.2h1M110.0 214.5h1M119.4 209.1h1M124.1 213.5h1M124.6 221.3h1M129.5 210.1h1M121.2 220.2h1M124.7 216.1h1M121.6 202.0h1M125.7 198.7h1M121.1 214.6h1M118.2 190.4h1M121.5 208.6h1M116.3 224.4h1M118.0 206.5h1M119.2 219.6h1M114.5 226.7h1M111.0 228.8h1M116.0 203.1h1M115.4 198.7h1M108.2 215.6h1M111.0 224.0h1M110.5 219.1h1M126.8 213.2h1M123.2 226.4h1M125.1 201.3h1M126.2 188.4h1M128.8 195.7h1M124.2 187.6h1M132.2 194.3h1M121.9 217.2h1M120.1 208.4h1M121.8 213.2h1M124.7 194.5h1M125.1 206.3h1M123.9 206.1h1M122.0 220.9h1M123.1 210.3h1M115.8 207.2h1M124.4 215.5h1M134.7 208.3h1M118.3 205.7h1M127.2 198.8h1M132.9 195.8h1M121.9 213.8h1M112.5 205.2h1M120.9 213.9h1M117.4 213.7h1M118.7 209.4h1M130.1 198.8h1M127.8 223.4h1M133.5 210.0h1M115.2 207.9h1M117.9 214.1h1M122.3 189.3h1M128.5 219.1h1M121.7 218.9h1M117.1 218.3h1M117.6 210.1h1M135.1 208.5h1M114.5 218.0h1M120.8 203.5h1M125.7 196.7h1M123.3 208.9h1M120.4 215.8h1M119.5 198.7h1M119.5 204.8h1M118.8 203.3h1M136.0 206.7h1M127.1 206.5h1M128.2 228.5h1M126.8 223.0h1M120.6 201.1h1M114.8 216.2h1M124.9 204.1h1M122.1 213.1h1M124.7 202.7h1M118.8 218.9h1M110.4 205.6h1M124.2 218.7h1M114.0 213.9h1M123.1 207.3h1M130.6 204.3h1M128.7 211.2h1M111.7 225.4h1M117.1 233.2h1M126.3 198.4h1M123.1 219.7h1M119.9 201.0h1M110.8 215.9h1M130.6 189.2h1M118.9 218.3h1M125.3 213.2h1M120.7 220.0h1M118.2 191.9h1M127.1 199.1h1M122.9 214.8h1M114.8 211.5h1M123.5 201.4h1M126.3 200.5h1M126.6 186.0h1M125.9 196.1h1M121.0 202.5h1M117.2 192.7h1M120.3 219.1h1M118.0 219.7h1M124.2 195.1h1M125.0 202.5h1M123.4 195.6h1M122.3 217.9h1M124.9 220.7h1M120.6 216.5h1M119.4 210.5h1M112.7 201.5h1M124.6 219.3h1M127.9 207.7h1M123.8 195.8h1M113.9 229.3h1M123.2 198.1h1M121.3 206.6h1M117.7 203.4h1M120.5 222.8h1M124.9 223.2h1M126.5 194.0h1M123.9 204.6h1M118.1 220.2h1M116.6 208.5h1M119.3 210.0h1M132.2 204.9h1M115.2 227.0h1M120.9 211.6h1M120.9 203.3h1M109.3 209.6h1M119.9 202.7h1M120.5 222.3h1M115.6 202.1h1M119.9 191.5h1M128.0 207.1h1M118.2 228.1h1M127.6 198.3h1M117.3 204.4h1M123.6 196.1h1M125.0 213.8h1M118.0 220.1h1M114.2 199.5h1M134.8 203.3h1M110.7 221.2h1M111.7 209.4h1M114.5 214.2h1M119.2 209.7h1M117.5 195.4h1M118.8 206.7h1M125.3 218.8h1M124.4 205.4h1M119.2 204.7h1M118.4 211.3h1M125.5 216.6h1M127.2 202.2h1M117.0 192.2h1M113.7 211.3h1M115.3 225.8h1M122.1 200.4h1M122.8 224.9h1M112.6 220.7h1M119.6 224.4h1M126.3 199.5h1M120.9 204.7h1M122.2 203.8h1M121.9 193.3h1M130.4 213.1h1M125.0 196.3h1M128.1 217.7h1M121.7 209.3h1M130.0 190.6h1M119.9 226.0h1M119.4 216.7h1M134.0 207.8h1M127.3 212.7h1M116.5 221.4h1M116.5 218.2h1M124.2 212.2h1M129.9 201.4h1M117.3 211.2h1M118.2 219.6h1M130.1 203.7h1M131.7 200.5h1M128.0 199.6h1M120.0 200.3h1M123.9 205.1h1M128.9 204.5h1M128.8 219.5h1M126.7 217.0h1M120.0 216.6h1M126.1 201.7h1M115.3 217.8h1M128.8 206.2h1M117.0 207.8h1M122.3 199.7h1M115.6 214.3h1M129.1 216.5h1M114.6 206.6h1M109.4 209.9h1M117.0 196.8h1M130.6 201.9h1M127.1 216.3h1M116.0 217.8h1M119.8 201.7h1M119.6 207.8h1M119.8 211.3h1M123.7 208.1h1M119.6 216.6h1M115.1 207.4h1M133.3 217.5h1M129.8 212.6h1M122.3 190.5h1M121.6 222.0h1M119.0 201.1h1M116.1 203.2h1M125.4 200.7h1M125.4 211.7h1M119.5 215.7h1M116.7 208.7h1M118.9 230.5h1M132.6 212.6h1M116.4 224.1h1M120.9 218.0h1M118.3 204.8h1M120.1 233.8h1M121.8 201.3h1M122.3 197.3h1M132.1 199.8h1M131.8 198.1h1M114.1 204.9h1M123.8 221.0h1M117.3 200.4h1M122.3 203.5h1M127.0 216.4h1M130.4 197.9h1M124.3 193.8h1M128.1 201.7h1M119.1 219.5h1M112.1 214.9h1M128.7 203.0h1M121.2 201.9h1M125.7 227.5h1M123.1 216.9h1M131.7 192.9h1M121.3 207.6h1M119.6 221.7h1M119.0 220.0h1M115.0 214.5h1M118.4 201.8h1M120.3 218.2h1M120.4 226.6h1M113.6 206.9h1M130.8 199.4h1M118.2 201.9h1M124.5 212.0h1M112.6 230.7h1M123.2 209.0h1M121.0 215.5h1M120.8 194.9h1M128.2 223.9h1M122.8 205.9h1M118.6 217.9h1M120.2 215.9h1M118.4 218.4h1M122.2 221.5h1M109.5 217.3h1M120.2 226.0h1M126.4 216.2h1M115.1 212.6h1M122.2 204.6h1M127.5 213.3h1M120.5 219.1h1M123.3 197.1h1M117.7 202.4h1M118.7 198.7h1M121.7 186.9h1M122.2 212.5h1M122.7 220.0h1M118.6 200.3h1M121.2 210.9h1M120.6 218.3h1M130.5 212.6h1M120.4 213.0h1M121.8 211.8h1M115.7 224.3h1M126.8 227.2h1M131.4 216.0h1M125.0 217.2h1M115.9 222.0h1M124.5 214.7h1M126.1 211.3h1M132.3 200.9h1M109.2 223.9h1M119.4 212.2h1M129.7 212.2h1M119.5 227.2h1M118.7 197.5h1M132.5 196.3h1M108.9 219.2h1M117.7 216.8h1M118.0 216.1h1M116.3 221.0h1M126.0 207.0h1M123.7 206.4h1M118.7 205.9h1M117.3 202.8h1" stroke="#484848" stroke-width="1.2" stroke-opacity="0.85" fill="none"/>
<path d="M115.1 234.7h1M128.6 228.9h1M126.6 177.2h1M129.6 176.0h1M122.9 182.0h1M117.6 239.4h1M128.2 231.6h1M136.4 230.9h1M132.5 187.1h1M114.5 186.9h1M129.1 182.1h1M136.9 200.4h1M137.3 199.7h1M123.7 182.7h1M132.5 233.1h1M130.6 183.4h1M137.6 200.1h1M107.8 244.5h1M133.7 229.5h1M114.0 239.1h1M137.7 184.8h1M133.3 222.3h1M107.2 208.0h1M117.0 189.2h1M119.9 187.3h1M122.2 184.8h1M105.2 217.6h1M107.2 214.0h1M106.9 233.3h1M134.7 216.8h1M103.9 183.5h1M108.2 197.8h1M107.7 225.6h1M148.3 203.5h1M131.7 184.1h1M137.2 210.4h1M108.4 225.3h1M138.1 195.2h1M133.8 219.9h1M124.1 240.9h1M106.1 226.0h1M106.5 208.7h1M123.6 182.2h1M136.5 215.3h1M123.2 184.4h1M114.2 237.3h1M111.2 239.9h1M126.8 232.8h1M137.7 203.8h1M127.1 239.2h1M136.5 199.8h1M131.8 185.3h1M132.6 224.6h1M108.1 223.5h1M138.6 182.2h1M116.5 181.9h1M136.0 219.1h1M105.6 214.4h1M138.9 200.0h1M123.8 193.4h1M116.7 192.7h1M112.6 202.0h1M109.7 200.2h1M129.7 201.3h1M139.0 199.8h1M135.5 200.5h1M124.9 195.0h1M110.1 196.0h1M140.8 197.7h1M127.0 192.3h1M117.1 202.1h1M103.2 193.1h1M111.6 196.5h1M134.7 190.1h1M126.5 195.3h1M127.9 198.2h1M107.1 200.1h1M109.8 201.4h1M129.8 198.7h1M117.0 191.3h1M134.1 200.6h1M134.7 196.0h1M115.3 197.6h1M133.6 196.5h1M126.3 200.7h1M113.6 198.8h1M128.9 200.5h1M128.1 202.1h1M138.4 200.2h1" stroke="#777" stroke-width="1.2" stroke-opacity="0.75" fill="none"/>
<line x1="105.5" y1="171.7" x2="105.5" y2="257.3" stroke="#262626" stroke-width="1.0"/>
<line x1="88.5" y1="228" x2="192.6" y2="228" stroke="#262626" stroke-width="0.9"/>
<line x1="87.70" y1="171.7" x2="193.15" y2="171.7" stroke="#2a2a2a" stroke-width="1.5"/>
<line x1="192.6" y1="171.7" x2="192.6" y2="257.3" stroke="#2a2a2a" stroke-width="1.1"/>
<line x1="87.70" y1="257.3" x2="193.15" y2="257.3" stroke="#2a2a2a" stroke-width="1.1"/>
<line x1="88.5" y1="171.7" x2="88.5" y2="257.3" stroke="#2a2a2a" stroke-width="1.6"/>
<path d="M88.5 257.3v3.8M96.3 257.3v2.8M100.9 257.3v2.8M104.2 257.3v2.8M106.7 257.3v2.8M108.8 257.3v2.8M110.5 257.3v2.8M112.0 257.3v2.8M113.3 257.3v2.8M114.5 257.3v3.8M122.4 257.3v2.8M126.9 257.3v2.8M130.2 257.3v2.8M132.7 257.3v2.8M134.8 257.3v2.8M136.5 257.3v2.8M138.0 257.3v2.8M139.4 257.3v2.8M140.6 257.3v3.8M148.4 257.3v2.8M153.0 257.3v2.8M156.2 257.3v2.8M158.7 257.3v2.8M160.8 257.3v2.8M162.5 257.3v2.8M164.1 257.3v2.8M165.4 257.3v2.8M166.6 257.3v3.8M174.4 257.3v2.8M179.0 257.3v2.8M182.2 257.3v2.8M184.8 257.3v2.8M186.8 257.3v2.8M188.6 257.3v2.8M190.1 257.3v2.8M191.4 257.3v2.8M192.6 257.3v3.8" stroke="#111" stroke-width="1.2" fill="none"/>
<path d="M88.5 257.3h-3.0M88.5 250.9h-2.0M88.5 247.1h-2.0M88.5 244.4h-2.0M88.5 242.3h-2.0M88.5 240.6h-2.0M88.5 239.2h-2.0M88.5 238.0h-2.0M88.5 236.9h-2.0M88.5 235.9h-3.0M88.5 229.5h-2.0M88.5 225.7h-2.0M88.5 223.0h-2.0M88.5 220.9h-2.0M88.5 219.2h-2.0M88.5 217.8h-2.0M88.5 216.6h-2.0M88.5 215.5h-2.0M88.5 214.5h-3.0M88.5 208.1h-2.0M88.5 204.3h-2.0M88.5 201.6h-2.0M88.5 199.5h-2.0M88.5 197.8h-2.0M88.5 196.4h-2.0M88.5 195.2h-2.0M88.5 194.1h-2.0M88.5 193.1h-3.0M88.5 186.7h-2.0M88.5 182.9h-2.0M88.5 180.2h-2.0M88.5 178.1h-2.0M88.5 176.4h-2.0M88.5 175.0h-2.0M88.5 173.8h-2.0M88.5 172.7h-2.0M88.5 171.7h-3.0" stroke="#111" stroke-width="1.5" fill="none"/>
<text x="112.5" y="162.1" font-size="10.2" font-weight="bold" text-anchor="start" fill="#000" stroke="#000" stroke-width="0.3" textLength="58.0" lengthAdjust="spacingAndGlyphs" >C1C2* alone</text>
<text x="152.8" y="190.4" font-size="13.5" font-weight="bold" text-anchor="start" fill="#000" textLength="27.2" lengthAdjust="spacingAndGlyphs" stroke="#000" stroke-width="0.35">92%</text>
<text x="66.6" y="178.4" font-size="10.6" font-weight="normal" fill="#1a1a1a" stroke="#1a1a1a" stroke-width="0.3">10<tspan dy="-4.2" font-size="6.7">4</tspan></text>
<text x="66.6" y="198.6" font-size="10.6" font-weight="normal" fill="#1a1a1a" stroke="#1a1a1a" stroke-width="0.3">10<tspan dy="-4.2" font-size="6.7">3</tspan></text>
<text x="66.6" y="219.6" font-size="10.6" font-weight="normal" fill="#1a1a1a" stroke="#1a1a1a" stroke-width="0.3">10<tspan dy="-4.2" font-size="6.7">2</tspan></text>
<text x="66.6" y="240.4" font-size="10.6" font-weight="normal" fill="#1a1a1a" stroke="#1a1a1a" stroke-width="0.3">10<tspan dy="-4.2" font-size="6.7">1</tspan></text>
<text x="66.6" y="261.7" font-size="10.6" font-weight="normal" fill="#1a1a1a" stroke="#1a1a1a" stroke-width="0.3">10<tspan dy="-4.2" font-size="6.7">0</tspan></text>
<text x="85.5" y="274.2" font-size="10.6" font-weight="normal" fill="#1a1a1a" stroke="#1a1a1a" stroke-width="0.3">10<tspan dy="-4.2" font-size="6.7">0</tspan></text>
<text x="109.6" y="274.2" font-size="10.6" font-weight="normal" fill="#1a1a1a" stroke="#1a1a1a" stroke-width="0.3">10<tspan dy="-4.2" font-size="6.7">1</tspan></text>
<text x="133.7" y="274.2" font-size="10.6" font-weight="normal" fill="#1a1a1a" stroke="#1a1a1a" stroke-width="0.3">10<tspan dy="-4.2" font-size="6.7">2</tspan></text>
<text x="157.8" y="274.2" font-size="10.6" font-weight="normal" fill="#1a1a1a" stroke="#1a1a1a" stroke-width="0.3">10<tspan dy="-4.2" font-size="6.7">3</tspan></text>
<text x="181.7" y="274.2" font-size="10.6" font-weight="normal" fill="#1a1a1a" stroke="#1a1a1a" stroke-width="0.3">10<tspan dy="-4.2" font-size="6.7">4</tspan></text>
</g>
<g><clipPath id="cp5"><rect x="245" y="171" width="108.1" height="86.3"/></clipPath>
<ellipse cx="277" cy="238.3" rx="9.4" ry="8.6" transform="rotate(-10 277 238.3)" fill="#828282" fill-opacity="0.85" filter="url(#bl)" clip-path="url(#cp5)"/>
<path d="M272.1 239.1h1M274.6 242.0h1M269.6 238.5h1M276.2 240.6h1M282.1 228.5h1M282.5 238.0h1M279.3 229.1h1M271.0 244.5h1M283.6 246.3h1M273.7 243.7h1M276.9 233.8h1M286.4 240.5h1M284.5 230.7h1M272.0 238.0h1M277.8 230.8h1M268.9 235.5h1M274.9 248.8h1M283.4 243.6h1M284.3 238.4h1M286.8 243.5h1M278.8 240.7h1M270.8 242.4h1M281.4 234.5h1M276.3 238.5h1M285.2 236.4h1M283.9 246.3h1M277.0 229.1h1M279.4 236.1h1M273.2 235.9h1M284.1 235.6h1M279.5 238.4h1M276.3 230.2h1M266.1 235.0h1M270.6 238.3h1M268.7 232.2h1M283.5 236.4h1M276.6 239.0h1M273.8 234.0h1M273.3 244.5h1M271.7 239.2h1M273.2 237.4h1M277.8 236.6h1M279.7 233.9h1M277.8 246.7h1M276.8 239.6h1M270.4 239.2h1M272.9 240.0h1M285.1 235.5h1M280.4 242.3h1M275.4 237.4h1M266.2 242.4h1M273.7 238.5h1M284.9 229.5h1M276.6 242.7h1M273.9 239.1h1M275.7 239.0h1M273.7 232.5h1M271.8 238.2h1M275.2 242.4h1M281.2 248.3h1M266.4 245.5h1M284.2 234.8h1M277.8 235.5h1M275.0 233.1h1M282.0 237.4h1M287.7 241.2h1M272.9 248.2h1M283.7 241.5h1M273.4 238.8h1M282.5 239.3h1M277.8 234.2h1M278.9 242.6h1M274.2 246.1h1M288.3 240.1h1M281.3 238.8h1M278.4 237.7h1M277.5 235.9h1M281.7 230.3h1M272.3 237.5h1M272.7 239.0h1M272.3 234.7h1M270.4 233.2h1M282.8 236.4h1M272.2 242.6h1M281.5 233.1h1M275.8 230.4h1M275.4 245.4h1M285.4 244.6h1M270.4 240.8h1M279.7 242.4h1M274.8 243.7h1M269.6 242.5h1M269.1 241.1h1M281.1 236.6h1M272.2 235.6h1M272.7 235.5h1M273.5 232.8h1M278.3 235.8h1M285.2 241.9h1M279.7 242.7h1M282.7 241.2h1M275.7 238.3h1M277.8 230.2h1M278.3 243.0h1M282.0 245.1h1M281.4 236.7h1M284.6 237.2h1M286.2 236.6h1M274.8 236.8h1M283.2 239.6h1M275.2 243.3h1M284.5 241.8h1M273.6 235.0h1M285.6 240.5h1M281.0 238.1h1M267.8 236.1h1M287.7 237.7h1M273.3 234.0h1M268.4 235.2h1M282.6 233.1h1M270.5 245.9h1M279.1 238.9h1M273.4 244.1h1M274.8 232.0h1M276.0 234.6h1M284.7 241.7h1M281.4 234.8h1M282.0 235.0h1M275.3 237.1h1M282.5 234.6h1M282.2 237.8h1M280.0 239.1h1M278.8 240.8h1M276.1 241.6h1M289.0 242.8h1M276.7 240.1h1M282.3 241.8h1M270.5 236.6h1M279.4 248.5h1M274.8 229.6h1M278.0 243.6h1M273.4 245.3h1M283.1 241.9h1M269.5 234.4h1M279.7 246.5h1M269.8 234.8h1M286.0 239.9h1M277.3 241.9h1M269.3 238.6h1M274.3 231.5h1M279.5 236.1h1M267.9 232.2h1M281.4 240.6h1M284.4 241.4h1M276.5 235.4h1M279.2 243.1h1M281.1 229.1h1M277.1 242.6h1M277.7 249.6h1M266.6 242.7h1M270.2 230.4h1M281.7 247.9h1M271.9 240.6h1M287.0 243.7h1M268.9 232.6h1M267.8 242.5h1M276.5 247.2h1M271.9 239.7h1M269.2 236.2h1M280.5 234.1h1M281.3 235.6h1M269.4 236.7h1M282.0 233.3h1M286.7 236.8h1M285.5 242.0h1M279.3 232.3h1M278.3 230.5h1M284.6 234.5h1M279.1 243.4h1M277.0 241.5h1M267.1 243.0h1M288.4 238.7h1M270.2 239.0h1M270.7 237.9h1M272.5 233.5h1M278.0 236.5h1M276.8 235.8h1M284.6 232.6h1M278.1 231.2h1M273.5 238.9h1M271.3 240.8h1M267.8 234.6h1M266.7 233.4h1M280.8 239.0h1M279.0 232.9h1M272.8 246.8h1M271.8 229.7h1M273.3 232.2h1M269.8 237.9h1M275.7 231.7h1M274.6 238.0h1M280.1 241.7h1M272.5 241.7h1M276.7 232.1h1M272.8 231.7h1M279.8 245.3h1M271.0 239.2h1M276.6 238.8h1M280.1 237.6h1M280.4 228.9h1M282.0 244.1h1M282.4 234.1h1M273.5 237.2h1M272.8 243.6h1M279.5 239.7h1M274.8 238.8h1M275.2 249.0h1M273.6 238.3h1M267.2 241.0h1M278.9 247.0h1M273.1 240.8h1M272.0 231.9h1M276.6 227.6h1M278.3 235.9h1M277.4 245.1h1M276.7 232.2h1M280.8 237.8h1M268.4 243.2h1M282.6 243.1h1M277.1 236.0h1M274.0 231.4h1M278.4 243.8h1M279.7 247.1h1M277.4 238.2h1M286.2 232.5h1M277.8 236.1h1M267.9 234.9h1M268.1 243.0h1M276.8 230.7h1M267.0 241.8h1M270.0 240.1h1M275.7 231.3h1M277.1 247.9h1M276.3 237.9h1M277.4 242.5h1M284.7 237.5h1M277.5 239.8h1M278.1 230.1h1M282.3 234.7h1M270.8 229.3h1M271.2 232.7h1M270.8 240.6h1M275.2 230.4h1M271.9 235.3h1M277.7 236.1h1M266.3 235.8h1M288.3 238.7h1M275.2 232.9h1M266.7 241.3h1M284.2 234.0h1M279.2 236.6h1M269.5 230.1h1M268.9 233.1h1M279.8 231.1h1M275.0 238.2h1M273.9 239.9h1M289.4 237.1h1M269.1 230.1h1M280.2 233.0h1M283.8 233.5h1M274.0 248.2h1M272.2 234.2h1M277.0 233.7h1M278.1 229.4h1M276.7 240.8h1M271.4 237.9h1M268.1 231.6h1M270.0 233.5h1M270.0 241.1h1M276.6 230.5h1M275.7 235.3h1M285.3 233.8h1M278.5 232.0h1M271.6 239.1h1M275.9 238.9h1M282.7 237.7h1M272.8 237.2h1M284.2 246.5h1M279.9 239.5h1M277.1 246.6h1M279.0 240.2h1M275.2 239.1h1M271.4 233.6h1M278.2 242.2h1M277.1 234.8h1M277.4 230.9h1M273.2 243.0h1M276.5 241.3h1M273.9 239.2h1M285.0 236.1h1M288.8 233.7h1M267.0 239.9h1M274.2 239.8h1M278.1 233.3h1M281.7 231.3h1M277.3 236.0h1M272.3 237.9h1M272.9 235.8h1M287.1 239.8h1M274.0 242.0h1M284.4 237.0h1M276.1 240.6h1M285.7 232.3h1M279.8 231.7h1M273.1 238.3h1M274.9 241.8h1M274.7 243.7h1M280.7 231.7h1M267.6 239.9h1M281.9 236.8h1M288.7 236.7h1M271.8 239.9h1M281.2 229.8h1M286.8 239.0h1M278.2 236.1h1M278.7 231.1h1M286.8 230.6h1M272.2 241.3h1M271.3 242.8h1M273.2 239.3h1M280.8 244.5h1M272.6 246.4h1M276.8 242.3h1M268.5 241.1h1M280.4 238.9h1M273.4 241.7h1M286.5 233.7h1M269.1 239.3h1M273.4 231.7h1M274.4 248.8h1M283.7 238.2h1M273.5 234.9h1M283.2 240.1h1M286.8 244.2h1M283.6 233.6h1M279.1 246.1h1M284.2 235.3h1M286.5 240.0h1M278.1 241.8h1M273.9 236.4h1M283.6 240.2h1M278.4 250.0h1M277.4 242.2h1M270.8 244.4h1M277.8 233.3h1M281.0 242.4h1M266.7 239.7h1M275.4 236.8h1M289.0 235.6h1M270.5 235.0h1M284.1 233.7h1M278.3 227.8h1M276.9 245.2h1M286.0 245.3h1M280.0 238.3h1M267.2 234.7h1M278.6 248.9h1M278.9 248.1h1M269.9 236.0h1M283.4 248.2h1M286.8 237.2h1M277.7 231.3h1M280.1 237.3h1M286.4 235.8h1M275.4 233.9h1M281.8 238.4h1M283.0 240.7h1M268.2 229.9h1M282.4 241.9h1M282.3 246.2h1M272.1 236.9h1M274.1 235.1h1M272.9 239.4h1M278.2 230.2h1M274.1 233.0h1M284.0 246.8h1M268.0 246.8h1M271.0 231.6h1M266.3 239.0h1M275.9 239.1h1M286.2 236.9h1M265.5 242.2h1M282.1 233.7h1M270.6 241.7h1M285.8 240.2h1M281.5 239.3h1M282.0 236.3h1M274.4 237.3h1M278.4 235.0h1M276.0 243.0h1M269.2 235.5h1M287.7 243.6h1M285.4 238.8h1M271.1 240.1h1M282.4 233.1h1M268.4 231.9h1M272.1 236.1h1M282.7 243.6h1M278.9 236.0h1M279.3 237.0h1M272.9 233.3h1M282.7 231.8h1M286.8 239.5h1M274.2 242.4h1M278.3 238.7h1M279.1 249.8h1M271.8 237.5h1M277.2 234.9h1M283.9 232.3h1M272.2 235.9h1M282.5 238.8h1M273.5 243.7h1M278.0 245.7h1M288.1 242.5h1M288.6 238.6h1M279.9 234.9h1M275.2 236.2h1M281.4 248.6h1M282.3 232.1h1M268.9 242.5h1M282.6 230.9h1M282.7 239.7h1M279.1 240.4h1M274.1 240.1h1M286.0 244.8h1M279.0 231.5h1M278.7 239.6h1M274.8 243.1h1M274.1 244.3h1M272.2 237.0h1M278.8 241.3h1M271.0 242.9h1M283.5 237.1h1M280.6 240.6h1M266.4 232.0h1M272.6 234.0h1M274.4 246.4h1M274.0 238.6h1M270.1 232.8h1M278.6 240.9h1M279.4 241.0h1M284.6 240.5h1M279.9 235.8h1M277.7 236.1h1M274.7 226.9h1M275.6 236.6h1M266.7 236.8h1M277.6 239.4h1M284.5 241.0h1M280.8 235.8h1M280.7 235.2h1M272.6 240.9h1M281.8 237.9h1M270.2 240.2h1M281.0 237.7h1M265.5 237.6h1M285.9 236.4h1M271.2 242.1h1M278.8 233.7h1M273.7 232.4h1M278.2 229.5h1M272.2 235.5h1M279.9 233.7h1M273.3 235.2h1M286.7 236.4h1M264.6 234.9h1M284.0 238.0h1M273.0 248.8h1M274.8 247.7h1M284.4 242.6h1M278.7 235.9h1M282.4 248.0h1M276.2 231.6h1M277.6 242.6h1M276.0 234.9h1M285.0 236.0h1M270.1 237.1h1M277.9 243.6h1M279.1 227.4h1M277.4 242.6h1M283.9 240.8h1M283.6 243.3h1M287.4 235.0h1M282.8 230.4h1M273.9 233.5h1M281.7 235.5h1M268.7 244.5h1M276.4 242.9h1M275.5 235.5h1M280.1 249.0h1M272.1 237.6h1M264.8 242.5h1M269.0 234.1h1M277.0 238.0h1M273.8 237.2h1M280.3 237.3h1M285.8 237.9h1M278.2 238.6h1M272.6 231.5h1M273.3 244.8h1M268.8 237.1h1M282.7 244.2h1M280.2 236.1h1M278.9 231.8h1M267.5 239.0h1M274.6 241.0h1M283.8 233.0h1M274.5 238.8h1M276.0 245.1h1M268.8 243.9h1M281.7 247.1h1M270.6 238.5h1M267.0 240.9h1M284.0 243.9h1M286.1 232.3h1M270.3 238.5h1M280.0 242.8h1M269.3 239.8h1M276.1 244.4h1M283.2 237.4h1M271.3 233.6h1M279.7 232.7h1M270.2 237.7h1M274.8 234.0h1M268.2 232.0h1M277.7 239.0h1M269.5 247.6h1M269.5 236.0h1M269.2 241.5h1M278.1 231.9h1M271.6 238.4h1M280.0 233.7h1M287.8 241.1h1M277.3 245.2h1M276.9 235.5h1M278.2 245.6h1M279.1 231.5h1M276.1 240.9h1M281.6 239.4h1M278.5 236.3h1M274.7 247.5h1M272.4 244.7h1M284.3 233.1h1M281.7 236.4h1M273.4 232.1h1M273.6 229.1h1M277.5 240.5h1M280.9 242.9h1M283.5 241.9h1M278.2 230.5h1M279.6 242.2h1M277.2 239.5h1M269.4 238.8h1M277.1 244.9h1M271.3 243.2h1M274.5 232.2h1M273.2 228.5h1M272.3 237.2h1M279.3 234.8h1M268.7 240.3h1M282.8 232.4h1M268.8 237.1h1M279.7 232.6h1M277.3 248.5h1M276.4 232.7h1M270.2 239.0h1M275.5 234.2h1M274.7 237.1h1M282.0 241.0h1M269.8 246.3h1M266.8 232.4h1M277.0 246.7h1M276.3 246.1h1M268.0 230.3h1M266.1 240.2h1M274.2 239.9h1M281.7 235.2h1M267.5 237.9h1M278.1 233.6h1M267.0 236.7h1M278.3 238.4h1M275.9 236.1h1M271.3 243.3h1M270.7 235.3h1M273.1 246.4h1M264.1 239.4h1M281.9 239.1h1M278.9 238.0h1M277.0 243.6h1M270.8 242.0h1M286.1 240.7h1M278.5 245.9h1M273.6 245.0h1M279.4 239.0h1M283.3 246.4h1M277.2 242.0h1M279.6 233.8h1M289.6 235.7h1M278.6 239.2h1M280.4 234.4h1M274.7 242.3h1M280.1 242.9h1M264.4 239.5h1M278.2 243.9h1M275.9 239.3h1M285.6 232.4h1M280.8 230.9h1M266.3 244.1h1M282.1 241.0h1M281.0 233.4h1M272.8 236.8h1M268.1 234.1h1M264.8 240.7h1M269.7 244.6h1M276.3 238.1h1M283.9 238.2h1M270.0 234.4h1M273.4 245.5h1M271.7 237.2h1M273.8 238.3h1M271.5 240.4h1M287.3 240.2h1M278.5 232.9h1M285.1 234.7h1M281.1 237.8h1M278.2 241.9h1M279.7 244.3h1M283.6 231.2h1M273.6 234.1h1M276.6 242.5h1M276.6 237.6h1M278.2 238.5h1M280.4 246.5h1M284.1 229.1h1M269.4 238.5h1M280.2 245.7h1M266.8 239.2h1M274.2 233.9h1M285.2 238.5h1M285.3 236.6h1M279.2 241.2h1M270.5 228.5h1M273.9 247.4h1M278.7 233.2h1M279.7 241.6h1M273.0 243.0h1M271.3 242.8h1M282.7 244.8h1M274.7 242.9h1M281.0 233.4h1M278.0 241.0h1M285.7 244.9h1M279.9 246.2h1M285.8 235.6h1M276.2 231.5h1M273.6 236.7h1M284.7 239.6h1M286.1 237.6h1M282.7 241.1h1M280.6 241.1h1M282.2 238.1h1M274.1 233.6h1M274.1 229.0h1M280.8 247.0h1M275.0 243.7h1M286.4 232.8h1M270.9 235.6h1M283.1 232.4h1M266.3 243.5h1M265.9 244.9h1M274.5 237.3h1M279.6 245.4h1M275.1 244.1h1M281.4 245.4h1M277.9 234.8h1M279.2 237.5h1M272.7 237.2h1M279.3 239.3h1M273.7 240.7h1M277.2 240.0h1M279.1 241.0h1M279.5 227.8h1M286.0 235.2h1M271.7 238.5h1M265.2 241.0h1M287.3 244.6h1M276.0 242.9h1M280.0 230.3h1M268.7 235.9h1M283.7 247.1h1M269.2 242.0h1M273.6 241.4h1M282.4 241.8h1M274.0 240.6h1M270.7 241.0h1M284.8 234.9h1M280.0 243.9h1M273.0 234.2h1M272.0 243.7h1M272.3 237.4h1M278.0 228.5h1M280.2 234.0h1M286.7 237.3h1M282.7 242.1h1M274.5 230.5h1M287.3 240.5h1M280.9 231.9h1M271.5 243.4h1M275.3 244.6h1M267.2 236.9h1M277.1 240.5h1M279.8 228.1h1M275.6 236.7h1M278.2 231.2h1M280.2 241.9h1M286.7 244.9h1M266.2 238.3h1M280.9 234.4h1M276.8 229.2h1M274.5 241.7h1M275.1 239.1h1M285.6 240.0h1M281.3 234.5h1M277.5 238.6h1M277.3 240.3h1M268.8 245.8h1M282.5 237.2h1M271.8 244.7h1M278.8 242.7h1M274.4 244.0h1M277.2 240.5h1M277.2 238.9h1M281.3 234.7h1M284.3 238.3h1M270.4 243.6h1M269.3 244.5h1M275.2 236.5h1M274.7 233.6h1M278.4 233.7h1M278.4 243.9h1M270.0 238.9h1M273.8 234.7h1M279.8 235.4h1M288.4 233.4h1M280.0 243.6h1M278.4 243.0h1M270.2 241.5h1M285.0 244.6h1M275.8 229.8h1M278.0 228.9h1M279.4 239.3h1M272.3 237.1h1M272.8 232.3h1M285.6 232.5h1M280.1 230.4h1M280.2 240.2h1M269.5 244.0h1M278.0 238.2h1M269.9 234.3h1M276.5 231.9h1M280.8 234.2h1M281.4 231.5h1M279.4 234.2h1M279.6 237.1h1M274.8 242.4h1M279.5 249.0h1M275.1 234.1h1M285.6 243.3h1M276.4 239.8h1M278.1 243.9h1M278.0 242.3h1M279.2 236.9h1M281.0 239.5h1M281.6 229.9h1M278.2 230.6h1M278.8 228.6h1M280.0 228.9h1M271.5 239.8h1M281.6 241.2h1M283.7 228.6h1M267.4 244.2h1M272.6 241.4h1M273.6 245.9h1M285.9 237.7h1M277.3 239.3h1M272.0 241.6h1M286.4 232.8h1M278.5 241.9h1M280.4 237.9h1M283.2 240.6h1M282.1 227.8h1M277.2 236.7h1M282.2 241.2h1M278.4 238.8h1M273.1 240.6h1M279.7 235.7h1M272.9 235.7h1M263.9 239.2h1M284.0 246.7h1M284.1 238.8h1M272.6 235.2h1M281.8 242.1h1M279.2 239.0h1M279.1 241.4h1M279.4 240.0h1M276.9 248.9h1M273.2 243.1h1M279.6 234.2h1M278.4 235.5h1M268.1 238.9h1M275.4 227.4h1M272.4 239.1h1M267.7 241.6h1M268.3 245.1h1M279.8 238.6h1M288.7 240.5h1M265.7 244.4h1M282.8 237.6h1M280.6 237.8h1M277.1 231.4h1M280.4 233.2h1M274.2 247.1h1M282.6 233.0h1M267.3 245.5h1M272.0 246.7h1M272.3 248.0h1M287.0 241.0h1M265.9 232.6h1M277.7 241.8h1M285.7 238.8h1M274.2 233.8h1M270.8 236.7h1M281.6 242.9h1M280.4 239.9h1M282.0 239.8h1M276.2 245.1h1M286.7 237.9h1M266.7 240.7h1M279.5 237.4h1M275.2 236.1h1M285.9 233.2h1M273.3 241.8h1M275.6 243.5h1M272.7 229.0h1M270.6 237.0h1M282.6 241.1h1M274.0 233.4h1M279.3 244.8h1M274.3 244.3h1" stroke="#484848" stroke-width="1.2" stroke-opacity="0.85" fill="none"/>
<path d="M292.0 243.2h1M261.0 232.6h1M275.6 226.2h1M290.0 231.1h1M287.6 225.3h1M263.3 237.6h1M258.4 251.9h1M276.5 225.4h1M260.6 234.8h1M266.1 250.3h1M295.6 238.4h1M271.2 225.9h1M269.6 250.3h1M281.6 225.4h1M287.2 245.7h1M283.5 224.6h1M271.8 226.6h1M262.7 234.2h1M288.3 245.9h1M289.0 247.2h1M262.5 240.3h1M267.5 229.4h1M277.8 253.6h1M289.1 251.1h1M284.7 228.1h1M265.1 233.2h1M290.5 243.1h1M260.9 236.9h1M279.5 225.8h1M290.4 243.0h1M290.1 234.9h1M261.9 251.2h1M267.9 228.8h1M257.3 230.3h1M289.4 232.8h1M258.5 229.2h1M265.1 245.1h1M270.5 253.6h1M297.5 240.0h1M292.1 232.7h1M278.4 225.3h1" stroke="#777" stroke-width="1.2" stroke-opacity="0.75" fill="none"/>
<ellipse cx="283" cy="221" rx="9.6" ry="7.8" transform="rotate(-25 283 221)" fill="#828282" fill-opacity="0.35" filter="url(#bl)" clip-path="url(#cp5)"/>
<path d="M280.7 215.3h1M285.2 210.9h1M281.1 214.7h1M289.2 220.7h1M292.9 218.2h1M276.1 226.6h1M279.4 225.5h1M288.9 218.3h1M294.7 216.7h1M287.1 218.3h1M271.9 224.7h1M283.8 213.5h1M273.3 218.1h1M293.5 220.5h1M282.9 211.9h1M271.2 222.4h1M291.5 226.6h1M288.9 225.2h1M283.2 219.5h1M276.6 221.6h1M282.3 210.4h1M280.0 223.5h1M277.1 218.9h1M287.8 212.2h1M280.7 227.7h1M273.1 227.2h1M294.6 220.5h1M284.2 221.6h1M280.4 221.1h1M277.9 227.2h1M274.0 229.4h1M281.0 212.8h1M280.3 224.3h1M285.0 220.3h1M275.4 223.0h1M276.0 230.7h1M278.7 216.7h1M285.5 213.3h1M272.2 221.3h1M286.3 215.3h1M283.9 220.8h1M281.1 229.2h1M284.7 227.5h1M272.8 225.8h1M281.5 229.8h1M281.9 221.4h1M285.5 224.4h1M271.1 220.0h1M277.9 220.1h1M276.8 227.5h1M282.7 227.8h1M273.0 220.5h1M276.8 216.9h1M286.0 219.5h1M286.9 222.2h1M281.0 221.0h1M285.4 225.0h1M286.9 217.8h1M293.4 220.2h1M291.4 216.9h1M273.9 227.4h1M286.6 211.0h1M278.0 214.0h1M291.2 220.6h1M291.6 216.9h1M273.0 222.0h1M284.6 222.9h1M276.7 227.3h1M291.5 220.6h1M278.0 229.8h1M285.5 210.2h1M277.3 227.6h1M284.8 214.4h1M278.9 220.8h1M295.0 219.4h1M280.6 221.6h1M286.0 219.9h1M275.6 224.8h1M290.7 224.0h1M279.1 227.0h1M294.2 217.2h1M273.5 217.4h1M290.2 219.8h1M284.4 219.2h1M287.2 219.8h1M285.6 223.3h1M282.3 218.0h1M284.9 222.4h1M271.9 224.3h1M282.3 221.5h1M293.5 215.0h1M281.4 219.5h1M273.6 227.0h1M280.9 219.1h1M283.3 214.9h1M284.3 222.7h1M286.9 227.8h1M278.4 225.1h1M289.2 216.8h1M273.8 220.7h1M285.7 218.4h1M289.4 217.3h1M288.7 215.8h1M277.4 221.6h1M283.1 217.4h1M276.1 228.8h1M282.9 222.2h1M275.8 220.4h1M284.1 214.6h1M281.4 230.1h1M287.2 228.5h1M277.7 216.0h1M273.2 225.6h1M284.7 217.8h1M284.5 229.3h1M280.5 212.4h1M287.5 227.1h1M280.9 221.5h1M280.5 212.5h1M286.7 220.7h1M287.8 217.6h1M287.3 220.4h1M293.8 220.0h1M282.8 215.3h1M274.2 220.0h1M274.5 217.6h1M286.8 218.5h1M282.3 217.9h1M287.4 230.7h1M287.1 215.4h1M287.3 218.8h1M285.8 212.7h1M292.4 226.1h1M279.8 216.7h1M280.8 213.6h1M280.6 212.4h1M275.3 223.3h1M293.0 223.7h1M282.6 220.4h1M286.4 222.4h1M277.8 214.5h1M288.2 223.2h1M283.9 226.2h1M290.0 216.9h1M283.5 217.3h1M274.3 220.6h1M282.2 217.4h1M279.6 224.6h1M276.2 227.4h1M284.9 219.6h1M286.6 215.1h1M276.7 215.1h1M289.6 218.5h1M280.9 218.0h1M294.2 221.4h1M293.4 223.3h1M280.3 219.5h1M283.0 226.2h1M276.4 225.9h1M282.6 220.0h1M286.4 229.1h1M285.4 225.0h1M276.2 217.2h1M273.8 218.4h1M276.3 225.0h1M285.6 222.0h1M282.2 214.6h1M282.8 216.3h1M281.5 217.6h1M283.3 217.9h1M288.3 224.9h1M291.5 218.4h1M285.5 225.6h1M276.5 220.6h1M284.5 214.1h1M285.7 224.8h1M285.5 219.4h1M279.4 219.8h1M275.4 223.1h1M281.0 224.0h1M290.3 223.1h1M283.8 221.7h1M274.5 228.6h1M287.0 220.2h1M291.3 220.6h1M284.3 224.5h1M288.6 216.4h1M287.6 219.3h1M291.5 217.9h1M284.4 220.8h1M280.5 223.8h1M285.3 226.6h1M280.1 226.1h1M293.5 223.8h1M289.9 216.6h1M288.4 226.7h1M287.5 221.5h1M276.0 213.6h1M282.8 221.8h1M293.2 219.9h1M283.6 223.1h1M285.3 219.7h1M283.7 222.3h1M279.9 217.5h1M278.1 220.8h1M287.2 215.1h1M287.5 216.6h1M281.5 219.3h1M289.0 213.2h1M287.9 215.6h1M289.7 229.2h1M283.9 219.3h1M286.3 223.7h1M277.7 222.7h1M284.3 215.6h1M271.6 224.3h1M282.4 218.6h1M276.5 231.0h1M277.9 221.0h1M293.9 223.4h1M285.6 219.3h1M279.2 225.9h1M276.9 223.5h1M287.8 212.2h1M291.0 222.3h1M276.8 215.6h1M281.3 219.1h1M278.6 227.5h1M289.1 221.8h1M286.2 214.2h1M286.8 217.7h1M288.9 219.2h1M273.1 217.5h1M285.1 228.0h1M282.1 220.8h1M283.5 218.0h1M289.7 214.0h1M283.7 226.2h1M291.4 226.9h1M286.3 222.7h1M279.9 219.9h1M291.6 214.4h1M279.0 224.2h1M287.6 218.4h1M280.9 221.0h1M279.1 213.5h1M273.4 221.1h1M279.4 226.0h1M293.1 216.4h1M271.0 222.0h1M286.0 225.0h1M274.5 224.8h1M280.2 221.4h1M281.1 221.9h1M290.3 214.8h1M284.2 223.3h1M281.4 215.1h1M278.1 225.9h1M286.6 219.3h1M289.3 220.7h1M275.5 225.1h1M281.8 225.2h1M272.5 221.3h1M289.3 227.0h1M283.6 221.6h1M288.6 214.9h1M283.6 222.6h1M275.2 220.7h1M281.9 220.5h1M276.5 226.1h1M280.2 223.7h1M281.9 220.1h1M279.4 223.5h1M276.7 223.9h1M282.7 230.0h1M279.6 215.5h1M284.5 223.7h1M283.6 225.4h1M275.1 220.7h1M287.4 219.4h1M279.8 216.7h1M282.6 227.2h1M285.3 223.5h1M286.4 223.9h1M284.8 214.0h1M280.7 216.5h1M293.8 223.6h1M282.4 228.0h1M288.1 218.1h1M288.1 228.4h1M289.2 217.9h1M282.9 228.2h1M277.8 221.8h1M281.5 221.6h1M285.0 221.1h1M283.1 216.9h1M281.0 215.7h1M283.4 220.4h1M284.7 219.6h1M279.6 214.8h1M283.3 214.7h1M277.2 218.4h1M278.2 222.9h1M290.3 220.1h1M278.0 224.6h1M276.0 221.6h1M289.8 218.1h1M281.0 230.3h1M283.9 219.8h1M278.9 220.9h1M278.6 221.6h1M278.0 225.4h1M281.3 212.5h1M288.0 219.7h1M278.0 224.3h1M287.4 221.0h1M281.2 221.6h1M277.7 217.7h1M280.0 224.0h1M280.4 219.6h1M283.1 217.6h1M275.2 220.7h1M285.4 222.9h1M287.3 221.9h1M290.3 215.9h1M295.3 222.2h1M289.9 221.4h1M281.0 229.9h1M284.5 222.2h1M281.8 220.9h1M288.5 216.7h1M283.6 219.6h1M285.8 219.9h1M287.7 224.7h1M275.4 221.7h1M281.8 223.9h1M274.5 222.0h1M288.0 217.2h1M280.9 228.6h1M286.5 222.4h1M284.9 220.7h1M287.4 211.4h1M279.9 216.3h1M287.0 215.4h1" stroke="#484848" stroke-width="1.2" stroke-opacity="0.85" fill="none"/>
<path d="M269.7 224.9h1M278.5 236.4h1M294.7 234.6h1M292.8 233.0h1M270.5 225.9h1M298.2 228.7h1M274.3 213.6h1M294.7 225.8h1M280.9 209.0h1M274.9 212.6h1M277.0 232.4h1M278.1 210.7h1M277.1 233.3h1M294.9 214.1h1M297.2 219.7h1M300.2 211.3h1M289.0 194.9h1M289.8 208.7h1M273.8 201.6h1M287.3 208.6h1M278.8 179.0h1M281.4 208.6h1M285.3 208.8h1M280.0 206.0h1M275.8 195.8h1M286.1 200.9h1M273.4 201.5h1M277.7 208.6h1M284.3 195.7h1M283.8 203.2h1M282.4 204.1h1M284.0 209.2h1M283.9 200.4h1M281.6 198.5h1M278.0 195.8h1M286.9 214.3h1M275.1 187.8h1M288.2 200.8h1M291.4 184.0h1M292.6 212.6h1M273.3 205.3h1M285.8 204.1h1M288.8 204.6h1M284.3 209.3h1M282.5 214.5h1M283.4 201.9h1M289.1 192.2h1M268.7 200.7h1M279.5 207.7h1M276.4 184.5h1M285.5 202.1h1M285.5 198.2h1M288.3 212.5h1M280.2 173.1h1M285.8 199.6h1M280.9 210.7h1M277.2 204.5h1M283.8 203.9h1M284.2 209.0h1M277.8 211.9h1M273.0 204.8h1" stroke="#777" stroke-width="1.2" stroke-opacity="0.75" fill="none"/>
<line x1="262.9" y1="171" x2="262.9" y2="257.3" stroke="#222" stroke-width="1.5"/>
<line x1="245" y1="227.9" x2="353.1" y2="227.9" stroke="#222" stroke-width="1.6"/>
<line x1="244.10" y1="171" x2="354.10" y2="171" stroke="#1a1a1a" stroke-width="1.6"/>
<line x1="353.1" y1="171" x2="353.1" y2="257.3" stroke="#1a1a1a" stroke-width="2.0"/>
<line x1="244.10" y1="257.3" x2="354.10" y2="257.3" stroke="#1a1a1a" stroke-width="1.2"/>
<line x1="245" y1="171" x2="245" y2="257.3" stroke="#1a1a1a" stroke-width="1.8"/>
<path d="M245.0 257.3v3.8M253.1 257.3v2.8M257.9 257.3v2.8M261.3 257.3v2.8M263.9 257.3v2.8M266.0 257.3v2.8M267.8 257.3v2.8M269.4 257.3v2.8M270.8 257.3v2.8M272.0 257.3v3.8M280.2 257.3v2.8M284.9 257.3v2.8M288.3 257.3v2.8M290.9 257.3v2.8M293.1 257.3v2.8M294.9 257.3v2.8M296.4 257.3v2.8M297.8 257.3v2.8M299.1 257.3v3.8M307.2 257.3v2.8M311.9 257.3v2.8M315.3 257.3v2.8M317.9 257.3v2.8M320.1 257.3v2.8M321.9 257.3v2.8M323.5 257.3v2.8M324.8 257.3v2.8M326.1 257.3v3.8M334.2 257.3v2.8M339.0 257.3v2.8M342.3 257.3v2.8M345.0 257.3v2.8M347.1 257.3v2.8M348.9 257.3v2.8M350.5 257.3v2.8M351.9 257.3v2.8M353.1 257.3v3.8" stroke="#111" stroke-width="1.2" fill="none"/>
<path d="M245 257.3h-3.0M245 250.8h-2.0M245 247.0h-2.0M245 244.3h-2.0M245 242.2h-2.0M245 240.5h-2.0M245 239.1h-2.0M245 237.8h-2.0M245 236.7h-2.0M245 235.7h-3.0M245 229.2h-2.0M245 225.4h-2.0M245 222.7h-2.0M245 220.6h-2.0M245 218.9h-2.0M245 217.5h-2.0M245 216.2h-2.0M245 215.1h-2.0M245 214.2h-3.0M245 207.7h-2.0M245 203.9h-2.0M245 201.2h-2.0M245 199.1h-2.0M245 197.4h-2.0M245 195.9h-2.0M245 194.7h-2.0M245 193.6h-2.0M245 192.6h-3.0M245 186.1h-2.0M245 182.3h-2.0M245 179.6h-2.0M245 177.5h-2.0M245 175.8h-2.0M245 174.3h-2.0M245 173.1h-2.0M245 172.0h-2.0M245 171h-3.0" stroke="#111" stroke-width="1.5" fill="none"/>
<text x="271.2" y="161.0" font-size="10.2" font-weight="bold" text-anchor="start" fill="#000" stroke="#000" stroke-width="0.3" textLength="31.3" lengthAdjust="spacingAndGlyphs" >+ESH4</text>
<text x="305.8" y="161.0" font-size="10.2" font-weight="bold" text-anchor="start" fill="#000" stroke="#000" stroke-width="0.3" textLength="19.7" lengthAdjust="spacingAndGlyphs" >(1X)</text>
<text x="313.9" y="188.8" font-size="13.5" font-weight="bold" text-anchor="start" fill="#000" textLength="28.1" lengthAdjust="spacingAndGlyphs" stroke="#000" stroke-width="0.35">21%</text>
<text x="223.4" y="177.9" font-size="10.6" font-weight="normal" fill="#1a1a1a" stroke="#1a1a1a" stroke-width="0.3">10<tspan dy="-4.2" font-size="6.7">4</tspan></text>
<text x="223.4" y="198.0" font-size="10.6" font-weight="normal" fill="#1a1a1a" stroke="#1a1a1a" stroke-width="0.3">10<tspan dy="-4.2" font-size="6.7">3</tspan></text>
<text x="223.4" y="218.5" font-size="10.6" font-weight="normal" fill="#1a1a1a" stroke="#1a1a1a" stroke-width="0.3">10<tspan dy="-4.2" font-size="6.7">2</tspan></text>
<text x="223.4" y="239.7" font-size="10.6" font-weight="normal" fill="#1a1a1a" stroke="#1a1a1a" stroke-width="0.3">10<tspan dy="-4.2" font-size="6.7">1</tspan></text>
<text x="223.4" y="260.9" font-size="10.6" font-weight="normal" fill="#1a1a1a" stroke="#1a1a1a" stroke-width="0.3">10<tspan dy="-4.2" font-size="6.7">0</tspan></text>
<text x="243.3" y="273.2" font-size="10.6" font-weight="normal" fill="#1a1a1a" stroke="#1a1a1a" stroke-width="0.3">10<tspan dy="-4.2" font-size="6.7">0</tspan></text>
<text x="267.6" y="273.2" font-size="10.6" font-weight="normal" fill="#1a1a1a" stroke="#1a1a1a" stroke-width="0.3">10<tspan dy="-4.2" font-size="6.7">1</tspan></text>
<text x="292.0" y="273.2" font-size="10.6" font-weight="normal" fill="#1a1a1a" stroke="#1a1a1a" stroke-width="0.3">10<tspan dy="-4.2" font-size="6.7">2</tspan></text>
<text x="316.4" y="273.2" font-size="10.6" font-weight="normal" fill="#1a1a1a" stroke="#1a1a1a" stroke-width="0.3">10<tspan dy="-4.2" font-size="6.7">3</tspan></text>
<text x="340.2" y="273.2" font-size="10.6" font-weight="normal" fill="#1a1a1a" stroke="#1a1a1a" stroke-width="0.3">10<tspan dy="-4.2" font-size="6.7">4</tspan></text>
</g>
<g><clipPath id="cp6"><rect x="403.6" y="169.4" width="104.9" height="86.1"/></clipPath>
<ellipse cx="436" cy="235.3" rx="9.3" ry="8.4" transform="rotate(-15 436 235.3)" fill="#828282" fill-opacity="0.85" filter="url(#bl)" clip-path="url(#cp6)"/>
<path d="M431.4 229.4h1M432.3 225.8h1M430.5 235.7h1M446.0 238.8h1M443.3 240.0h1M437.0 229.7h1M434.1 225.5h1M446.4 231.9h1M437.5 230.6h1M431.4 242.8h1M428.5 237.9h1M430.2 241.0h1M439.2 231.4h1M443.4 232.3h1M433.7 231.8h1M431.3 225.1h1M439.9 236.5h1M438.7 237.9h1M434.7 238.0h1M431.6 230.3h1M426.1 230.4h1M435.4 236.7h1M433.8 236.8h1M437.4 229.8h1M431.3 229.8h1M446.6 233.5h1M425.8 241.2h1M438.6 226.6h1M445.9 234.3h1M430.2 232.7h1M439.2 234.6h1M439.5 237.6h1M429.5 239.5h1M442.1 231.8h1M428.2 242.1h1M436.5 239.1h1M440.7 231.7h1M429.1 233.9h1M433.5 244.7h1M435.7 235.5h1M429.9 229.9h1M437.0 235.7h1M436.5 241.7h1M427.1 227.8h1M433.9 231.8h1M428.5 240.0h1M438.1 228.6h1M432.4 226.4h1M445.8 228.7h1M431.9 236.1h1M429.9 228.5h1M433.2 236.5h1M437.0 233.3h1M427.5 239.4h1M443.5 226.6h1M426.3 241.7h1M435.3 231.7h1M429.6 240.3h1M435.1 236.0h1M437.2 230.0h1M438.5 240.9h1M434.2 240.9h1M430.4 240.7h1M443.1 230.9h1M426.6 234.3h1M433.0 235.0h1M442.5 230.7h1M433.8 245.0h1M436.4 233.7h1M437.5 231.9h1M438.8 242.7h1M438.7 238.3h1M442.5 236.4h1M436.0 238.1h1M444.4 239.9h1M443.2 229.8h1M434.1 245.8h1M438.2 238.9h1M439.4 242.1h1M437.2 234.0h1M437.1 232.5h1M429.6 239.1h1M435.8 242.1h1M429.0 239.0h1M441.6 230.9h1M432.2 237.2h1M436.0 232.3h1M440.4 228.9h1M439.7 236.0h1M433.5 242.3h1M430.0 235.9h1M436.3 230.9h1M438.2 225.4h1M439.7 243.1h1M431.8 232.2h1M423.6 233.5h1M443.0 233.6h1M431.0 229.3h1M438.1 236.1h1M436.6 246.6h1M433.5 242.4h1M447.8 233.3h1M436.0 232.6h1M436.6 243.5h1M434.1 233.9h1M438.4 239.7h1M433.8 242.7h1M436.2 242.8h1M441.6 242.4h1M437.6 224.4h1M443.2 227.6h1M432.4 236.0h1M433.7 231.4h1M433.5 237.1h1M436.1 230.9h1M438.8 242.1h1M433.7 236.3h1M431.3 244.6h1M431.5 241.0h1M447.8 231.0h1M427.2 234.8h1M436.1 235.9h1M438.7 233.8h1M430.7 236.8h1M428.1 226.9h1M427.3 235.8h1M433.9 236.9h1M436.0 235.7h1M435.9 245.4h1M430.9 230.0h1M432.9 243.2h1M438.5 230.5h1M445.8 238.1h1M437.4 228.3h1M432.4 234.6h1M439.0 234.0h1M432.2 242.4h1M433.3 239.2h1M430.0 232.1h1M437.6 238.1h1M426.6 235.0h1M434.9 225.6h1M441.2 237.3h1M432.3 231.1h1M444.4 238.0h1M432.1 238.5h1M446.8 237.2h1M434.0 230.8h1M443.3 231.4h1M434.0 234.8h1M438.9 234.3h1M432.7 237.6h1M424.9 241.6h1M439.9 232.0h1M434.0 230.2h1M439.3 237.8h1M431.2 235.7h1M437.4 231.0h1M446.0 234.2h1M434.2 239.8h1M431.1 232.0h1M429.3 237.8h1M441.7 239.5h1M431.4 232.5h1M430.9 238.5h1M433.3 227.5h1M437.5 236.5h1M444.0 243.3h1M429.7 243.0h1M438.2 235.8h1M426.5 231.5h1M437.5 226.9h1M432.7 228.0h1M440.8 236.2h1M430.8 231.3h1M444.0 239.6h1M431.8 232.5h1M435.1 239.2h1M434.5 230.4h1M434.1 225.7h1M432.4 235.4h1M439.7 239.0h1M443.4 238.2h1M437.7 234.3h1M432.0 241.5h1M432.8 224.2h1M428.1 239.3h1M438.2 240.6h1M433.3 234.0h1M445.4 228.6h1M438.6 228.4h1M434.3 237.2h1M426.5 234.7h1M432.9 235.8h1M432.1 234.9h1M442.3 243.5h1M433.5 239.9h1M432.3 234.0h1M437.8 229.6h1M431.1 235.5h1M431.5 239.6h1M446.1 239.7h1M433.5 230.0h1M437.8 237.9h1M425.1 238.5h1M432.7 242.2h1M438.4 234.7h1M439.0 240.1h1M438.2 228.4h1M446.8 236.5h1M437.5 226.9h1M432.4 233.1h1M431.0 236.0h1M439.1 243.1h1M443.9 235.4h1M436.3 236.0h1M433.5 239.3h1M434.6 231.3h1M433.8 232.1h1M441.8 240.9h1M428.8 231.0h1M438.5 240.1h1M442.9 233.4h1M439.5 237.5h1M441.3 230.2h1M440.0 238.5h1M445.2 236.1h1M436.1 228.4h1M434.4 228.5h1M429.4 245.6h1M438.5 244.3h1M428.4 237.4h1M431.2 236.2h1M441.5 229.5h1M447.2 237.5h1M427.9 230.6h1M437.8 239.0h1M437.9 241.3h1M428.9 229.5h1M430.8 238.9h1M433.4 227.6h1M433.5 235.9h1M434.7 232.4h1M426.9 238.0h1M435.9 228.5h1M437.5 237.5h1M439.2 240.0h1M437.1 227.9h1M442.5 233.2h1M440.8 229.3h1M435.8 239.0h1M435.2 239.0h1M431.4 236.1h1M435.8 241.2h1M432.3 237.7h1M435.7 238.6h1M427.7 241.0h1M434.5 229.6h1M438.0 240.4h1M439.7 225.9h1M434.0 234.8h1M438.8 228.0h1M436.3 230.3h1M428.0 229.0h1M442.5 239.5h1M437.8 235.6h1M437.0 238.6h1M433.1 235.1h1M436.4 236.4h1M439.2 229.7h1M441.1 238.2h1M443.4 238.4h1M429.4 229.9h1M441.3 232.5h1M431.4 237.8h1M435.8 229.4h1M435.7 229.3h1M431.0 232.4h1M441.7 240.9h1M437.3 236.6h1M432.3 236.0h1M436.1 234.2h1M436.4 223.6h1M438.9 226.9h1M446.2 240.1h1M438.5 234.7h1M430.3 237.8h1M440.4 234.3h1M428.9 241.3h1M447.2 235.3h1M441.1 233.3h1M433.9 237.8h1M435.8 230.8h1M435.8 239.9h1M445.3 236.8h1M440.8 230.6h1M437.8 244.7h1M439.5 241.0h1M431.4 232.7h1M432.4 236.9h1M430.0 238.4h1M436.0 240.3h1M433.3 234.2h1M425.6 235.7h1M446.2 240.4h1M442.7 231.7h1M441.7 245.3h1M431.4 235.1h1M439.2 233.4h1M435.5 246.0h1M434.3 238.3h1M434.0 240.7h1M445.7 233.8h1M442.6 235.4h1M439.1 237.8h1M436.5 233.6h1M425.2 236.3h1M441.1 236.5h1M443.9 233.5h1M435.0 231.7h1M431.1 239.0h1M433.7 236.4h1M427.8 243.2h1M437.3 238.4h1M442.1 238.6h1M436.3 233.0h1M433.6 239.1h1M443.9 228.4h1M433.0 232.9h1M434.5 233.2h1M444.4 236.5h1M440.7 230.8h1M426.0 236.6h1M440.2 241.0h1M441.0 243.3h1M428.8 237.9h1M430.7 230.6h1M436.1 229.7h1M431.8 233.8h1M433.9 244.4h1M441.0 233.0h1M433.0 233.8h1M437.1 239.0h1M440.9 244.4h1M447.6 236.3h1M429.4 230.8h1M444.0 228.4h1M441.2 225.8h1M434.9 234.2h1M432.7 242.7h1M445.8 228.4h1M429.2 228.4h1M442.8 232.7h1M442.4 237.7h1M440.1 224.3h1M434.7 240.2h1M430.3 235.8h1M433.2 233.0h1M439.4 228.8h1M433.8 237.3h1M442.9 234.1h1M427.4 232.0h1M425.6 236.8h1M445.2 235.0h1M431.8 242.0h1M427.8 240.1h1M432.2 243.2h1M438.1 236.8h1M429.7 238.6h1M426.6 229.7h1M428.4 244.7h1M435.4 226.4h1M432.7 234.4h1M429.9 229.3h1M445.1 242.2h1M434.2 234.4h1M438.7 233.3h1M435.6 230.1h1M427.5 232.4h1M435.1 227.5h1M431.7 230.9h1M436.5 233.0h1M436.0 225.3h1M430.8 225.4h1M439.0 238.6h1M439.0 238.2h1M430.1 241.2h1M432.0 231.1h1M432.6 233.3h1M441.4 238.3h1M435.1 241.1h1M442.6 234.6h1M440.0 234.8h1M436.2 237.0h1M441.4 244.8h1M439.1 237.3h1M432.9 236.0h1M443.8 233.6h1M442.2 235.7h1M435.7 237.6h1M435.5 231.8h1M439.3 237.0h1M444.0 233.4h1M431.0 237.4h1M426.7 237.7h1M434.2 232.7h1M439.1 237.5h1M434.2 234.8h1M437.3 237.9h1M445.4 231.7h1M437.3 227.3h1M440.6 231.9h1M431.1 241.3h1M434.3 238.8h1M438.0 233.8h1M431.9 237.4h1M435.4 228.9h1M432.5 236.3h1M439.9 229.4h1M435.0 242.5h1M430.7 239.8h1M439.5 228.7h1M445.1 234.0h1M431.3 235.5h1M433.0 242.4h1M426.2 232.7h1M435.2 235.8h1M438.3 238.3h1M425.9 234.2h1M439.6 237.7h1M442.0 240.0h1M435.4 240.8h1M432.8 230.8h1M434.8 232.9h1M430.5 237.3h1M431.0 239.2h1M446.4 233.3h1M433.7 233.2h1M436.0 239.0h1M441.7 238.6h1M440.2 230.5h1M434.7 235.1h1M444.4 236.0h1M437.7 233.2h1M428.8 233.4h1M443.7 234.5h1M435.8 235.4h1M444.3 242.8h1M441.0 232.8h1M429.1 239.2h1M436.7 243.1h1M430.1 236.3h1M435.3 246.5h1M424.3 237.4h1M427.5 235.2h1M436.4 237.4h1M435.3 235.7h1M437.1 233.6h1M437.9 241.7h1M426.9 240.7h1M446.1 240.8h1M429.2 239.3h1M434.8 232.0h1M433.4 241.2h1M429.5 244.7h1M426.1 242.6h1M433.1 237.2h1M442.8 244.8h1M432.8 244.1h1M429.5 227.6h1M444.1 234.9h1M441.4 236.6h1M443.4 233.1h1M431.4 231.5h1M441.3 240.9h1M445.8 241.6h1M438.0 233.4h1M432.8 235.0h1M438.9 245.9h1M431.3 241.0h1M448.1 235.8h1M429.7 243.1h1M444.4 228.9h1M431.0 242.6h1M448.5 237.3h1M435.1 231.8h1M437.4 231.9h1M426.4 234.9h1M430.5 242.7h1M436.3 236.8h1M434.8 228.4h1M432.2 235.6h1M443.0 234.6h1M443.5 239.5h1M434.6 239.5h1M435.8 238.8h1M430.6 235.8h1M432.8 224.2h1M445.2 239.0h1M436.4 238.1h1M440.0 236.8h1M428.3 235.7h1M436.1 236.9h1M433.9 244.5h1M427.3 238.7h1M440.1 242.9h1M436.8 242.5h1M437.9 244.1h1M439.4 232.2h1M437.2 237.5h1M447.3 231.2h1M431.0 243.4h1M440.3 231.8h1M436.0 231.6h1M439.0 241.3h1M429.5 233.3h1M436.4 237.1h1M444.4 226.0h1M435.9 237.5h1M443.2 235.3h1M431.6 235.7h1M433.6 230.4h1M441.0 226.6h1M433.4 239.9h1M437.4 237.2h1M432.2 240.8h1M432.9 234.2h1M436.2 246.5h1M430.1 238.3h1M438.8 245.3h1M437.9 234.1h1M438.6 230.6h1M437.3 231.7h1M440.8 237.9h1M437.9 234.1h1M437.8 238.9h1M443.1 239.0h1M437.5 232.6h1M448.4 233.9h1M430.1 236.7h1M440.2 227.6h1M434.3 227.6h1M438.1 238.8h1M433.7 239.6h1M432.8 242.5h1M438.9 244.2h1M442.7 227.6h1M439.6 227.1h1M445.2 238.6h1M436.1 238.2h1M438.2 235.6h1M425.2 235.6h1M433.9 243.6h1M438.1 238.1h1M438.4 234.4h1M430.9 233.1h1M438.2 228.6h1M431.7 239.9h1M445.9 239.1h1M427.5 230.3h1M440.4 229.0h1M444.7 226.5h1M438.0 240.2h1M437.5 235.2h1M430.9 239.6h1M433.8 231.2h1M436.4 232.8h1M433.0 231.7h1M426.0 232.3h1M426.3 231.9h1M443.6 240.0h1M438.0 228.8h1M438.6 237.4h1M426.9 242.2h1M436.9 237.0h1M435.9 242.4h1M438.9 241.6h1M434.3 230.9h1M442.5 231.0h1M431.1 237.3h1M439.4 233.8h1M440.7 232.6h1M441.9 231.3h1M440.9 235.4h1M434.6 233.9h1M429.2 233.4h1M432.3 234.5h1M436.0 239.6h1M437.1 241.1h1M444.4 226.7h1M431.4 236.7h1M432.7 235.4h1M447.4 232.4h1M436.3 239.3h1M428.6 233.4h1M431.2 225.5h1M432.4 245.9h1M437.1 237.0h1M436.2 239.9h1M442.0 233.8h1M438.6 241.9h1M427.4 238.2h1M430.3 239.0h1M434.3 232.1h1M432.6 230.7h1M433.4 242.7h1M434.4 226.2h1M432.0 227.4h1M435.6 241.2h1M427.1 240.0h1M440.6 239.7h1M428.1 234.4h1M435.5 232.1h1M441.1 224.7h1M434.0 235.9h1M434.9 231.1h1M429.2 236.4h1M428.2 231.4h1M427.8 226.7h1M443.8 234.3h1M434.2 240.5h1M433.9 238.1h1M432.6 235.3h1M429.6 240.1h1M445.1 231.3h1M430.8 228.0h1M437.5 240.1h1M427.3 242.0h1M430.6 233.0h1M427.4 237.1h1M438.6 240.2h1M439.5 225.9h1M441.7 237.0h1M445.8 227.2h1M445.5 238.0h1M429.5 232.2h1M436.9 234.6h1M425.5 235.0h1M426.2 238.8h1M436.3 233.0h1M426.4 236.8h1M433.1 233.0h1M433.1 231.6h1M440.1 230.5h1M436.3 235.6h1M430.1 232.6h1M448.4 235.9h1M436.6 236.1h1M440.1 236.2h1M443.3 228.2h1M433.0 232.8h1M433.9 239.6h1M443.9 239.8h1M434.4 242.0h1M439.1 241.7h1M426.8 232.3h1M443.7 231.6h1M430.9 245.8h1M439.6 235.8h1M435.8 234.3h1M431.7 230.2h1M443.5 236.9h1M441.2 237.1h1M436.2 233.6h1M439.6 232.5h1M425.5 229.6h1M434.2 233.2h1M440.8 231.2h1M440.1 234.5h1M432.7 242.1h1M432.7 236.9h1M446.2 238.6h1M428.1 229.8h1M432.6 234.1h1M440.6 235.0h1M424.8 235.7h1M445.7 236.9h1M433.0 245.2h1M435.0 235.6h1M435.9 231.9h1M435.2 231.5h1M431.8 236.5h1M443.7 233.3h1M430.4 242.1h1M442.8 242.3h1M428.3 228.8h1M440.4 239.5h1M432.3 231.6h1M442.0 234.1h1M439.1 233.8h1M435.3 241.6h1M439.5 243.6h1M432.9 243.2h1M436.2 234.4h1M423.9 234.8h1M443.9 239.4h1M442.7 240.0h1M428.7 232.9h1M435.4 231.0h1M437.2 230.1h1M433.1 234.2h1M429.8 226.5h1M427.2 238.8h1M430.3 243.3h1M427.5 238.7h1M441.3 225.7h1M431.4 235.9h1M438.3 235.4h1M426.7 232.3h1M435.7 235.5h1M432.2 238.5h1M427.7 237.5h1M440.4 231.1h1M436.1 230.3h1M438.0 243.9h1M435.5 235.2h1M437.7 238.2h1M442.8 239.5h1M440.0 236.6h1M426.9 236.1h1M432.6 234.0h1M436.7 240.1h1M435.4 243.8h1M433.5 234.5h1M429.3 227.8h1M441.3 234.4h1M430.9 235.3h1M437.0 230.3h1M437.2 230.5h1M430.9 239.0h1M437.0 232.4h1M428.6 236.5h1M442.2 239.3h1M429.3 237.8h1M444.7 241.1h1M443.5 240.7h1M433.1 230.5h1M434.6 233.9h1M442.8 235.5h1M428.9 231.2h1M434.3 229.9h1M435.7 239.6h1M446.2 227.6h1M425.2 229.7h1M436.5 229.0h1M445.2 236.8h1M429.6 235.4h1M438.8 237.3h1M431.8 238.2h1M431.0 229.7h1M432.0 224.9h1M431.5 235.3h1M434.5 241.3h1M443.6 240.4h1M441.2 238.7h1M432.5 233.0h1M432.6 238.6h1M434.2 242.0h1M431.9 243.8h1M438.2 235.7h1M432.3 233.7h1M429.0 235.6h1M430.7 239.3h1M433.8 238.7h1M429.5 236.2h1M435.0 241.9h1M436.4 234.2h1M439.7 235.1h1M424.6 236.2h1M435.7 228.0h1M442.2 225.7h1M439.0 246.5h1M444.0 230.0h1M430.1 234.6h1M432.1 238.4h1M433.8 238.7h1M435.3 242.5h1M426.2 235.3h1M430.7 229.3h1M443.8 240.7h1M434.2 233.1h1M444.5 233.4h1M432.9 237.4h1M438.0 232.4h1M440.9 243.5h1M435.7 234.4h1M430.6 241.2h1M445.2 242.0h1M442.2 231.3h1M434.7 224.9h1M441.9 233.3h1M432.3 243.3h1M445.1 229.8h1M426.8 237.6h1M431.3 230.5h1M433.2 227.6h1M442.8 240.8h1M429.8 231.7h1M439.6 239.4h1M433.8 229.2h1M433.2 243.5h1M438.5 228.7h1M438.7 231.2h1M435.5 229.3h1M444.8 234.0h1M444.2 231.5h1M442.2 236.3h1M429.5 227.9h1M431.7 234.2h1M432.7 228.1h1M434.4 230.1h1M431.1 245.1h1M430.2 237.3h1M432.8 234.8h1M437.5 233.8h1M440.7 240.6h1M440.5 234.0h1M438.1 234.6h1M434.7 243.0h1M439.7 235.1h1M435.6 225.9h1M439.9 235.2h1M437.5 232.3h1M428.5 239.4h1M430.6 232.3h1M432.0 241.2h1M433.0 229.7h1M433.8 228.2h1M432.2 230.4h1M434.3 239.3h1M445.0 235.3h1M426.3 233.1h1M446.1 236.4h1M432.3 228.5h1M440.6 239.8h1M439.8 240.6h1M431.4 238.4h1M424.2 238.3h1M433.2 234.5h1M437.1 228.5h1M433.4 229.4h1M435.5 245.2h1M433.5 242.7h1M439.2 228.4h1M443.2 240.8h1M447.0 234.3h1M445.1 237.7h1M440.6 234.8h1M432.9 236.3h1M429.6 245.6h1M437.1 234.6h1M431.6 241.7h1M439.7 233.1h1M434.9 225.6h1M437.1 227.3h1M444.1 241.8h1M434.0 227.0h1M433.7 231.9h1M429.0 234.4h1M427.1 241.2h1M443.6 236.2h1M443.4 233.4h1M438.5 241.1h1M435.0 243.1h1M437.0 239.4h1M436.5 236.3h1M435.1 235.9h1" stroke="#484848" stroke-width="1.2" stroke-opacity="0.85" fill="none"/>
<path d="M449.9 230.2h1M420.7 243.1h1M417.3 235.4h1M421.8 246.8h1M447.8 241.6h1M455.7 233.8h1M432.4 223.3h1M445.5 243.2h1M423.0 240.6h1M422.8 230.3h1M449.2 243.1h1M418.4 230.3h1M437.2 221.5h1M421.3 237.7h1M422.8 231.7h1M425.4 222.0h1M433.1 248.2h1M441.0 246.9h1M443.1 222.6h1M443.3 224.9h1M423.6 241.2h1M453.8 235.4h1M448.8 231.7h1M427.0 227.2h1M449.6 229.4h1M443.1 221.8h1M424.6 227.4h1M423.3 224.7h1M423.3 229.2h1M428.6 248.6h1M422.6 233.9h1M444.6 243.9h1M450.0 232.5h1" stroke="#777" stroke-width="1.2" stroke-opacity="0.75" fill="none"/>
<ellipse cx="441.5" cy="218.5" rx="10.2" ry="7.2" transform="rotate(-30 441.5 218.5)" fill="#828282" fill-opacity="0.3" filter="url(#bl)" clip-path="url(#cp6)"/>
<path d="M433.9 222.7h1M445.4 220.8h1M434.3 215.0h1M435.8 221.4h1M435.9 218.9h1M442.7 211.0h1M450.8 218.4h1M439.6 223.4h1M438.0 219.3h1M442.8 222.3h1M433.5 212.0h1M436.9 227.5h1M440.0 221.9h1M442.3 222.2h1M438.2 218.8h1M445.9 214.0h1M447.1 214.8h1M445.2 219.4h1M439.6 218.0h1M439.9 211.9h1M440.8 219.8h1M435.2 221.7h1M438.2 218.6h1M438.7 218.5h1M441.4 226.0h1M439.1 224.0h1M447.6 216.4h1M440.9 213.7h1M445.2 218.1h1M434.6 221.2h1M450.6 219.5h1M444.2 220.2h1M436.5 227.1h1M440.2 215.5h1M448.3 220.6h1M434.3 219.2h1M439.5 215.5h1M444.7 213.2h1M439.9 220.7h1M439.5 221.5h1M438.5 218.2h1M439.2 219.8h1M439.0 216.0h1M429.9 223.0h1M443.3 224.2h1M443.0 216.8h1M444.0 212.0h1M437.6 217.2h1M438.9 225.8h1M445.9 214.3h1M429.7 221.8h1M448.5 225.6h1M435.6 223.3h1M445.1 208.4h1M439.4 225.9h1M450.2 214.5h1M434.7 214.5h1M445.5 217.8h1M448.1 216.7h1M444.9 212.2h1M445.6 222.5h1M436.2 212.2h1M446.4 210.7h1M433.7 217.2h1M436.8 221.4h1M440.2 209.4h1M436.3 220.3h1M435.3 227.3h1M445.6 212.9h1M443.9 209.3h1M450.9 210.1h1M436.0 224.1h1M437.3 221.9h1M437.6 219.7h1M434.0 217.0h1M438.9 223.2h1M436.6 227.8h1M441.8 218.8h1M437.9 220.6h1M447.7 221.6h1M432.8 220.8h1M437.6 221.0h1M443.6 218.2h1M445.8 215.0h1M443.3 213.3h1M438.7 223.8h1M447.0 216.2h1M453.5 215.4h1M446.5 212.5h1M447.9 217.5h1M442.4 217.3h1M444.1 220.3h1M440.6 220.8h1M450.0 223.1h1M446.0 218.3h1M435.8 224.5h1M451.9 211.1h1M449.7 216.1h1M440.6 216.2h1M438.3 226.8h1M434.9 228.4h1M442.1 218.0h1M444.3 214.0h1M445.1 215.2h1M440.1 209.5h1M437.9 221.2h1M438.1 220.6h1M444.1 217.2h1M438.9 212.8h1M450.4 218.3h1M444.3 211.1h1M437.0 210.7h1M442.3 228.1h1M437.2 220.5h1M440.3 216.6h1M444.9 218.4h1M439.9 222.6h1M439.3 214.6h1M443.5 219.1h1M436.1 218.5h1M433.0 222.7h1M449.6 219.7h1M452.8 221.1h1M442.5 219.1h1M447.0 212.7h1M441.2 213.7h1M434.9 223.6h1M446.7 225.0h1M440.0 212.3h1M434.8 221.4h1M443.9 225.8h1M442.2 223.3h1M446.6 211.8h1M439.3 215.0h1M442.8 216.4h1M437.1 211.5h1M446.5 220.2h1M434.1 220.9h1M449.9 217.1h1M437.3 211.0h1M452.5 215.5h1M446.1 208.6h1M435.9 220.3h1M442.2 217.2h1M429.6 225.5h1M445.5 216.3h1M441.1 215.8h1M441.6 218.3h1M439.4 210.0h1M435.0 220.0h1M440.1 221.4h1M444.1 221.2h1M437.6 221.2h1M440.0 216.3h1M435.0 218.6h1M447.9 208.7h1M434.0 215.7h1M441.5 217.0h1M446.1 216.4h1M442.5 217.9h1M439.8 223.4h1M453.0 213.9h1M439.8 226.8h1M440.8 217.1h1M447.0 212.7h1M436.6 228.1h1M447.6 218.0h1M435.1 220.3h1M445.9 218.1h1M443.0 215.0h1M445.4 217.8h1M446.0 216.0h1M437.8 218.1h1M444.0 217.4h1M443.2 210.3h1M435.4 221.5h1M431.6 221.8h1M440.6 212.7h1M435.3 218.3h1M440.8 218.1h1M440.8 210.4h1M438.4 218.4h1M446.5 210.1h1M441.5 215.8h1M435.0 215.3h1M451.5 213.5h1M432.9 228.6h1M442.0 212.2h1M436.8 224.2h1M440.3 219.0h1M442.7 207.7h1M442.1 218.1h1M446.1 219.5h1M441.7 218.5h1M435.7 228.5h1M435.4 211.2h1M444.3 227.3h1M437.7 218.1h1M436.2 218.3h1M438.1 211.2h1M434.4 221.2h1M434.6 222.4h1M451.0 215.7h1M444.7 220.6h1M432.4 224.3h1M441.8 227.8h1M443.9 216.6h1M445.9 221.1h1M440.1 213.4h1M442.9 209.8h1M429.7 220.0h1M429.4 223.5h1M445.4 212.5h1M439.6 214.0h1M445.9 218.5h1M433.9 218.9h1M445.4 212.2h1M439.8 219.6h1M452.6 213.1h1M430.9 219.0h1M444.6 223.2h1M449.1 222.4h1M441.6 216.7h1M438.9 210.3h1M436.0 219.2h1M442.8 221.3h1M440.2 216.3h1M446.2 218.1h1M433.9 218.3h1M443.4 215.4h1M445.1 219.6h1M430.0 217.9h1M436.5 214.8h1M431.4 220.3h1M445.8 226.0h1M439.7 211.9h1M441.7 210.5h1M438.7 213.0h1M440.1 217.5h1M450.5 212.7h1M440.5 216.0h1M443.0 227.5h1M438.0 213.4h1M453.8 217.9h1M431.9 222.3h1M435.8 227.4h1M445.9 217.4h1M434.6 218.5h1M445.8 220.3h1M440.1 220.5h1M449.7 214.5h1M443.8 215.8h1M445.8 212.0h1M442.4 225.0h1M446.5 226.5h1M434.6 222.8h1M438.9 226.9h1M449.8 219.1h1M432.5 219.2h1M447.1 222.4h1M436.0 215.6h1M438.0 221.3h1M443.5 218.7h1M445.8 219.0h1M434.3 214.4h1M447.0 213.3h1M436.2 224.5h1M439.8 218.1h1M443.9 216.1h1M444.0 222.7h1M451.8 217.7h1M432.9 222.9h1M444.5 227.8h1M445.8 213.2h1M447.1 210.0h1M430.1 223.5h1M447.9 208.4h1M442.5 216.5h1M438.7 215.4h1M448.9 208.8h1M450.5 214.9h1M435.5 221.9h1M437.6 214.7h1M432.4 225.0h1M435.8 217.8h1M449.5 221.3h1M446.1 212.8h1M437.6 217.2h1M437.7 221.6h1M438.3 221.0h1M439.4 216.1h1M440.9 222.2h1M445.2 219.8h1M442.8 216.2h1M448.0 220.9h1M438.7 219.1h1M441.6 221.9h1M450.7 218.9h1M438.4 223.4h1M447.3 221.3h1M435.1 215.1h1M442.3 228.5h1M439.9 226.7h1M441.5 208.4h1M437.9 222.0h1M445.1 218.5h1M438.3 218.5h1M446.8 211.0h1M438.0 218.6h1M440.3 217.4h1M436.8 213.5h1M440.1 213.4h1M443.7 209.9h1M432.6 226.2h1M439.1 217.3h1M444.6 217.5h1M433.9 226.1h1M440.8 219.5h1" stroke="#484848" stroke-width="1.2" stroke-opacity="0.85" fill="none"/>
<path d="M448.3 227.6h1M445.0 207.1h1M419.6 227.9h1M446.2 228.7h1M425.3 223.0h1M452.2 206.3h1M431.0 213.4h1M429.5 211.1h1M428.2 219.8h1M441.9 207.5h1M430.6 230.7h1M427.2 223.4h1M454.0 207.9h1M445.4 198.6h1M442.0 205.7h1M439.1 180.7h1M430.5 210.7h1M434.5 197.3h1M441.0 189.4h1M446.4 212.4h1M452.8 203.7h1M449.0 200.9h1M453.3 209.5h1M444.2 207.2h1M442.6 191.9h1M445.7 207.1h1M444.1 207.2h1M437.0 209.4h1M451.6 210.1h1M435.8 212.6h1M448.5 182.0h1M445.6 190.5h1M433.7 210.7h1M441.5 202.0h1M433.6 208.1h1M447.8 207.4h1M430.4 192.6h1M438.3 189.6h1M450.1 188.9h1M430.4 183.6h1M444.1 212.3h1M439.9 187.8h1M436.6 204.3h1M435.4 186.7h1M459.6 179.3h1M447.5 201.3h1M421.5 185.6h1M434.0 203.4h1M441.8 194.1h1M442.3 207.7h1M435.9 188.2h1M426.5 203.3h1M445.6 190.4h1M432.7 212.0h1M435.1 207.0h1M441.0 186.4h1M437.7 208.6h1M443.9 209.9h1M447.4 201.7h1M434.6 199.7h1M448.8 205.5h1M447.3 211.1h1" stroke="#777" stroke-width="1.2" stroke-opacity="0.75" fill="none"/>
<line x1="421.8" y1="169.4" x2="421.8" y2="255.5" stroke="#333" stroke-width="1.0"/>
<line x1="403.6" y1="226.1" x2="508.5" y2="226.1" stroke="#333" stroke-width="0.9"/>
<line x1="402.75" y1="169.4" x2="509.50" y2="169.4" stroke="#2a2a2a" stroke-width="1.0"/>
<line x1="508.5" y1="169.4" x2="508.5" y2="255.5" stroke="#2a2a2a" stroke-width="2.0"/>
<line x1="402.75" y1="255.5" x2="509.50" y2="255.5" stroke="#2a2a2a" stroke-width="1.6"/>
<line x1="403.6" y1="169.4" x2="403.6" y2="255.5" stroke="#2a2a2a" stroke-width="1.7"/>
<path d="M403.6 255.5v3.8M411.5 255.5v2.8M416.1 255.5v2.8M419.4 255.5v2.8M421.9 255.5v2.8M424.0 255.5v2.8M425.8 255.5v2.8M427.3 255.5v2.8M428.6 255.5v2.8M429.8 255.5v3.8M437.7 255.5v2.8M442.3 255.5v2.8M445.6 255.5v2.8M448.2 255.5v2.8M450.2 255.5v2.8M452.0 255.5v2.8M453.5 255.5v2.8M454.9 255.5v2.8M456.1 255.5v3.8M463.9 255.5v2.8M468.6 255.5v2.8M471.8 255.5v2.8M474.4 255.5v2.8M476.5 255.5v2.8M478.2 255.5v2.8M479.7 255.5v2.8M481.1 255.5v2.8M482.3 255.5v3.8M490.2 255.5v2.8M494.8 255.5v2.8M498.1 255.5v2.8M500.6 255.5v2.8M502.7 255.5v2.8M504.4 255.5v2.8M506.0 255.5v2.8M507.3 255.5v2.8M508.5 255.5v3.8" stroke="#111" stroke-width="1.2" fill="none"/>
<path d="M403.6 255.5h-3.0M403.6 249.0h-2.0M403.6 245.2h-2.0M403.6 242.5h-2.0M403.6 240.5h-2.0M403.6 238.8h-2.0M403.6 237.3h-2.0M403.6 236.1h-2.0M403.6 235.0h-2.0M403.6 234.0h-3.0M403.6 227.5h-2.0M403.6 223.7h-2.0M403.6 221.0h-2.0M403.6 218.9h-2.0M403.6 217.2h-2.0M403.6 215.8h-2.0M403.6 214.5h-2.0M403.6 213.4h-2.0M403.6 212.4h-3.0M403.6 206.0h-2.0M403.6 202.2h-2.0M403.6 199.5h-2.0M403.6 197.4h-2.0M403.6 195.7h-2.0M403.6 194.3h-2.0M403.6 193.0h-2.0M403.6 191.9h-2.0M403.6 190.9h-3.0M403.6 184.4h-2.0M403.6 180.7h-2.0M403.6 178.0h-2.0M403.6 175.9h-2.0M403.6 174.2h-2.0M403.6 172.7h-2.0M403.6 171.5h-2.0M403.6 170.4h-2.0M403.6 169.4h-3.0" stroke="#111" stroke-width="1.5" fill="none"/>
<text x="424.5" y="160.8" font-size="10.2" font-weight="bold" text-anchor="start" fill="#000" stroke="#000" stroke-width="0.3" textLength="31.0" lengthAdjust="spacingAndGlyphs" >+ESH4</text>
<text x="459.5" y="160.8" font-size="10.2" font-weight="bold" text-anchor="start" fill="#000" stroke="#000" stroke-width="0.3" textLength="18.5" lengthAdjust="spacingAndGlyphs" >(5X)</text>
<text x="465.0" y="189.3" font-size="13.5" font-weight="bold" text-anchor="start" fill="#000" textLength="27.7" lengthAdjust="spacingAndGlyphs" stroke="#000" stroke-width="0.35">16%</text>
<text x="378.6" y="177.3" font-size="10.6" font-weight="normal" fill="#1a1a1a" stroke="#1a1a1a" stroke-width="0.3">10<tspan dy="-4.2" font-size="6.7">4</tspan></text>
<text x="378.6" y="196.8" font-size="10.6" font-weight="normal" fill="#1a1a1a" stroke="#1a1a1a" stroke-width="0.3">10<tspan dy="-4.2" font-size="6.7">3</tspan></text>
<text x="378.6" y="217.5" font-size="10.6" font-weight="normal" fill="#1a1a1a" stroke="#1a1a1a" stroke-width="0.3">10<tspan dy="-4.2" font-size="6.7">2</tspan></text>
<text x="378.6" y="238.9" font-size="10.6" font-weight="normal" fill="#1a1a1a" stroke="#1a1a1a" stroke-width="0.3">10<tspan dy="-4.2" font-size="6.7">1</tspan></text>
<text x="378.6" y="260.4" font-size="10.6" font-weight="normal" fill="#1a1a1a" stroke="#1a1a1a" stroke-width="0.3">10<tspan dy="-4.2" font-size="6.7">0</tspan></text>
<text x="401.3" y="269.3" font-size="10.6" font-weight="normal" fill="#1a1a1a" stroke="#1a1a1a" stroke-width="0.3">10<tspan dy="-4.2" font-size="6.7">0</tspan></text>
<text x="425.3" y="269.3" font-size="10.6" font-weight="normal" fill="#1a1a1a" stroke="#1a1a1a" stroke-width="0.3">10<tspan dy="-4.2" font-size="6.7">1</tspan></text>
<text x="449.3" y="269.3" font-size="10.6" font-weight="normal" fill="#1a1a1a" stroke="#1a1a1a" stroke-width="0.3">10<tspan dy="-4.2" font-size="6.7">2</tspan></text>
<text x="473.4" y="269.3" font-size="10.6" font-weight="normal" fill="#1a1a1a" stroke="#1a1a1a" stroke-width="0.3">10<tspan dy="-4.2" font-size="6.7">3</tspan></text>
<text x="496.6" y="269.3" font-size="10.6" font-weight="normal" fill="#1a1a1a" stroke="#1a1a1a" stroke-width="0.3">10<tspan dy="-4.2" font-size="6.7">4</tspan></text>
</g>
<path d="M29.5 172V287.1H172.5" stroke="#000" stroke-width="2.2" fill="none"/>
<path d="M29.4 149.2L35.6 174H23.1Z" fill="#000"/>
<path d="M195.6 286.9L171.2 280.2V293.7Z" fill="#000"/>
<text x="0.0" y="0.0" font-size="12" font-weight="bold" text-anchor="start" fill="#000" stroke="#000" stroke-width="0.3" textLength="22.0" lengthAdjust="spacingAndGlyphs" transform="translate(17.4,247.4) rotate(-90)">FL1</text>
<text x="43.0" y="307.5" font-size="15" font-weight="bold" text-anchor="start" fill="#000" stroke="#000" stroke-width="0.3" textLength="114.3" lengthAdjust="spacingAndGlyphs" >Forward Scatter</text>
<path d="M55.2 362H223.8V462.6" stroke="#111" stroke-width="1" fill="none"/>
<path d="M77.8 384.0V375.8M75.3 375.8H80.3" stroke="#222" stroke-width="1" fill="none"/>
<rect x="70.2" y="383.9" width="14.7" height="78.7" fill="#7a7a7a" stroke="#7a7a7a" stroke-width="0.5"/>
<path d="M111.8 431.7V419.4M109.3 419.4H114.3" stroke="#222" stroke-width="1" fill="none"/>
<rect x="105.4" y="431.7" width="12.9" height="30.9" fill="#fff" stroke="#111" stroke-width="1"/>
<path d="M124.6 438.4V425.6M122.1 425.6H127.1" stroke="#222" stroke-width="1" fill="none"/>
<rect x="118.3" y="438.4" width="12.5" height="24.2" fill="#000" stroke="#111" stroke-width="1"/>
<path d="M154.7 440.0V428.3M152.2 428.3H157.2" stroke="#222" stroke-width="1" fill="none"/>
<rect x="148.5" y="440.0" width="12.3" height="22.6" fill="#fff" stroke="#111" stroke-width="1"/>
<path d="M167.0 447.0V437.0M164.5 437.0H169.5" stroke="#222" stroke-width="1" fill="none"/>
<rect x="160.8" y="447.0" width="12.4" height="15.6" fill="#000" stroke="#111" stroke-width="1"/>
<path d="M196.8 453.0V448.6M194.3 448.6H199.3" stroke="#222" stroke-width="1" fill="none"/>
<rect x="190.6" y="453.0" width="12.4" height="9.6" fill="#fff" stroke="#111" stroke-width="1"/>
<path d="M209.2 449.2V441.5M206.7 441.5H211.7" stroke="#222" stroke-width="1" fill="none"/>
<rect x="203.0" y="449.2" width="12.3" height="13.4" fill="#000" stroke="#111" stroke-width="1"/>
<path d="M55.2 362V462.6H223.8" stroke="#111" stroke-width="1.1" fill="none"/>
<path d="M55.2 362h-2.5M55.2 412.6h-2.5M55.2 462.6h-2.5M55.2 387.5h1.5M55.2 437.6h1.5M55.2 462.6v3M97.3 462.6v3M139.5 462.6v3M181.7 462.6v3M223.8 462.6v3" stroke="#000" stroke-width="1" fill="none"/>
<text x="51.8" y="365.3" font-size="7.6" font-weight="bold" text-anchor="end" fill="#111" stroke="#111" stroke-width="0.3" textLength="23.0" lengthAdjust="spacingAndGlyphs" >100.00</text>
<text x="51.8" y="415.4" font-size="7.6" font-weight="bold" text-anchor="end" fill="#111" stroke="#111" stroke-width="0.3" textLength="19.0" lengthAdjust="spacingAndGlyphs" >50.00</text>
<text x="51.8" y="465.4" font-size="7.6" font-weight="bold" text-anchor="end" fill="#111" stroke="#111" stroke-width="0.3" textLength="14.8" lengthAdjust="spacingAndGlyphs" >0.00</text>
<text x="0.0" y="0.0" font-size="10.2" font-weight="bold" text-anchor="start" fill="#000" stroke="#000" stroke-width="0.3" textLength="114.5" lengthAdjust="spacingAndGlyphs" transform="translate(21,472) rotate(-90)">% platelets binding C1C2*</text>
<text x="62.6" y="475" font-size="11.4" font-weight="bold" fill="#000" stroke="#000" stroke-width="0.2">C1C2<tspan dy="-2.6" font-size="10.5">*</tspan></text>
<text x="60.8" y="484.5" font-size="7.8" font-weight="bold" text-anchor="start" fill="#000" stroke="#000" stroke-width="0.3" textLength="34.4" lengthAdjust="spacingAndGlyphs" >(0.25 µM)</text>
<text x="117.0" y="475.4" font-size="11.4" font-weight="bold" text-anchor="middle" fill="#000" stroke="#000" stroke-width="0.2">1</text>
<text x="160.0" y="475.4" font-size="11.4" font-weight="bold" text-anchor="middle" fill="#000" stroke="#000" stroke-width="0.2">2</text>
<text x="203.8" y="475.4" font-size="11.4" font-weight="bold" text-anchor="middle" fill="#000" stroke="#000" stroke-width="0.2">4</text>
<text x="100.8" y="486.2" font-size="8.3" font-weight="bold" text-anchor="start" fill="#000" stroke="#000" stroke-width="0.3" textLength="126.7" lengthAdjust="spacingAndGlyphs" >Molar Ratio (FVIII or FVIIIa/C1C2*)</text>
<path d="M299.3 363.3H471.5V464.2" stroke="#111" stroke-width="1" fill="none"/>
<path d="M320.8 391.0V371.4M317.8 371.4H323.8" stroke="#222" stroke-width="1" fill="none"/>
<rect x="313.0" y="390.2" width="16.0" height="74.0" fill="#7a7a7a" stroke="#7a7a7a" stroke-width="0.5"/>
<path d="M357.2 433.0V424.0M354.7 424.0H359.7" stroke="#222" stroke-width="1" fill="none"/>
<rect x="350.6" y="433.0" width="13.2" height="31.2" fill="#fff" stroke="#111" stroke-width="1"/>
<path d="M370.4 443.0V436.0M367.9 436.0H372.9" stroke="#222" stroke-width="1" fill="none"/>
<rect x="363.8" y="443.0" width="13.1" height="21.2" fill="#000" stroke="#111" stroke-width="1"/>
<path d="M400.3 448.3V442.5M397.8 442.5H402.8" stroke="#222" stroke-width="1" fill="none"/>
<rect x="393.8" y="448.3" width="13.0" height="15.9" fill="#fff" stroke="#111" stroke-width="1"/>
<path d="M413.1 451.4V446.2M410.6 446.2H415.6" stroke="#222" stroke-width="1" fill="none"/>
<rect x="406.8" y="451.4" width="12.6" height="12.8" fill="#000" stroke="#111" stroke-width="1"/>
<path d="M443.0 459.6V456.4M440.5 456.4H445.5" stroke="#222" stroke-width="1" fill="none"/>
<rect x="436.5" y="459.6" width="13.0" height="4.6" fill="#fff" stroke="#111" stroke-width="1"/>
<path d="M455.9 462.0V461.0M453.4 461.0H458.4" stroke="#222" stroke-width="1" fill="none"/>
<rect x="449.5" y="462.0" width="12.8" height="2.2" fill="#000" stroke="#111" stroke-width="1"/>
<path d="M299.3 363.3V464.2H471.5" stroke="#111" stroke-width="1.1" fill="none"/>
<path d="M299.3 363.3h-2.5M299.3 413.4h-2.5M299.3 464.2h-2.5M299.3 388.3h1.5M299.3 438.7h1.5M299.3 464.2v3M342.3 464.2v3M385.4 464.2v3M428.4 464.2v3M471.5 464.2v3" stroke="#000" stroke-width="1" fill="none"/>
<text x="296.2" y="366.0" font-size="8" font-weight="bold" text-anchor="end" fill="#111" stroke="#111" stroke-width="0.3" textLength="18.8" lengthAdjust="spacingAndGlyphs" >40.00</text>
<text x="296.2" y="416.2" font-size="8" font-weight="bold" text-anchor="end" fill="#111" stroke="#111" stroke-width="0.3" textLength="18.8" lengthAdjust="spacingAndGlyphs" >20.00</text>
<text x="296.2" y="467.0" font-size="8" font-weight="bold" text-anchor="end" fill="#111" stroke="#111" stroke-width="0.3" textLength="15.0" lengthAdjust="spacingAndGlyphs" >0.00</text>
<text x="0.0" y="0.0" font-size="10.2" font-weight="bold" text-anchor="start" fill="#000" stroke="#000" stroke-width="0.3" textLength="106.7" lengthAdjust="spacingAndGlyphs" transform="translate(269,467.7) rotate(-90)">% platelets binding C2*</text>
<text x="313" y="476.4" font-size="11.4" font-weight="bold" fill="#000" stroke="#000" stroke-width="0.2">C2<tspan dx="1" dy="-2.6" font-size="10.5">*</tspan></text>
<text x="305.2" y="485.1" font-size="7.8" font-weight="bold" text-anchor="start" fill="#000" stroke="#000" stroke-width="0.3" textLength="34.0" lengthAdjust="spacingAndGlyphs" >(0.25 µM)</text>
<text x="363.0" y="476.5" font-size="11.4" font-weight="bold" text-anchor="middle" fill="#000" stroke="#000" stroke-width="0.2">1</text>
<text x="406.8" y="476.5" font-size="11.4" font-weight="bold" text-anchor="middle" fill="#000" stroke="#000" stroke-width="0.2">2</text>
<text x="449.2" y="476.5" font-size="11.4" font-weight="bold" text-anchor="middle" fill="#000" stroke="#000" stroke-width="0.2">4</text>
<text x="349.3" y="486.4" font-size="8.3" font-weight="bold" text-anchor="start" fill="#000" stroke="#000" stroke-width="0.3" textLength="117.6" lengthAdjust="spacingAndGlyphs" >Molar Ratio (FVIII or FVIIIa/C2*)</text>
<rect x="484.3" y="406.2" width="6" height="6.6" fill="#fff" stroke="#111" stroke-width="1.1"/>
<rect x="484.3" y="422.3" width="6" height="5.6" fill="#000" stroke="#000" stroke-width="1"/>
<text x="494.8" y="412.9" font-size="9.3" font-weight="bold" text-anchor="start" fill="#000" stroke="#000" stroke-width="0.3" textLength="19.4" lengthAdjust="spacingAndGlyphs" >FVIII</text>
<text x="494.8" y="427.7" font-size="9.3" font-weight="bold" text-anchor="start" fill="#000" stroke="#000" stroke-width="0.3" textLength="24.9" lengthAdjust="spacingAndGlyphs" >FVIIIa</text>
<path d="M42.7 569.9V567.3M40.8 567.3H44.6" stroke="#222" stroke-width="1" fill="none"/>
<rect x="37.2" y="569.9" width="11.0" height="71.7" fill="#000" stroke="#111" stroke-width="0.9"/>
<path d="M69.5 586.4V580.5M67.6 580.5H71.4" stroke="#222" stroke-width="1" fill="none"/>
<rect x="64.0" y="586.4" width="11.0" height="55.2" fill="#000" stroke="#111" stroke-width="0.9"/>
<path d="M96.3 597.6V590.0M94.4 590.0H98.2" stroke="#222" stroke-width="1" fill="none"/>
<rect x="90.8" y="597.6" width="11.0" height="44.0" fill="#000" stroke="#111" stroke-width="0.9"/>
<path d="M123.5 626.2V620.8M121.6 620.8H125.4" stroke="#222" stroke-width="1" fill="none"/>
<rect x="118.0" y="626.2" width="11.0" height="15.4" fill="#000" stroke="#111" stroke-width="0.9"/>
<path d="M150.6 637.0V635.4M148.7 635.4H152.5" stroke="#222" stroke-width="1" fill="none"/>
<rect x="145.2" y="637.0" width="10.8" height="4.6" fill="#000" stroke="#111" stroke-width="0.9"/>
<rect x="29.3" y="553.7" width="134.5" height="87.9" fill="none" stroke="#0a0a0a" stroke-width="1.25"/>
<path d="M29.3 553.7h-2.2M29.3 597.7h-2.2M29.3 641.6h-2.2M29.3 575.7h1.4M29.3 619.6h1.4M55.5 641.6v2.2M82.5 641.6v2.2M109.5 641.6v2.2M136.5 641.6v2.2" stroke="#111" stroke-width="0.9" fill="none"/>
<text x="26.9" y="556.2" font-size="7" font-weight="bold" text-anchor="end" fill="#000" stroke="#000" stroke-width="0.3" textLength="11.4" lengthAdjust="spacingAndGlyphs" >100</text>
<text x="26.9" y="600.2" font-size="7" font-weight="bold" text-anchor="end" fill="#000" stroke="#000" stroke-width="0.3" textLength="7.8" lengthAdjust="spacingAndGlyphs" >50</text>
<text x="26.9" y="644.1" font-size="7" font-weight="bold" text-anchor="end" fill="#000" stroke="#000" stroke-width="0.3" >0</text>
<text x="0.0" y="0.0" font-size="7.8" font-weight="bold" text-anchor="start" fill="#000" stroke="#000" stroke-width="0.3" textLength="99.0" lengthAdjust="spacingAndGlyphs" transform="translate(10.2,649) rotate(-90)">% platelets binding FVIIIa*</text>
<text x="43.7" y="650.7" font-size="6.4" font-weight="bold" text-anchor="middle" fill="#000" stroke="#000" stroke-width="0.3" textLength="21.8" lengthAdjust="spacingAndGlyphs" >FVIIIa*</text>
<text x="70.5" y="650.7" font-size="6.6" font-weight="bold" text-anchor="middle" fill="#000" stroke="#000" stroke-width="0.3" >1</text>
<text x="97.0" y="650.7" font-size="6.6" font-weight="bold" text-anchor="middle" fill="#000" stroke="#000" stroke-width="0.3" >2</text>
<text x="123.7" y="650.5" font-size="6.6" font-weight="bold" text-anchor="middle" fill="#000" stroke="#000" stroke-width="0.3" >5</text>
<text x="150.7" y="650.5" font-size="6.6" font-weight="bold" text-anchor="middle" fill="#000" stroke="#000" stroke-width="0.3" >10</text>
<text x="66.5" y="662.0" font-size="7.3" font-weight="bold" text-anchor="start" fill="#000" stroke="#000" stroke-width="0.3" textLength="91.0" lengthAdjust="spacingAndGlyphs" >Molar Ratio (FVIIIa/FVIIIa*)</text>
<path d="M216.2 573.2V569.4M214.2 569.4H218.1" stroke="#222" stroke-width="1" fill="none"/>
<rect x="211.5" y="573.2" width="9.3" height="66.2" fill="#b8b8b8" stroke="#333" stroke-width="0.9"/>
<path d="M238.9 573.8V569.9M237.0 569.9H240.8" stroke="#222" stroke-width="1" fill="none"/>
<rect x="234.4" y="573.8" width="9.0" height="65.6" fill="#b8b8b8" stroke="#333" stroke-width="0.9"/>
<path d="M261.3 579.2V574.5M259.4 574.5H263.2" stroke="#222" stroke-width="1" fill="none"/>
<rect x="256.6" y="579.2" width="9.4" height="60.2" fill="#b8b8b8" stroke="#333" stroke-width="0.9"/>
<path d="M283.4 598.1V596.2M281.5 596.2H285.3" stroke="#222" stroke-width="1" fill="none"/>
<rect x="278.8" y="598.1" width="9.2" height="41.3" fill="#b8b8b8" stroke="#333" stroke-width="0.9"/>
<path d="M306.2 613.6V607.4M304.3 607.4H308.1" stroke="#222" stroke-width="1" fill="none"/>
<rect x="301.7" y="613.6" width="9.0" height="25.8" fill="#b8b8b8" stroke="#333" stroke-width="0.9"/>
<path d="M328.8 633.3V631.1M326.9 631.1H330.6" stroke="#222" stroke-width="1" fill="none"/>
<rect x="324.2" y="633.3" width="9.1" height="6.1" fill="#b8b8b8" stroke="#333" stroke-width="0.9"/>
<rect x="205.2" y="553.8" width="134.6" height="85.6" fill="none" stroke="#0a0a0a" stroke-width="1.25"/>
<path d="M205.2 553.8h-2.2M205.2 596.6h-2.2M205.2 639.4h-2.2M205.2 575.2h1.4M205.2 618.0h1.4M228 639.4v2.2M250 639.4v2.2M272.5 639.4v2.2M295 639.4v2.2M317.5 639.4v2.2" stroke="#111" stroke-width="0.9" fill="none"/>
<text x="203.0" y="556.3" font-size="7" font-weight="bold" text-anchor="end" fill="#000" stroke="#000" stroke-width="0.3" textLength="11.4" lengthAdjust="spacingAndGlyphs" >100</text>
<text x="203.0" y="599.1" font-size="7" font-weight="bold" text-anchor="end" fill="#000" stroke="#000" stroke-width="0.3" textLength="7.8" lengthAdjust="spacingAndGlyphs" >50</text>
<text x="203.0" y="641.9" font-size="7" font-weight="bold" text-anchor="end" fill="#000" stroke="#000" stroke-width="0.3" >0</text>
<text x="0.0" y="0.0" font-size="7.8" font-weight="bold" text-anchor="start" fill="#000" stroke="#000" stroke-width="0.3" textLength="103.0" lengthAdjust="spacingAndGlyphs" transform="translate(187,654) rotate(-90)">% platelets binding FVIIIa*</text>
<text x="217.0" y="649.4" font-size="6.4" font-weight="bold" text-anchor="middle" fill="#000" stroke="#000" stroke-width="0.3" textLength="21.8" lengthAdjust="spacingAndGlyphs" >FVIIIa*</text>
<text x="238.4" y="649.4" font-size="6.6" font-weight="bold" text-anchor="middle" fill="#000" stroke="#000" stroke-width="0.3" >10</text>
<text x="260.9" y="649.4" font-size="6.6" font-weight="bold" text-anchor="middle" fill="#000" stroke="#000" stroke-width="0.3" >25</text>
<text x="283.6" y="649.4" font-size="6.6" font-weight="bold" text-anchor="middle" fill="#000" stroke="#000" stroke-width="0.3" >50</text>
<text x="306.4" y="649.2" font-size="6.6" font-weight="bold" text-anchor="middle" fill="#000" stroke="#000" stroke-width="0.3" >100</text>
<text x="328.6" y="648.4" font-size="6.6" font-weight="bold" text-anchor="middle" fill="#000" stroke="#000" stroke-width="0.3" >200</text>
<text x="240.5" y="662.2" font-size="7.3" font-weight="bold" text-anchor="start" fill="#000" stroke="#000" stroke-width="0.3" textLength="90.4" lengthAdjust="spacingAndGlyphs" >Molar Ratio (C1C2/FVIIIa*)</text>
<path d="M391.4 572.3V569.3M389.5 569.3H393.3" stroke="#222" stroke-width="1" fill="none"/>
<rect x="386.5" y="572.3" width="9.8" height="67.3" fill="#fff" stroke="#222" stroke-width="0.9"/>
<path d="M414.4 572.3V569.3M412.5 569.3H416.3" stroke="#222" stroke-width="1" fill="none"/>
<rect x="409.6" y="572.3" width="9.6" height="67.3" fill="#fff" stroke="#222" stroke-width="0.9"/>
<path d="M436.8 575.5V573.5M434.9 573.5H438.6" stroke="#222" stroke-width="1" fill="none"/>
<rect x="431.9" y="575.5" width="9.7" height="64.1" fill="#fff" stroke="#222" stroke-width="0.9"/>
<path d="M459.3 580.0V576.4M457.4 576.4H461.2" stroke="#222" stroke-width="1" fill="none"/>
<rect x="454.6" y="580.0" width="9.4" height="59.6" fill="#fff" stroke="#222" stroke-width="0.9"/>
<path d="M482.1 588.2V584.5M480.2 584.5H484.0" stroke="#222" stroke-width="1" fill="none"/>
<rect x="477.4" y="588.2" width="9.4" height="51.4" fill="#fff" stroke="#222" stroke-width="0.9"/>
<path d="M504.6 592.6V584.9M502.7 584.9H506.4" stroke="#222" stroke-width="1" fill="none"/>
<rect x="499.8" y="592.6" width="9.5" height="47.0" fill="#fff" stroke="#222" stroke-width="0.9"/>
<rect x="380.2" y="553.3" width="135.4" height="86.3" fill="none" stroke="#0a0a0a" stroke-width="1.25"/>
<path d="M380.2 553.3h-2.2M380.2 596.5h-2.2M380.2 639.6h-2.2M380.2 574.9h1.4M380.2 618.0h1.4M403 639.6v2.2M425.5 639.6v2.2M448 639.6v2.2M470.5 639.6v2.2M493 639.6v2.2" stroke="#111" stroke-width="0.9" fill="none"/>
<text x="378.0" y="555.8" font-size="7" font-weight="bold" text-anchor="end" fill="#000" stroke="#000" stroke-width="0.3" textLength="11.4" lengthAdjust="spacingAndGlyphs" >100</text>
<text x="378.0" y="599.0" font-size="7" font-weight="bold" text-anchor="end" fill="#000" stroke="#000" stroke-width="0.3" textLength="7.8" lengthAdjust="spacingAndGlyphs" >50</text>
<text x="378.0" y="642.1" font-size="7" font-weight="bold" text-anchor="end" fill="#000" stroke="#000" stroke-width="0.3" >0</text>
<text x="0.0" y="0.0" font-size="7.8" font-weight="bold" text-anchor="start" fill="#000" stroke="#000" stroke-width="0.3" textLength="97.0" lengthAdjust="spacingAndGlyphs" transform="translate(362,647.5) rotate(-90)">% platelets binding FVIIIa*</text>
<text x="391.6" y="649.4" font-size="6.4" font-weight="bold" text-anchor="middle" fill="#000" stroke="#000" stroke-width="0.3" textLength="21.8" lengthAdjust="spacingAndGlyphs" >FVIIIa*</text>
<text x="413.0" y="649.4" font-size="6.6" font-weight="bold" text-anchor="middle" fill="#000" stroke="#000" stroke-width="0.3" >25</text>
<text x="436.6" y="649.4" font-size="6.6" font-weight="bold" text-anchor="middle" fill="#000" stroke="#000" stroke-width="0.3" >50</text>
<text x="459.2" y="648.9" font-size="6.6" font-weight="bold" text-anchor="middle" fill="#000" stroke="#000" stroke-width="0.3" >100</text>
<text x="482.4" y="648.9" font-size="6.6" font-weight="bold" text-anchor="middle" fill="#000" stroke="#000" stroke-width="0.3" >200</text>
<text x="504.8" y="648.9" font-size="6.6" font-weight="bold" text-anchor="middle" fill="#000" stroke="#000" stroke-width="0.3" >500</text>
<text x="420.6" y="660.6" font-size="7.3" font-weight="bold" text-anchor="start" fill="#000" stroke="#000" stroke-width="0.3" textLength="81.0" lengthAdjust="spacingAndGlyphs" >Molar Ratio (C2/FVIIIa*)</text>
</svg></body></html>
